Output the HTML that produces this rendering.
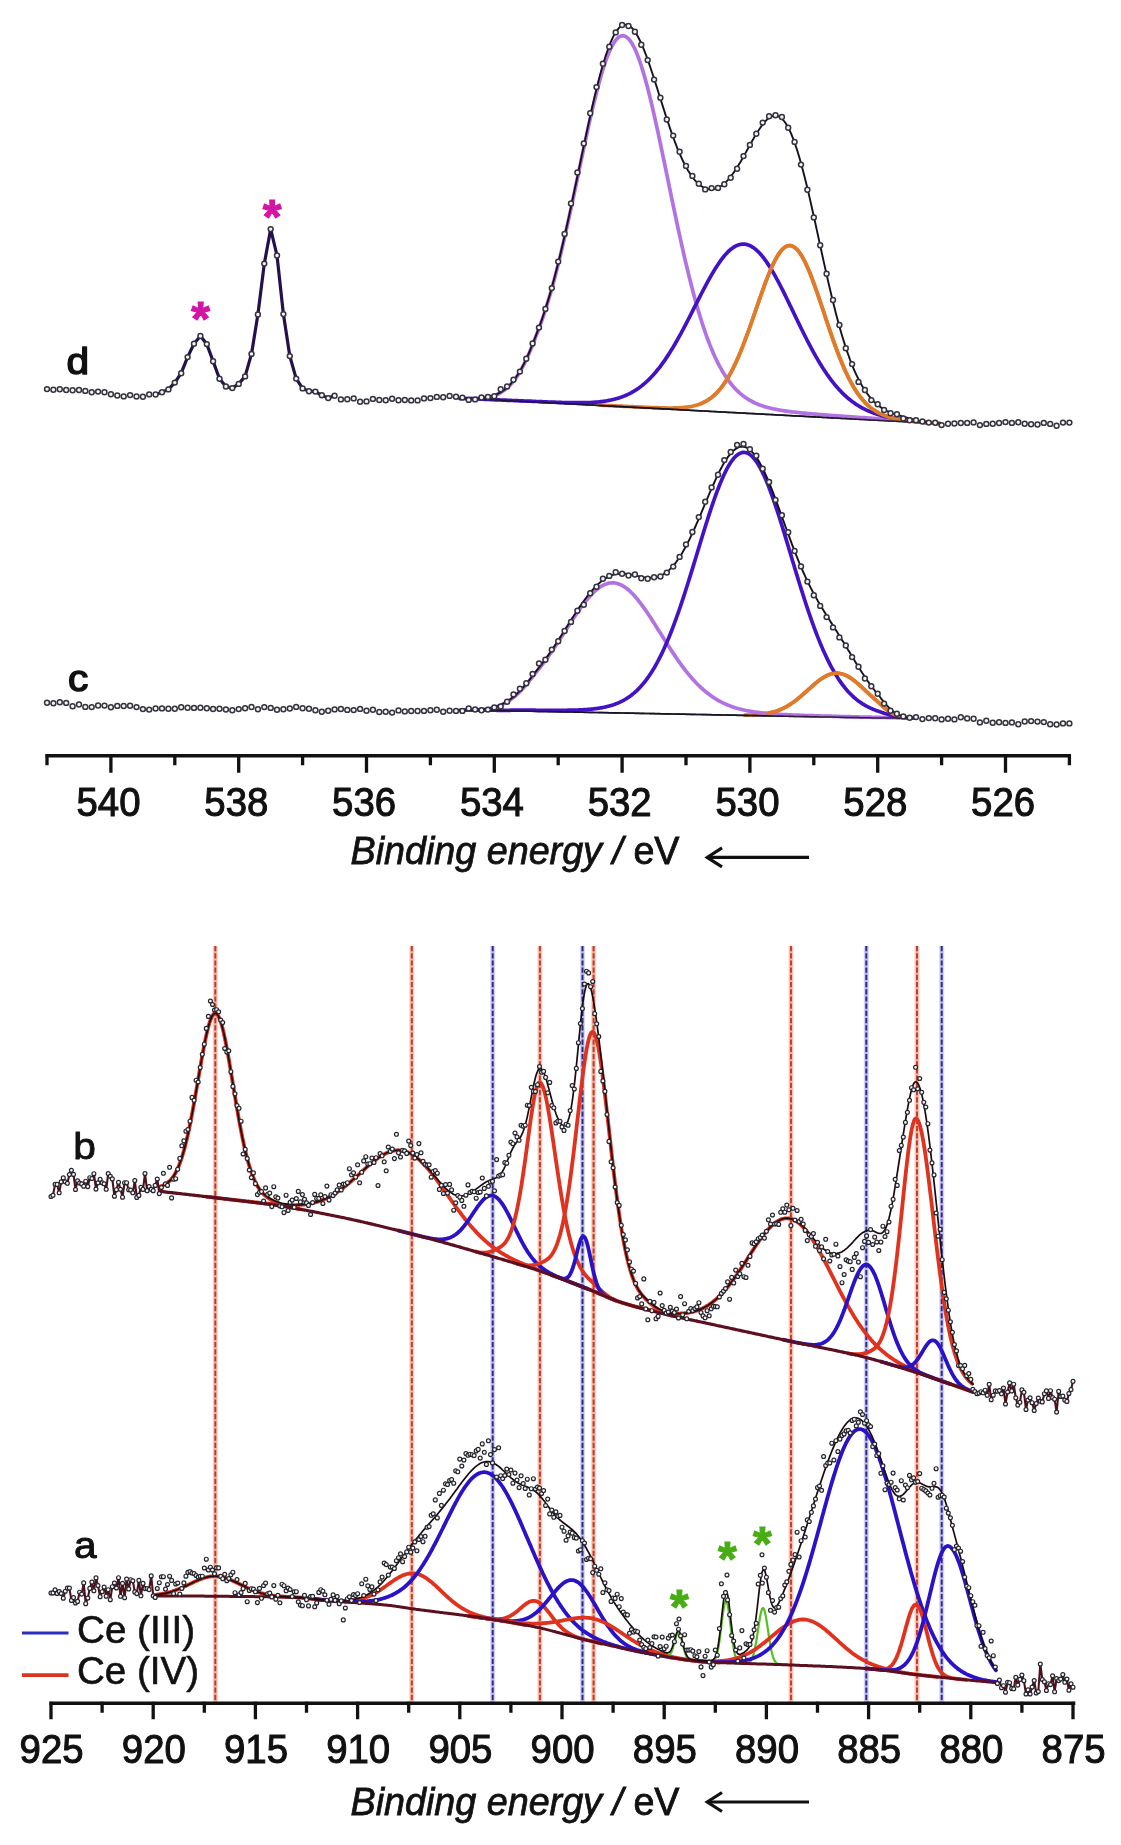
<!DOCTYPE html>
<html lang="en">
<head>
<meta charset="utf-8">
<title>XPS spectra: O 1s and Ce 3d</title>
<style>
html,body{margin:0;padding:0;background:#fff;}
body{width:1121px;height:1845px;overflow:hidden;font-family:"Liberation Sans",Arial,Helvetica,sans-serif;}
svg{display:block;filter:blur(0.7px);}
</style>
</head>
<body>
<svg width="1121" height="1845" viewBox="0 0 1121 1845">
<rect width="1121" height="1845" fill="#fff"/>
<path d="M155.6,394.5 L162.0,392.3 L168.4,389.4 L174.8,382.6 L181.2,373.2 L187.6,357.1 L194.0,343.7 L200.4,336.0 L206.8,344.1 L213.1,361.3 L219.5,378.8 L225.9,386.5 L232.3,388.1 L238.7,383.9 L245.1,376.4 L251.5,353.9 L257.9,314.5 L264.3,263.6 L270.7,229.1 L277.0,255.5 L283.4,314.1 L289.8,356.1 L296.2,378.6 L302.6,388.4 L309.0,391.2 L315.4,391.6 L321.8,395.3 L328.2,398.1 L334.6,395.7" fill="none" stroke="#24104f" stroke-width="3.2" stroke-linejoin="round" stroke-linecap="round" />
<path d="M600.0,405.1 L601.0,405.2 L602.0,405.2 L603.0,405.3 L604.0,405.3 L605.0,405.4 L606.0,405.4 L607.0,405.5 L608.0,405.5 L609.0,405.6 L610.0,405.6 L611.0,405.7 L612.0,405.7 L613.0,405.8 L614.0,405.8 L615.0,405.9 L616.0,405.9 L617.0,406.0 L618.0,406.0 L619.0,406.1 L620.0,406.1 L621.0,406.2 L622.0,406.2 L623.0,406.3 L624.0,406.3 L625.0,406.3 L626.0,406.4 L627.0,406.4 L628.0,406.5 L629.0,406.5 L630.0,406.6 L631.0,406.6 L632.0,406.7 L633.0,406.7 L634.0,406.8 L635.0,406.8 L636.0,406.9 L637.0,406.9 L638.0,407.0 L639.0,407.0 L640.0,407.0 L641.0,407.1 L642.0,407.1 L643.0,407.2 L644.0,407.2 L645.0,407.3 L646.0,407.3 L647.0,407.3 L648.0,407.4 L649.0,407.4 L650.0,407.5 L651.0,407.5 L652.0,407.5 L653.0,407.6 L654.0,407.6 L655.0,407.6 L656.0,407.7 L657.0,407.7 L658.0,407.7 L659.0,407.8 L660.0,407.8 L661.0,407.8 L662.0,407.9 L663.0,407.9 L664.0,407.9 L665.0,407.9 L666.0,407.9 L667.0,408.0 L668.0,408.0 L669.0,408.0 L670.0,408.0 L671.0,408.0 L672.0,408.0 L673.0,408.0 L674.0,407.9 L675.0,407.9 L676.0,407.9 L677.0,407.9 L678.0,407.8 L679.0,407.8 L680.0,407.7 L681.0,407.7 L682.0,407.6 L683.0,407.5 L684.0,407.4 L685.0,407.3 L686.0,407.2 L687.0,407.1 L688.0,407.0 L689.0,406.8 L690.0,406.7 L691.0,406.5 L692.0,406.3 L693.0,406.1 L694.0,405.8 L695.0,405.6 L696.0,405.3 L697.0,405.0 L698.0,404.7 L699.0,404.4 L700.0,404.0 L701.0,403.6 L702.0,403.2 L703.0,402.7 L704.0,402.3 L705.0,401.7 L706.0,401.2 L707.0,400.6 L708.0,400.0 L709.0,399.3 L710.0,398.6 L711.0,397.9 L712.0,397.1 L713.0,396.3 L714.0,395.4 L715.0,394.5 L716.0,393.5 L717.0,392.5 L718.0,391.4 L719.0,390.3 L720.0,389.1 L721.0,387.9 L722.0,386.6 L723.0,385.3 L724.0,383.8 L725.0,382.4 L726.0,380.9 L727.0,379.3 L728.0,377.6 L729.0,375.9 L730.0,374.1 L731.0,372.3 L732.0,370.4 L733.0,368.5 L734.0,366.4 L735.0,364.4 L736.0,362.2 L737.0,360.0 L738.0,357.8 L739.0,355.4 L740.0,353.1 L741.0,350.6 L742.0,348.1 L743.0,345.6 L744.0,343.0 L745.0,340.4 L746.0,337.7 L747.0,335.0 L748.0,332.3 L749.0,329.5 L750.0,326.7 L751.0,323.9 L752.0,321.0 L753.0,318.1 L754.0,315.2 L755.0,312.3 L756.0,309.4 L757.0,306.5 L758.0,303.6 L759.0,300.7 L760.0,297.8 L761.0,295.0 L762.0,292.2 L763.0,289.4 L764.0,286.6 L765.0,283.9 L766.0,281.2 L767.0,278.6 L768.0,276.1 L769.0,273.6 L770.0,271.2 L771.0,268.8 L772.0,266.6 L773.0,264.4 L774.0,262.4 L775.0,260.4 L776.0,258.5 L777.0,256.8 L778.0,255.1 L779.0,253.6 L780.0,252.2 L781.0,250.9 L782.0,249.8 L783.0,248.8 L784.0,247.9 L785.0,247.1 L786.0,246.5 L787.0,246.1 L788.0,245.8 L789.0,245.6 L790.0,245.6 L791.0,245.7 L792.0,246.0 L793.0,246.4 L794.0,247.0 L795.0,247.7 L796.0,248.5 L797.0,249.5 L798.0,250.6 L799.0,251.9 L800.0,253.3 L801.0,254.8 L802.0,256.4 L803.0,258.1 L804.0,260.0 L805.0,262.0 L806.0,264.1 L807.0,266.2 L808.0,268.5 L809.0,270.9 L810.0,273.3 L811.0,275.8 L812.0,278.4 L813.0,281.1 L814.0,283.8 L815.0,286.6 L816.0,289.4 L817.0,292.2 L818.0,295.1 L819.0,298.1 L820.0,301.0 L821.0,304.0 L822.0,307.0 L823.0,310.0 L824.0,313.0 L825.0,316.0 L826.0,319.1 L827.0,322.0 L828.0,325.0 L829.0,328.0 L830.0,330.9 L831.0,333.9 L832.0,336.7 L833.0,339.6 L834.0,342.4 L835.0,345.2 L836.0,347.9 L837.0,350.6 L838.0,353.2 L839.0,355.8 L840.0,358.4 L841.0,360.9 L842.0,363.3 L843.0,365.6 L844.0,367.9 L845.0,370.2 L846.0,372.4 L847.0,374.5 L848.0,376.6 L849.0,378.6 L850.0,380.5 L851.0,382.4 L852.0,384.2 L853.0,386.0 L854.0,387.7 L855.0,389.3 L856.0,390.9 L857.0,392.4 L858.0,393.8 L859.0,395.2 L860.0,396.6 L861.0,397.8 L862.0,399.1 L863.0,400.2 L864.0,401.4 L865.0,402.4 L866.0,403.5 L867.0,404.5 L868.0,405.4 L869.0,406.3 L870.0,407.1 L871.0,407.9 L872.0,408.7 L873.0,409.4 L874.0,410.1 L875.0,410.8 L876.0,411.4 L877.0,412.0 L878.0,412.5 L879.0,413.1 L880.0,413.6 L881.0,414.0 L882.0,414.5 L883.0,414.9 L884.0,415.3 L885.0,415.7 L886.0,416.0 L887.0,416.4 L888.0,416.7 L889.0,417.0 L890.0,417.3 L891.0,417.6 L892.0,417.8 L893.0,418.0 L894.0,418.3 L895.0,418.5 L896.0,418.7 L897.0,418.9 L898.0,419.1 L899.0,419.3 L900.0,419.4 L901.0,419.6 L902.0,419.7 L903.0,419.9 L904.0,420.1 L905.0,420.2 L906.0,420.4 L907.0,420.5 L908.0,420.6 L909.0,420.8 L910.0,420.9 L911.0,421.0 L912.0,421.2 L913.0,421.3 L914.0,421.4 L915.0,421.5 L916.0,421.6 L917.0,421.7 L918.0,421.9 L919.0,422.0 L920.0,422.1 L921.0,422.2 L922.0,422.2 L923.0,422.3 L924.0,422.4 L925.0,422.5 L926.0,422.6 L927.0,422.7 L928.0,422.8 L929.0,422.8 L930.0,422.9 L931.0,423.0 L932.0,423.1 L933.0,423.1 L934.0,423.2 L935.0,423.3 L936.0,423.3 L937.0,423.4 L938.0,423.5 L939.0,423.5 L940.0,423.6" fill="none" stroke="#e07b2a" stroke-width="3.7" stroke-linejoin="round" stroke-linecap="round" />
<path d="M460.0,398.6 L461.0,398.5 L462.0,398.5 L463.0,398.5 L464.0,398.5 L465.0,398.5 L466.0,398.5 L467.0,398.5 L468.0,398.5 L469.0,398.6 L470.0,398.6 L471.0,398.7 L472.0,398.7 L473.0,398.8 L474.0,398.8 L475.0,398.9 L476.0,398.9 L477.0,399.0 L478.0,399.0 L479.0,399.1 L480.0,399.1 L481.0,399.2 L482.0,399.2 L483.0,399.3 L484.0,399.3 L485.0,399.4 L486.0,399.5 L487.0,399.5 L488.0,399.6 L489.0,399.6 L490.0,399.7 L491.0,399.7 L492.0,399.8 L493.0,399.8 L494.0,399.9 L495.0,399.9 L496.0,400.0 L497.0,400.0 L498.0,400.1 L499.0,400.1 L500.0,400.2 L501.0,400.3 L502.0,400.3 L503.0,400.4 L504.0,400.4 L505.0,400.5 L506.0,400.5 L507.0,400.6 L508.0,400.6 L509.0,400.7 L510.0,400.7 L511.0,400.8 L512.0,400.8 L513.0,400.9 L514.0,400.9 L515.0,401.0 L516.0,401.0 L517.0,401.1 L518.0,401.2 L519.0,401.2 L520.0,401.3 L521.0,401.3 L522.0,401.4 L523.0,401.4 L524.0,401.5 L525.0,401.5 L526.0,401.6 L527.0,401.6 L528.0,401.7 L529.0,401.7 L530.0,401.8 L531.0,401.8 L532.0,401.9 L533.0,402.0 L534.0,402.0 L535.0,402.1 L536.0,402.1 L537.0,402.2 L538.0,402.2 L539.0,402.3 L540.0,402.3 L541.0,402.4 L542.0,402.4 L543.0,402.5 L544.0,402.5 L545.0,402.6 L546.0,402.6 L547.0,402.7 L548.0,402.7 L549.0,402.8 L550.0,402.9 L551.0,402.9 L552.0,403.0 L553.0,403.0 L554.0,403.1 L555.0,403.1 L556.0,403.2 L557.0,403.2 L558.0,403.3 L559.0,403.3 L560.0,403.4 L561.0,403.4 L562.0,403.5 L563.0,403.5 L564.0,403.6 L565.0,403.7 L566.0,403.7 L567.0,403.8 L568.0,403.8 L569.0,403.9 L570.0,403.9 L571.0,404.0 L572.0,404.0 L573.0,404.1 L574.0,404.1 L575.0,404.2 L576.0,404.2 L577.0,404.3 L578.0,404.3 L579.0,404.4 L580.0,404.4 L581.0,404.5 L582.0,404.6 L583.0,404.6 L584.0,404.7 L585.0,404.7 L586.0,404.8 L587.0,404.8 L588.0,404.9 L589.0,404.9 L590.0,405.0 L591.0,405.0 L592.0,405.1 L593.0,405.1 L594.0,405.2 L595.0,405.2 L596.0,405.3 L597.0,405.3 L598.0,405.4 L599.0,405.5 L600.0,405.5 L601.0,405.6 L602.0,405.6 L603.0,405.7 L604.0,405.7 L605.0,405.8 L606.0,405.8 L607.0,405.9 L608.0,405.9 L609.0,406.0 L610.0,406.0 L611.0,406.1 L612.0,406.1 L613.0,406.2 L614.0,406.3 L615.0,406.3 L616.0,406.4 L617.0,406.4 L618.0,406.5 L619.0,406.5 L620.0,406.6 L621.0,406.6 L622.0,406.7 L623.0,406.7 L624.0,406.8 L625.0,406.8 L626.0,406.9 L627.0,406.9 L628.0,407.0 L629.0,407.0 L630.0,407.1 L631.0,407.2 L632.0,407.2 L633.0,407.3 L634.0,407.3 L635.0,407.4 L636.0,407.4 L637.0,407.5 L638.0,407.5 L639.0,407.6 L640.0,407.6 L641.0,407.7 L642.0,407.7 L643.0,407.8 L644.0,407.8 L645.0,407.9 L646.0,408.0 L647.0,408.0 L648.0,408.1 L649.0,408.1 L650.0,408.2 L651.0,408.2 L652.0,408.3 L653.0,408.3 L654.0,408.4 L655.0,408.4 L656.0,408.5 L657.0,408.5 L658.0,408.6 L659.0,408.6 L660.0,408.7 L661.0,408.7 L662.0,408.8 L663.0,408.9 L664.0,408.9 L665.0,409.0 L666.0,409.0 L667.0,409.1 L668.0,409.1 L669.0,409.2 L670.0,409.2 L671.0,409.3 L672.0,409.3 L673.0,409.4 L674.0,409.4 L675.0,409.5 L676.0,409.5 L677.0,409.6 L678.0,409.7 L679.0,409.7 L680.0,409.8 L681.0,409.8 L682.0,409.9 L683.0,409.9 L684.0,410.0 L685.0,410.0 L686.0,410.1 L687.0,410.1 L688.0,410.2 L689.0,410.2 L690.0,410.3 L691.0,410.3 L692.0,410.4 L693.0,410.4 L694.0,410.5 L695.0,410.6 L696.0,410.6 L697.0,410.7 L698.0,410.7 L699.0,410.8 L700.0,410.8 L701.0,410.9 L702.0,410.9 L703.0,411.0 L704.0,411.0 L705.0,411.1 L706.0,411.1 L707.0,411.2 L708.0,411.2 L709.0,411.3 L710.0,411.4 L711.0,411.4 L712.0,411.5 L713.0,411.5 L714.0,411.6 L715.0,411.6 L716.0,411.7 L717.0,411.7 L718.0,411.8 L719.0,411.8 L720.0,411.9 L721.0,411.9 L722.0,412.0 L723.0,412.0 L724.0,412.1 L725.0,412.1 L726.0,412.2 L727.0,412.3 L728.0,412.3 L729.0,412.4 L730.0,412.4 L731.0,412.5 L732.0,412.5 L733.0,412.6 L734.0,412.6 L735.0,412.7 L736.0,412.7 L737.0,412.8 L738.0,412.8 L739.0,412.9 L740.0,412.9 L741.0,413.0 L742.0,413.0 L743.0,413.1 L744.0,413.2 L745.0,413.2 L746.0,413.3 L747.0,413.3 L748.0,413.4 L749.0,413.4 L750.0,413.5 L751.0,413.5 L752.0,413.6 L753.0,413.6 L754.0,413.7 L755.0,413.7 L756.0,413.8 L757.0,413.8 L758.0,413.9 L759.0,414.0 L760.0,414.0 L761.0,414.1 L762.0,414.1 L763.0,414.2 L764.0,414.2 L765.0,414.3 L766.0,414.3 L767.0,414.4 L768.0,414.4 L769.0,414.5 L770.0,414.5 L771.0,414.6 L772.0,414.6 L773.0,414.7 L774.0,414.7 L775.0,414.8 L776.0,414.9 L777.0,414.9 L778.0,415.0 L779.0,415.0 L780.0,415.1 L781.0,415.1 L782.0,415.2 L783.0,415.2 L784.0,415.3 L785.0,415.3 L786.0,415.4 L787.0,415.4 L788.0,415.5 L789.0,415.5 L790.0,415.6 L791.0,415.7 L792.0,415.7 L793.0,415.8 L794.0,415.8 L795.0,415.9 L796.0,415.9 L797.0,416.0 L798.0,416.0 L799.0,416.1 L800.0,416.1 L801.0,416.2 L802.0,416.2 L803.0,416.3 L804.0,416.3 L805.0,416.4 L806.0,416.4 L807.0,416.5 L808.0,416.6 L809.0,416.6 L810.0,416.7 L811.0,416.7 L812.0,416.8 L813.0,416.8 L814.0,416.9 L815.0,416.9 L816.0,417.0 L817.0,417.0 L818.0,417.1 L819.0,417.1 L820.0,417.2 L821.0,417.2 L822.0,417.3 L823.0,417.4 L824.0,417.4 L825.0,417.5 L826.0,417.5 L827.0,417.6 L828.0,417.6 L829.0,417.7 L830.0,417.7 L831.0,417.8 L832.0,417.8 L833.0,417.9 L834.0,417.9 L835.0,418.0 L836.0,418.0 L837.0,418.1 L838.0,418.1 L839.0,418.2 L840.0,418.3 L841.0,418.3 L842.0,418.4 L843.0,418.4 L844.0,418.5 L845.0,418.5 L846.0,418.6 L847.0,418.6 L848.0,418.7 L849.0,418.7 L850.0,418.8 L851.0,418.8 L852.0,418.9 L853.0,418.9 L854.0,419.0 L855.0,419.0 L856.0,419.1 L857.0,419.2 L858.0,419.2 L859.0,419.3 L860.0,419.3 L861.0,419.4 L862.0,419.4 L863.0,419.5 L864.0,419.5 L865.0,419.6 L866.0,419.6 L867.0,419.7 L868.0,419.7 L869.0,419.8 L870.0,419.8 L871.0,419.9 L872.0,420.0 L873.0,420.0 L874.0,420.1 L875.0,420.1 L876.0,420.2 L877.0,420.2 L878.0,420.3 L879.0,420.3 L880.0,420.4 L881.0,420.4 L882.0,420.5 L883.0,420.5 L884.0,420.6 L885.0,420.6 L886.0,420.7 L887.0,420.7 L888.0,420.8 L889.0,420.9 L890.0,420.9 L891.0,421.0 L892.0,421.0 L893.0,421.1 L894.0,421.1 L895.0,421.2 L896.0,421.2 L897.0,421.3 L898.0,421.3 L899.0,421.4 L900.0,421.4 L901.0,421.5 L902.0,421.5 L903.0,421.6 L904.0,421.7 L905.0,421.7 L906.0,421.8 L907.0,421.8 L908.0,421.9 L909.0,421.9 L910.0,422.0 L911.0,422.0 L912.0,422.1 L913.0,422.1 L914.0,422.2 L915.0,422.2 L916.0,422.3 L917.0,422.3 L918.0,422.4 L919.0,422.4 L920.0,422.5 L921.0,422.6 L922.0,422.6 L923.0,422.7 L924.0,422.7 L925.0,422.8 L926.0,422.8 L927.0,422.9 L928.0,422.9 L929.0,423.0 L930.0,423.0 L931.0,423.1 L932.0,423.1 L933.0,423.2 L934.0,423.2 L935.0,423.3 L936.0,423.4 L937.0,423.4 L938.0,423.5 L939.0,423.5 L940.0,423.6" fill="none" stroke="#1a1a1a" stroke-width="1.7" stroke-linejoin="round" stroke-linecap="round" />
<path d="M460.0,398.6 L461.0,398.5 L462.0,398.5 L463.0,398.5 L464.0,398.5 L465.0,398.5 L466.0,398.5 L467.0,398.5 L468.0,398.5 L469.0,398.5 L470.0,398.5 L471.0,398.5 L472.0,398.5 L473.0,398.5 L474.0,398.5 L475.0,398.5 L476.0,398.5 L477.0,398.4 L478.0,398.4 L479.0,398.3 L480.0,398.3 L481.0,398.2 L482.0,398.1 L483.0,398.0 L484.0,397.9 L485.0,397.7 L486.0,397.6 L487.0,397.4 L488.0,397.2 L489.0,397.0 L490.0,396.8 L491.0,396.5 L492.0,396.3 L493.0,396.0 L494.0,395.6 L495.0,395.3 L496.0,394.9 L497.0,394.4 L498.0,394.0 L499.0,393.5 L500.0,393.0 L501.0,392.4 L502.0,391.8 L503.0,391.1 L504.0,390.4 L505.0,389.7 L506.0,388.9 L507.0,388.1 L508.0,387.2 L509.0,386.2 L510.0,385.2 L511.0,384.1 L512.0,383.0 L513.0,381.8 L514.0,380.6 L515.0,379.3 L516.0,377.9 L517.0,376.4 L518.0,374.9 L519.0,373.3 L520.0,371.6 L521.0,369.9 L522.0,368.1 L523.0,366.2 L524.0,364.3 L525.0,362.3 L526.0,360.2 L527.0,358.1 L528.0,355.8 L529.0,353.6 L530.0,351.2 L531.0,348.8 L532.0,346.4 L533.0,343.9 L534.0,341.4 L535.0,338.8 L536.0,336.2 L537.0,333.6 L538.0,331.0 L539.0,328.3 L540.0,325.7 L541.0,322.9 L542.0,320.1 L543.0,317.2 L544.0,314.3 L545.0,311.2 L546.0,308.1 L547.0,304.9 L548.0,301.6 L549.0,298.3 L550.0,294.9 L551.0,291.4 L552.0,287.9 L553.0,284.2 L554.0,280.5 L555.0,276.8 L556.0,272.9 L557.0,269.0 L558.0,265.0 L559.0,261.0 L560.0,256.9 L561.0,252.8 L562.0,248.5 L563.0,244.3 L564.0,239.9 L565.0,235.6 L566.0,231.1 L567.0,226.7 L568.0,222.2 L569.0,217.6 L570.0,213.0 L571.0,208.4 L572.0,203.8 L573.0,199.1 L574.0,194.4 L575.0,189.7 L576.0,185.0 L577.0,180.2 L578.0,175.5 L579.0,170.7 L580.0,166.0 L581.0,161.2 L582.0,156.5 L583.0,151.8 L584.0,147.1 L585.0,142.5 L586.0,137.9 L587.0,133.3 L588.0,128.7 L589.0,124.2 L590.0,119.8 L591.0,115.4 L592.0,111.1 L593.0,106.8 L594.0,102.6 L595.0,98.5 L596.0,94.5 L597.0,90.6 L598.0,86.8 L599.0,83.0 L600.0,79.4 L601.0,75.9 L602.0,72.5 L603.0,69.2 L604.0,66.1 L605.0,63.1 L606.0,60.2 L607.0,57.5 L608.0,54.9 L609.0,52.4 L610.0,50.1 L611.0,48.0 L612.0,46.0 L613.0,44.2 L614.0,42.6 L615.0,41.1 L616.0,39.8 L617.0,38.7 L618.0,37.7 L619.0,37.0 L620.0,36.4 L621.0,36.0 L622.0,35.8 L623.0,35.7 L624.0,35.9 L625.0,36.2 L626.0,36.7 L627.0,37.4 L628.0,38.3 L629.0,39.3 L630.0,40.6 L631.0,42.0 L632.0,43.5 L633.0,45.3 L634.0,47.2 L635.0,49.3 L636.0,51.5 L637.0,53.9 L638.0,56.5 L639.0,59.2 L640.0,62.0 L641.0,65.0 L642.0,68.1 L643.0,71.4 L644.0,74.7 L645.0,78.2 L646.0,81.9 L647.0,85.6 L648.0,89.4 L649.0,93.4 L650.0,97.4 L651.0,101.5 L652.0,105.7 L653.0,110.0 L654.0,114.4 L655.0,118.8 L656.0,123.3 L657.0,127.8 L658.0,132.4 L659.0,137.1 L660.0,141.8 L661.0,146.5 L662.0,151.3 L663.0,156.1 L664.0,160.9 L665.0,165.7 L666.0,170.5 L667.0,175.4 L668.0,180.2 L669.0,185.1 L670.0,189.9 L671.0,194.8 L672.0,199.6 L673.0,204.4 L674.0,209.2 L675.0,213.9 L676.0,218.7 L677.0,223.4 L678.0,228.0 L679.0,232.6 L680.0,237.2 L681.0,241.7 L682.0,246.2 L683.0,250.6 L684.0,255.0 L685.0,259.3 L686.0,263.6 L687.0,267.8 L688.0,271.9 L689.0,276.0 L690.0,280.0 L691.0,284.0 L692.0,287.8 L693.0,291.7 L694.0,295.4 L695.0,299.1 L696.0,302.6 L697.0,306.2 L698.0,309.6 L699.0,313.0 L700.0,316.3 L701.0,319.5 L702.0,322.7 L703.0,325.7 L704.0,328.7 L705.0,331.6 L706.0,334.5 L707.0,337.3 L708.0,340.0 L709.0,342.6 L710.0,345.2 L711.0,347.6 L712.0,350.1 L713.0,352.4 L714.0,354.7 L715.0,356.9 L716.0,359.0 L717.0,361.1 L718.0,363.1 L719.0,365.0 L720.0,366.9 L721.0,368.7 L722.0,370.5 L723.0,372.2 L724.0,373.8 L725.0,375.4 L726.0,376.9 L727.0,378.4 L728.0,379.8 L729.0,381.2 L730.0,382.5 L731.0,383.8 L732.0,385.0 L733.0,386.2 L734.0,387.3 L735.0,388.4 L736.0,389.5 L737.0,390.5 L738.0,391.4 L739.0,392.4 L740.0,393.2 L741.0,394.1 L742.0,394.9 L743.0,395.7 L744.0,396.5 L745.0,397.2 L746.0,397.9 L747.0,398.5 L748.0,399.2 L749.0,399.8 L750.0,400.4 L751.0,400.9 L752.0,401.5 L753.0,402.0 L754.0,402.5 L755.0,403.0 L756.0,403.4 L757.0,403.8 L758.0,404.3 L759.0,404.7 L760.0,405.0 L761.0,405.4 L762.0,405.7 L763.0,406.1 L764.0,406.4 L765.0,406.7 L766.0,407.0 L767.0,407.3 L768.0,407.6 L769.0,407.8 L770.0,408.1 L771.0,408.3 L772.0,408.6 L773.0,408.8 L774.0,409.0 L775.0,409.2 L776.0,409.4 L777.0,409.6 L778.0,409.8 L779.0,410.0 L780.0,410.1 L781.0,410.3 L782.0,410.5 L783.0,410.6 L784.0,410.8 L785.0,410.9 L786.0,411.1 L787.0,411.2 L788.0,411.3 L789.0,411.5 L790.0,411.6 L791.0,411.7 L792.0,411.9 L793.0,412.0 L794.0,412.1 L795.0,412.2 L796.0,412.3 L797.0,412.4 L798.0,412.5 L799.0,412.6 L800.0,412.7 L801.0,412.9 L802.0,413.0 L803.0,413.1 L804.0,413.1 L805.0,413.2 L806.0,413.3 L807.0,413.4 L808.0,413.5 L809.0,413.6 L810.0,413.7 L811.0,413.8 L812.0,413.9 L813.0,414.0 L814.0,414.1 L815.0,414.1 L816.0,414.2 L817.0,414.3 L818.0,414.4 L819.0,414.5 L820.0,414.5 L821.0,414.6 L822.0,414.7 L823.0,414.8 L824.0,414.9 L825.0,414.9 L826.0,415.0 L827.0,415.1 L828.0,415.2 L829.0,415.3 L830.0,415.3 L831.0,415.4 L832.0,415.5 L833.0,415.6 L834.0,415.6 L835.0,415.7 L836.0,415.8 L837.0,415.9 L838.0,415.9 L839.0,416.0 L840.0,416.1 L841.0,416.1 L842.0,416.2 L843.0,416.3 L844.0,416.4 L845.0,416.4 L846.0,416.5 L847.0,416.6 L848.0,416.6 L849.0,416.7 L850.0,416.8 L851.0,416.9 L852.0,416.9 L853.0,417.0 L854.0,417.1 L855.0,417.1 L856.0,417.2 L857.0,417.3 L858.0,417.3 L859.0,417.4 L860.0,417.5 L861.0,417.5 L862.0,417.6 L863.0,417.7 L864.0,417.7 L865.0,417.8 L866.0,417.9 L867.0,417.9 L868.0,418.0 L869.0,418.1 L870.0,418.1 L871.0,418.2 L872.0,418.3 L873.0,418.3 L874.0,418.4 L875.0,418.5 L876.0,418.5 L877.0,418.6 L878.0,418.7 L879.0,418.7 L880.0,418.8 L881.0,418.9 L882.0,418.9 L883.0,419.0 L884.0,419.1 L885.0,419.1 L886.0,419.2 L887.0,419.3 L888.0,419.3 L889.0,419.4 L890.0,419.4 L891.0,419.5 L892.0,419.6 L893.0,419.6 L894.0,419.7 L895.0,419.8 L896.0,419.8 L897.0,419.9 L898.0,419.9 L899.0,420.0 L900.0,420.1 L901.0,420.1 L902.0,420.2 L903.0,420.3 L904.0,420.4 L905.0,420.4 L906.0,420.5 L907.0,420.6 L908.0,420.7 L909.0,420.8 L910.0,420.9 L911.0,421.0 L912.0,421.1 L913.0,421.2 L914.0,421.3 L915.0,421.4 L916.0,421.5 L917.0,421.6 L918.0,421.7 L919.0,421.8 L920.0,421.9 L921.0,422.0 L922.0,422.1 L923.0,422.2 L924.0,422.3 L925.0,422.4 L926.0,422.5 L927.0,422.6 L928.0,422.7 L929.0,422.8 L930.0,422.9 L931.0,422.9 L932.0,423.0 L933.0,423.1 L934.0,423.2 L935.0,423.3 L936.0,423.3 L937.0,423.4 L938.0,423.4 L939.0,423.5 L940.0,423.6" fill="none" stroke="#b272e2" stroke-width="3.7" stroke-linejoin="round" stroke-linecap="round" />
<path d="M460.0,398.6 L461.0,398.5 L462.0,398.5 L463.0,398.5 L464.0,398.5 L465.0,398.5 L466.0,398.5 L467.0,398.5 L468.0,398.5 L469.0,398.5 L470.0,398.6 L471.0,398.7 L472.0,398.7 L473.0,398.8 L474.0,398.8 L475.0,398.8 L476.0,398.9 L477.0,398.9 L478.0,399.0 L479.0,399.0 L480.0,399.1 L481.0,399.1 L482.0,399.2 L483.0,399.2 L484.0,399.3 L485.0,399.3 L486.0,399.4 L487.0,399.4 L488.0,399.5 L489.0,399.5 L490.0,399.5 L491.0,399.6 L492.0,399.6 L493.0,399.7 L494.0,399.7 L495.0,399.8 L496.0,399.8 L497.0,399.9 L498.0,399.9 L499.0,399.9 L500.0,400.0 L501.0,400.0 L502.0,400.1 L503.0,400.1 L504.0,400.1 L505.0,400.2 L506.0,400.2 L507.0,400.3 L508.0,400.3 L509.0,400.4 L510.0,400.4 L511.0,400.4 L512.0,400.5 L513.0,400.5 L514.0,400.6 L515.0,400.6 L516.0,400.6 L517.0,400.7 L518.0,400.7 L519.0,400.8 L520.0,400.8 L521.0,400.8 L522.0,400.9 L523.0,400.9 L524.0,401.0 L525.0,401.0 L526.0,401.0 L527.0,401.1 L528.0,401.1 L529.0,401.2 L530.0,401.2 L531.0,401.2 L532.0,401.3 L533.0,401.3 L534.0,401.4 L535.0,401.4 L536.0,401.5 L537.0,401.5 L538.0,401.5 L539.0,401.6 L540.0,401.6 L541.0,401.7 L542.0,401.7 L543.0,401.8 L544.0,401.8 L545.0,401.9 L546.0,401.9 L547.0,401.9 L548.0,402.0 L549.0,402.0 L550.0,402.1 L551.0,402.1 L552.0,402.1 L553.0,402.2 L554.0,402.2 L555.0,402.2 L556.0,402.3 L557.0,402.3 L558.0,402.4 L559.0,402.4 L560.0,402.4 L561.0,402.4 L562.0,402.5 L563.0,402.5 L564.0,402.5 L565.0,402.6 L566.0,402.6 L567.0,402.6 L568.0,402.6 L569.0,402.7 L570.0,402.7 L571.0,402.7 L572.0,402.7 L573.0,402.7 L574.0,402.7 L575.0,402.7 L576.0,402.7 L577.0,402.7 L578.0,402.7 L579.0,402.7 L580.0,402.7 L581.0,402.7 L582.0,402.7 L583.0,402.7 L584.0,402.7 L585.0,402.7 L586.0,402.6 L587.0,402.6 L588.0,402.6 L589.0,402.5 L590.0,402.5 L591.0,402.5 L592.0,402.4 L593.0,402.3 L594.0,402.3 L595.0,402.2 L596.0,402.1 L597.0,402.1 L598.0,402.0 L599.0,401.9 L600.0,401.8 L601.0,401.6 L602.0,401.5 L603.0,401.4 L604.0,401.3 L605.0,401.1 L606.0,401.0 L607.0,400.8 L608.0,400.6 L609.0,400.4 L610.0,400.2 L611.0,400.0 L612.0,399.8 L613.0,399.6 L614.0,399.3 L615.0,399.1 L616.0,398.8 L617.0,398.5 L618.0,398.2 L619.0,397.9 L620.0,397.6 L621.0,397.3 L622.0,396.9 L623.0,396.5 L624.0,396.1 L625.0,395.7 L626.0,395.3 L627.0,394.8 L628.0,394.4 L629.0,393.9 L630.0,393.4 L631.0,392.9 L632.0,392.3 L633.0,391.7 L634.0,391.2 L635.0,390.5 L636.0,389.9 L637.0,389.2 L638.0,388.6 L639.0,387.9 L640.0,387.1 L641.0,386.4 L642.0,385.6 L643.0,384.8 L644.0,383.9 L645.0,383.1 L646.0,382.2 L647.0,381.3 L648.0,380.3 L649.0,379.4 L650.0,378.4 L651.0,377.3 L652.0,376.3 L653.0,375.2 L654.0,374.1 L655.0,372.9 L656.0,371.8 L657.0,370.5 L658.0,369.3 L659.0,368.1 L660.0,366.8 L661.0,365.4 L662.0,364.1 L663.0,362.7 L664.0,361.3 L665.0,359.9 L666.0,358.4 L667.0,356.9 L668.0,355.4 L669.0,353.8 L670.0,352.3 L671.0,350.6 L672.0,349.0 L673.0,347.4 L674.0,345.7 L675.0,344.0 L676.0,342.2 L677.0,340.5 L678.0,338.7 L679.0,336.9 L680.0,335.1 L681.0,333.3 L682.0,331.4 L683.0,329.6 L684.0,327.7 L685.0,325.8 L686.0,323.9 L687.0,321.9 L688.0,320.0 L689.0,318.1 L690.0,316.1 L691.0,314.1 L692.0,312.2 L693.0,310.2 L694.0,308.2 L695.0,306.2 L696.0,304.3 L697.0,302.3 L698.0,300.3 L699.0,298.3 L700.0,296.4 L701.0,294.4 L702.0,292.5 L703.0,290.6 L704.0,288.7 L705.0,286.8 L706.0,284.9 L707.0,283.0 L708.0,281.2 L709.0,279.4 L710.0,277.6 L711.0,275.8 L712.0,274.1 L713.0,272.4 L714.0,270.8 L715.0,269.1 L716.0,267.5 L717.0,266.0 L718.0,264.5 L719.0,263.0 L720.0,261.6 L721.0,260.2 L722.0,258.8 L723.0,257.5 L724.0,256.3 L725.0,255.1 L726.0,254.0 L727.0,252.9 L728.0,251.9 L729.0,250.9 L730.0,250.0 L731.0,249.2 L732.0,248.4 L733.0,247.7 L734.0,247.0 L735.0,246.5 L736.0,245.9 L737.0,245.5 L738.0,245.1 L739.0,244.8 L740.0,244.5 L741.0,244.3 L742.0,244.2 L743.0,244.1 L744.0,244.2 L745.0,244.2 L746.0,244.4 L747.0,244.6 L748.0,244.9 L749.0,245.3 L750.0,245.7 L751.0,246.2 L752.0,246.8 L753.0,247.4 L754.0,248.1 L755.0,248.9 L756.0,249.7 L757.0,250.6 L758.0,251.5 L759.0,252.5 L760.0,253.6 L761.0,254.7 L762.0,255.9 L763.0,257.1 L764.0,258.4 L765.0,259.8 L766.0,261.2 L767.0,262.6 L768.0,264.1 L769.0,265.6 L770.0,267.2 L771.0,268.8 L772.0,270.5 L773.0,272.2 L774.0,273.9 L775.0,275.7 L776.0,277.5 L777.0,279.4 L778.0,281.2 L779.0,283.1 L780.0,285.0 L781.0,287.0 L782.0,288.9 L783.0,290.9 L784.0,292.9 L785.0,294.9 L786.0,297.0 L787.0,299.0 L788.0,301.1 L789.0,303.1 L790.0,305.2 L791.0,307.3 L792.0,309.4 L793.0,311.4 L794.0,313.5 L795.0,315.6 L796.0,317.7 L797.0,319.8 L798.0,321.8 L799.0,323.9 L800.0,325.9 L801.0,328.0 L802.0,330.0 L803.0,332.0 L804.0,334.0 L805.0,336.0 L806.0,338.0 L807.0,340.0 L808.0,341.9 L809.0,343.8 L810.0,345.7 L811.0,347.6 L812.0,349.5 L813.0,351.3 L814.0,353.1 L815.0,354.9 L816.0,356.7 L817.0,358.4 L818.0,360.1 L819.0,361.8 L820.0,363.5 L821.0,365.1 L822.0,366.7 L823.0,368.3 L824.0,369.8 L825.0,371.3 L826.0,372.8 L827.0,374.3 L828.0,375.7 L829.0,377.1 L830.0,378.4 L831.0,379.8 L832.0,381.1 L833.0,382.4 L834.0,383.6 L835.0,384.9 L836.0,386.0 L837.0,387.2 L838.0,388.3 L839.0,389.4 L840.0,390.5 L841.0,391.6 L842.0,392.6 L843.0,393.6 L844.0,394.6 L845.0,395.5 L846.0,396.4 L847.0,397.3 L848.0,398.2 L849.0,399.0 L850.0,399.8 L851.0,400.6 L852.0,401.4 L853.0,402.1 L854.0,402.8 L855.0,403.5 L856.0,404.2 L857.0,404.9 L858.0,405.5 L859.0,406.1 L860.0,406.7 L861.0,407.3 L862.0,407.8 L863.0,408.4 L864.0,408.9 L865.0,409.4 L866.0,409.9 L867.0,410.3 L868.0,410.8 L869.0,411.2 L870.0,411.6 L871.0,412.0 L872.0,412.4 L873.0,412.8 L874.0,413.2 L875.0,413.5 L876.0,413.8 L877.0,414.2 L878.0,414.5 L879.0,414.8 L880.0,415.1 L881.0,415.4 L882.0,415.6 L883.0,415.9 L884.0,416.1 L885.0,416.4 L886.0,416.6 L887.0,416.8 L888.0,417.1 L889.0,417.3 L890.0,417.5 L891.0,417.7 L892.0,417.9 L893.0,418.0 L894.0,418.2 L895.0,418.4 L896.0,418.5 L897.0,418.7 L898.0,418.9 L899.0,419.0 L900.0,419.2 L901.0,419.3 L902.0,419.4 L903.0,419.6 L904.0,419.7 L905.0,419.9 L906.0,420.0 L907.0,420.2 L908.0,420.3 L909.0,420.5 L910.0,420.6 L911.0,420.8 L912.0,420.9 L913.0,421.0 L914.0,421.2 L915.0,421.3 L916.0,421.4 L917.0,421.6 L918.0,421.7 L919.0,421.8 L920.0,421.9 L921.0,422.0 L922.0,422.1 L923.0,422.2 L924.0,422.3 L925.0,422.4 L926.0,422.5 L927.0,422.6 L928.0,422.7 L929.0,422.8 L930.0,422.9 L931.0,423.0 L932.0,423.0 L933.0,423.1 L934.0,423.2 L935.0,423.3 L936.0,423.3 L937.0,423.4 L938.0,423.5 L939.0,423.5 L940.0,423.6" fill="none" stroke="#4312c4" stroke-width="3.7" stroke-linejoin="round" stroke-linecap="round" />
<path d="M700.0,404.0 L701.0,403.6 L702.0,403.2 L703.0,402.7 L704.0,402.3 L705.0,401.7 L706.0,401.2 L707.0,400.6 L708.0,400.0 L709.0,399.3 L710.0,398.6 L711.0,397.9 L712.0,397.1 L713.0,396.3 L714.0,395.4 L715.0,394.5 L716.0,393.5 L717.0,392.5 L718.0,391.4 L719.0,390.3 L720.0,389.1 L721.0,387.9 L722.0,386.6 L723.0,385.3 L724.0,383.8 L725.0,382.4 L726.0,380.9 L727.0,379.3 L728.0,377.6 L729.0,375.9 L730.0,374.1 L731.0,372.3 L732.0,370.4 L733.0,368.5 L734.0,366.4 L735.0,364.4 L736.0,362.2 L737.0,360.0 L738.0,357.8 L739.0,355.4 L740.0,353.1 L741.0,350.6 L742.0,348.1 L743.0,345.6 L744.0,343.0 L745.0,340.4 L746.0,337.7 L747.0,335.0 L748.0,332.3 L749.0,329.5 L750.0,326.7 L751.0,323.9 L752.0,321.0 L753.0,318.1 L754.0,315.2 L755.0,312.3 L756.0,309.4 L757.0,306.5 L758.0,303.6 L759.0,300.7 L760.0,297.8 L761.0,295.0 L762.0,292.2 L763.0,289.4 L764.0,286.6 L765.0,283.9 L766.0,281.2 L767.0,278.6 L768.0,276.1 L769.0,273.6 L770.0,271.2 L771.0,268.8 L772.0,266.6 L773.0,264.4 L774.0,262.4 L775.0,260.4 L776.0,258.5 L777.0,256.8 L778.0,255.1 L779.0,253.6 L780.0,252.2 L781.0,250.9 L782.0,249.8 L783.0,248.8 L784.0,247.9 L785.0,247.1 L786.0,246.5 L787.0,246.1 L788.0,245.8 L789.0,245.6 L790.0,245.6 L791.0,245.7 L792.0,246.0 L793.0,246.4 L794.0,247.0 L795.0,247.7 L796.0,248.5 L797.0,249.5 L798.0,250.6 L799.0,251.9 L800.0,253.3 L801.0,254.8 L802.0,256.4 L803.0,258.1 L804.0,260.0 L805.0,262.0 L806.0,264.1 L807.0,266.2 L808.0,268.5 L809.0,270.9 L810.0,273.3 L811.0,275.8 L812.0,278.4 L813.0,281.1 L814.0,283.8 L815.0,286.6 L816.0,289.4 L817.0,292.2 L818.0,295.1 L819.0,298.1 L820.0,301.0 L821.0,304.0 L822.0,307.0 L823.0,310.0 L824.0,313.0 L825.0,316.0 L826.0,319.1 L827.0,322.0 L828.0,325.0 L829.0,328.0 L830.0,330.9 L831.0,333.9 L832.0,336.7 L833.0,339.6 L834.0,342.4 L835.0,345.2 L836.0,347.9 L837.0,350.6 L838.0,353.2 L839.0,355.8 L840.0,358.4 L841.0,360.9 L842.0,363.3 L843.0,365.6 L844.0,367.9 L845.0,370.2 L846.0,372.4 L847.0,374.5 L848.0,376.6 L849.0,378.6 L850.0,380.5 L851.0,382.4 L852.0,384.2 L853.0,386.0 L854.0,387.7 L855.0,389.3 L856.0,390.9 L857.0,392.4 L858.0,393.8 L859.0,395.2 L860.0,396.6 L861.0,397.8 L862.0,399.1 L863.0,400.2 L864.0,401.4 L865.0,402.4 L866.0,403.5 L867.0,404.5 L868.0,405.4 L869.0,406.3 L870.0,407.1 L871.0,407.9 L872.0,408.7 L873.0,409.4 L874.0,410.1 L875.0,410.8 L876.0,411.4 L877.0,412.0 L878.0,412.5 L879.0,413.1 L880.0,413.6 L881.0,414.0 L882.0,414.5 L883.0,414.9 L884.0,415.3 L885.0,415.7 L886.0,416.0 L887.0,416.4 L888.0,416.7 L889.0,417.0 L890.0,417.3 L891.0,417.6 L892.0,417.8 L893.0,418.0 L894.0,418.3 L895.0,418.5 L896.0,418.7 L897.0,418.9 L898.0,419.1 L899.0,419.3 L900.0,419.4 L901.0,419.6 L902.0,419.7 L903.0,419.9 L904.0,420.1 L905.0,420.2 L906.0,420.4 L907.0,420.5 L908.0,420.6 L909.0,420.8 L910.0,420.9 L911.0,421.0 L912.0,421.2 L913.0,421.3 L914.0,421.4 L915.0,421.5 L916.0,421.6 L917.0,421.7 L918.0,421.9 L919.0,422.0 L920.0,422.1 L921.0,422.2 L922.0,422.2 L923.0,422.3 L924.0,422.4 L925.0,422.5 L926.0,422.6 L927.0,422.7 L928.0,422.8 L929.0,422.8 L930.0,422.9 L931.0,423.0 L932.0,423.1 L933.0,423.1 L934.0,423.2 L935.0,423.3 L936.0,423.3 L937.0,423.4 L938.0,423.5 L939.0,423.5 L940.0,423.6" fill="none" stroke="#e07b2a" stroke-width="3.7" stroke-linejoin="round" stroke-linecap="round" />
<path d="M460.0,398.6 L461.0,398.5 L462.0,398.5 L463.0,398.5 L464.0,398.5 L465.0,398.5 L466.0,398.5 L467.0,398.5 L468.0,398.5 L469.0,398.6 L470.0,398.6 L471.0,398.7 L472.0,398.7 L473.0,398.8 L474.0,398.8 L475.0,398.9 L476.0,398.9 L477.0,399.0 L478.0,399.0 L479.0,399.1 L480.0,399.1 L481.0,399.2 L482.0,399.2 L483.0,399.3 L484.0,399.3 L485.0,399.4 L486.0,399.5 L487.0,399.5 L488.0,399.6 L489.0,399.6 L490.0,399.7 L491.0,399.7 L492.0,399.8 L493.0,399.8 L494.0,399.9 L495.0,399.9 L496.0,400.0 L497.0,400.0 L498.0,400.1 L499.0,400.1 L500.0,400.2 L501.0,400.3 L502.0,400.3 L503.0,400.4 L504.0,400.4 L505.0,400.5 L506.0,400.5 L507.0,400.6 L508.0,400.6 L509.0,400.7 L510.0,400.7 L511.0,400.8 L512.0,400.8 L513.0,400.9 L514.0,400.9 L515.0,401.0 L516.0,401.0 L517.0,401.1 L518.0,401.2 L519.0,401.2 L520.0,401.3 L521.0,401.3 L522.0,401.4 L523.0,401.4 L524.0,401.5 L525.0,401.5 L526.0,401.6 L527.0,401.6 L528.0,401.7 L529.0,401.7 L530.0,401.8 L531.0,401.8 L532.0,401.9 L533.0,402.0 L534.0,402.0 L535.0,402.1 L536.0,402.1 L537.0,402.2 L538.0,402.2 L539.0,402.3 L540.0,402.3 L541.0,402.4 L542.0,402.4 L543.0,402.5 L544.0,402.5 L545.0,402.6 L546.0,402.6 L547.0,402.7 L548.0,402.7 L549.0,402.8 L550.0,402.9 L551.0,402.9 L552.0,403.0 L553.0,403.0 L554.0,403.1 L555.0,403.1 L556.0,403.2 L557.0,403.2 L558.0,403.3 L559.0,403.3 L560.0,403.4 L561.0,403.4 L562.0,403.5 L563.0,403.5 L564.0,403.6 L565.0,403.7 L566.0,403.7 L567.0,403.8 L568.0,403.8 L569.0,403.9 L570.0,403.9 L571.0,404.0 L572.0,404.0 L573.0,404.1 L574.0,404.1 L575.0,404.2 L576.0,404.2 L577.0,404.3 L578.0,404.3 L579.0,404.4 L580.0,404.4 L581.0,404.5 L582.0,404.6 L583.0,404.6 L584.0,404.7 L585.0,404.7 L586.0,404.8 L587.0,404.8 L588.0,404.9 L589.0,404.9 L590.0,405.0 L591.0,405.0 L592.0,405.1 L593.0,405.1 L594.0,405.2 L595.0,405.2 L596.0,405.3 L597.0,405.3 L598.0,405.4 L599.0,405.5 L600.0,405.5 L601.0,405.6 L602.0,405.6 L603.0,405.7 L604.0,405.7 L605.0,405.8 L606.0,405.8 L607.0,405.9 L608.0,405.9 L609.0,406.0 L610.0,406.0 L611.0,406.1 L612.0,406.1 L613.0,406.2 L614.0,406.3 L615.0,406.3 L616.0,406.4 L617.0,406.4 L618.0,406.5 L619.0,406.5 L620.0,406.6 L621.0,406.6 L622.0,406.7 L623.0,406.7 L624.0,406.8 L625.0,406.8 L626.0,406.9 L627.0,406.9 L628.0,407.0 L629.0,407.0 L630.0,407.1 L631.0,407.2 L632.0,407.2 L633.0,407.3 L634.0,407.3 L635.0,407.4 L636.0,407.4 L637.0,407.5 L638.0,407.5 L639.0,407.6 L640.0,407.6 L641.0,407.7 L642.0,407.7 L643.0,407.8 L644.0,407.8 L645.0,407.9 L646.0,408.0 L647.0,408.0 L648.0,408.1 L649.0,408.1 L650.0,408.2 L651.0,408.2 L652.0,408.3 L653.0,408.3 L654.0,408.4 L655.0,408.4 L656.0,408.5 L657.0,408.5 L658.0,408.6 L659.0,408.6 L660.0,408.7 L661.0,408.7 L662.0,408.8 L663.0,408.9 L664.0,408.9 L665.0,409.0 L666.0,409.0 L667.0,409.1 L668.0,409.1 L669.0,409.2 L670.0,409.2 L671.0,409.3 L672.0,409.3 L673.0,409.4 L674.0,409.4 L675.0,409.5 L676.0,409.5 L677.0,409.6 L678.0,409.7 L679.0,409.7 L680.0,409.8 L681.0,409.8 L682.0,409.9 L683.0,409.9 L684.0,410.0 L685.0,410.0 L686.0,410.1 L687.0,410.1 L688.0,410.2 L689.0,410.2 L690.0,410.3 L691.0,410.3 L692.0,410.4 L693.0,410.4 L694.0,410.5 L695.0,410.6 L696.0,410.6 L697.0,410.7 L698.0,410.7 L699.0,410.8 L700.0,410.8 L701.0,410.9 L702.0,410.9 L703.0,411.0 L704.0,411.0 L705.0,411.1 L706.0,411.1 L707.0,411.2 L708.0,411.2 L709.0,411.3 L710.0,411.4 L711.0,411.4 L712.0,411.5 L713.0,411.5 L714.0,411.6 L715.0,411.6 L716.0,411.7 L717.0,411.7 L718.0,411.8 L719.0,411.8 L720.0,411.9 L721.0,411.9 L722.0,412.0 L723.0,412.0 L724.0,412.1 L725.0,412.1 L726.0,412.2 L727.0,412.3 L728.0,412.3 L729.0,412.4 L730.0,412.4 L731.0,412.5 L732.0,412.5 L733.0,412.6 L734.0,412.6 L735.0,412.7 L736.0,412.7 L737.0,412.8 L738.0,412.8 L739.0,412.9 L740.0,412.9 L741.0,413.0 L742.0,413.0 L743.0,413.1 L744.0,413.2 L745.0,413.2 L746.0,413.3 L747.0,413.3 L748.0,413.4 L749.0,413.4 L750.0,413.5 L751.0,413.5 L752.0,413.6 L753.0,413.6 L754.0,413.7 L755.0,413.7 L756.0,413.8 L757.0,413.8 L758.0,413.9 L759.0,414.0 L760.0,414.0 L761.0,414.1 L762.0,414.1 L763.0,414.2 L764.0,414.2 L765.0,414.3 L766.0,414.3 L767.0,414.4 L768.0,414.4 L769.0,414.5 L770.0,414.5 L771.0,414.6 L772.0,414.6 L773.0,414.7 L774.0,414.7 L775.0,414.8 L776.0,414.9 L777.0,414.9 L778.0,415.0 L779.0,415.0 L780.0,415.1 L781.0,415.1 L782.0,415.2 L783.0,415.2 L784.0,415.3 L785.0,415.3 L786.0,415.4 L787.0,415.4 L788.0,415.5 L789.0,415.5 L790.0,415.6 L791.0,415.7 L792.0,415.7 L793.0,415.8 L794.0,415.8 L795.0,415.9 L796.0,415.9 L797.0,416.0 L798.0,416.0 L799.0,416.1 L800.0,416.1 L801.0,416.2 L802.0,416.2 L803.0,416.3 L804.0,416.3 L805.0,416.4 L806.0,416.4 L807.0,416.5 L808.0,416.6 L809.0,416.6 L810.0,416.7 L811.0,416.7 L812.0,416.8 L813.0,416.8 L814.0,416.9 L815.0,416.9 L816.0,417.0 L817.0,417.0 L818.0,417.1 L819.0,417.1 L820.0,417.2 L821.0,417.2 L822.0,417.3 L823.0,417.4 L824.0,417.4 L825.0,417.5 L826.0,417.5 L827.0,417.6 L828.0,417.6 L829.0,417.7 L830.0,417.7 L831.0,417.8 L832.0,417.8 L833.0,417.9 L834.0,417.9 L835.0,418.0 L836.0,418.0 L837.0,418.1 L838.0,418.1 L839.0,418.2 L840.0,418.3 L841.0,418.3 L842.0,418.4 L843.0,418.4 L844.0,418.5 L845.0,418.5 L846.0,418.6 L847.0,418.6 L848.0,418.7 L849.0,418.7 L850.0,418.8 L851.0,418.8 L852.0,418.9 L853.0,418.9 L854.0,419.0 L855.0,419.0 L856.0,419.1 L857.0,419.2 L858.0,419.2 L859.0,419.3 L860.0,419.3 L861.0,419.4 L862.0,419.4 L863.0,419.5 L864.0,419.5 L865.0,419.6 L866.0,419.6 L867.0,419.7 L868.0,419.7 L869.0,419.8 L870.0,419.8 L871.0,419.9 L872.0,420.0 L873.0,420.0 L874.0,420.1 L875.0,420.1 L876.0,420.2 L877.0,420.2 L878.0,420.3 L879.0,420.3 L880.0,420.4 L881.0,420.4 L882.0,420.5 L883.0,420.5 L884.0,420.6 L885.0,420.6 L886.0,420.7 L887.0,420.7 L888.0,420.8 L889.0,420.9 L890.0,420.9 L891.0,421.0 L892.0,421.0 L893.0,421.1 L894.0,421.1 L895.0,421.2 L896.0,421.2 L897.0,421.3 L898.0,421.3 L899.0,421.4 L900.0,421.4 L901.0,421.5 L902.0,421.5 L903.0,421.6 L904.0,421.7 L905.0,421.7 L906.0,421.8 L907.0,421.8 L908.0,421.9 L909.0,421.9 L910.0,422.0 L911.0,422.0 L912.0,422.1 L913.0,422.1 L914.0,422.2 L915.0,422.2 L916.0,422.3 L917.0,422.3 L918.0,422.4 L919.0,422.4 L920.0,422.5 L921.0,422.6 L922.0,422.6 L923.0,422.7 L924.0,422.7 L925.0,422.8 L926.0,422.8 L927.0,422.9 L928.0,422.9 L929.0,423.0 L930.0,423.0 L931.0,423.1 L932.0,423.1 L933.0,423.2 L934.0,423.2 L935.0,423.3 L936.0,423.4 L937.0,423.4 L938.0,423.5 L939.0,423.5 L940.0,423.6" fill="none" stroke="#1a1228" stroke-width="1.5" stroke-linejoin="round" stroke-linecap="round" opacity="0.85"/>
<path d="M460.0,398.6 L461.0,398.5 L462.0,398.5 L463.0,398.5 L464.0,398.5 L465.0,398.5 L466.0,398.5 L467.0,398.5 L468.0,398.5 L469.0,398.5 L470.0,398.5 L471.0,398.5 L472.0,398.5 L473.0,398.5 L474.0,398.5 L475.0,398.5 L476.0,398.4 L477.0,398.4 L478.0,398.4 L479.0,398.3 L480.0,398.2 L481.0,398.1 L482.0,398.0 L483.0,397.9 L484.0,397.8 L485.0,397.6 L486.0,397.5 L487.0,397.3 L488.0,397.1 L489.0,396.9 L490.0,396.6 L491.0,396.4 L492.0,396.1 L493.0,395.8 L494.0,395.4 L495.0,395.0 L496.0,394.6 L497.0,394.2 L498.0,393.7 L499.0,393.2 L500.0,392.7 L501.0,392.1 L502.0,391.5 L503.0,390.8 L504.0,390.1 L505.0,389.3 L506.0,388.5 L507.0,387.7 L508.0,386.7 L509.0,385.8 L510.0,384.8 L511.0,383.7 L512.0,382.5 L513.0,381.3 L514.0,380.1 L515.0,378.7 L516.0,377.3 L517.0,375.8 L518.0,374.3 L519.0,372.7 L520.0,371.0 L521.0,369.3 L522.0,367.5 L523.0,365.6 L524.0,363.6 L525.0,361.6 L526.0,359.5 L527.0,357.3 L528.0,355.1 L529.0,352.8 L530.0,350.5 L531.0,348.0 L532.0,345.6 L533.0,343.1 L534.0,340.5 L535.0,338.0 L536.0,335.4 L537.0,332.7 L538.0,330.1 L539.0,327.5 L540.0,324.8 L541.0,322.0 L542.0,319.2 L543.0,316.3 L544.0,313.3 L545.0,310.3 L546.0,307.1 L547.0,303.9 L548.0,300.6 L549.0,297.3 L550.0,293.9 L551.0,290.4 L552.0,286.8 L553.0,283.1 L554.0,279.4 L555.0,275.6 L556.0,271.8 L557.0,267.8 L558.0,263.9 L559.0,259.8 L560.0,255.7 L561.0,251.5 L562.0,247.3 L563.0,243.0 L564.0,238.6 L565.0,234.2 L566.0,229.8 L567.0,225.3 L568.0,220.7 L569.0,216.1 L570.0,211.5 L571.0,206.9 L572.0,202.2 L573.0,197.4 L574.0,192.7 L575.0,187.9 L576.0,183.2 L577.0,178.4 L578.0,173.6 L579.0,168.8 L580.0,164.0 L581.0,159.2 L582.0,154.4 L583.0,149.6 L584.0,144.8 L585.0,140.1 L586.0,135.4 L587.0,130.7 L588.0,126.1 L589.0,121.5 L590.0,117.0 L591.0,112.5 L592.0,108.0 L593.0,103.7 L594.0,99.4 L595.0,95.1 L596.0,91.0 L597.0,86.9 L598.0,83.0 L599.0,79.1 L600.0,75.3 L601.0,71.6 L602.0,68.0 L603.0,64.6 L604.0,61.2 L605.0,58.0 L606.0,54.9 L607.0,52.0 L608.0,49.2 L609.0,46.5 L610.0,43.9 L611.0,41.5 L612.0,39.3 L613.0,37.2 L614.0,35.2 L615.0,33.5 L616.0,31.8 L617.0,30.4 L618.0,29.1 L619.0,27.9 L620.0,27.0 L621.0,26.1 L622.0,25.5 L623.0,25.0 L624.0,24.7 L625.0,24.6 L626.0,24.6 L627.0,24.8 L628.0,25.1 L629.0,25.6 L630.0,26.3 L631.0,27.1 L632.0,28.0 L633.0,29.2 L634.0,30.4 L635.0,31.8 L636.0,33.3 L637.0,35.0 L638.0,36.8 L639.0,38.7 L640.0,40.7 L641.0,42.9 L642.0,45.1 L643.0,47.4 L644.0,49.9 L645.0,52.4 L646.0,55.0 L647.0,57.7 L648.0,60.5 L649.0,63.4 L650.0,66.3 L651.0,69.2 L652.0,72.2 L653.0,75.3 L654.0,78.4 L655.0,81.5 L656.0,84.6 L657.0,87.8 L658.0,91.0 L659.0,94.2 L660.0,97.3 L661.0,100.5 L662.0,103.7 L663.0,106.9 L664.0,110.0 L665.0,113.1 L666.0,116.2 L667.0,119.3 L668.0,122.3 L669.0,125.3 L670.0,128.2 L671.0,131.1 L672.0,134.0 L673.0,136.8 L674.0,139.5 L675.0,142.1 L676.0,144.7 L677.0,147.3 L678.0,149.8 L679.0,152.1 L680.0,154.5 L681.0,156.7 L682.0,158.9 L683.0,161.0 L684.0,163.0 L685.0,165.0 L686.0,166.9 L687.0,168.7 L688.0,170.4 L689.0,172.0 L690.0,173.6 L691.0,175.1 L692.0,176.5 L693.0,177.8 L694.0,179.1 L695.0,180.3 L696.0,181.4 L697.0,182.4 L698.0,183.4 L699.0,184.3 L700.0,185.1 L701.0,185.8 L702.0,186.5 L703.0,187.1 L704.0,187.6 L705.0,188.1 L706.0,188.5 L707.0,188.8 L708.0,189.0 L709.0,189.2 L710.0,189.3 L711.0,189.4 L712.0,189.3 L713.0,189.3 L714.0,189.1 L715.0,188.9 L716.0,188.6 L717.0,188.2 L718.0,187.8 L719.0,187.2 L720.0,186.7 L721.0,186.0 L722.0,185.3 L723.0,184.6 L724.0,183.7 L725.0,182.8 L726.0,181.9 L727.0,180.9 L728.0,179.8 L729.0,178.6 L730.0,177.4 L731.0,176.2 L732.0,174.9 L733.0,173.5 L734.0,172.1 L735.0,170.6 L736.0,169.1 L737.0,167.6 L738.0,166.0 L739.0,164.3 L740.0,162.7 L741.0,161.0 L742.0,159.2 L743.0,157.5 L744.0,155.7 L745.0,153.9 L746.0,152.1 L747.0,150.3 L748.0,148.5 L749.0,146.7 L750.0,144.9 L751.0,143.1 L752.0,141.3 L753.0,139.6 L754.0,137.8 L755.0,136.1 L756.0,134.4 L757.0,132.8 L758.0,131.2 L759.0,129.7 L760.0,128.2 L761.0,126.7 L762.0,125.4 L763.0,124.1 L764.0,122.8 L765.0,121.7 L766.0,120.6 L767.0,119.6 L768.0,118.8 L769.0,118.0 L770.0,117.3 L771.0,116.7 L772.0,116.3 L773.0,116.0 L774.0,115.7 L775.0,115.7 L776.0,115.7 L777.0,115.9 L778.0,116.2 L779.0,116.6 L780.0,117.2 L781.0,117.9 L782.0,118.8 L783.0,119.8 L784.0,121.0 L785.0,122.3 L786.0,123.8 L787.0,125.4 L788.0,127.2 L789.0,129.1 L790.0,131.2 L791.0,133.4 L792.0,135.8 L793.0,138.3 L794.0,141.0 L795.0,143.8 L796.0,146.7 L797.0,149.8 L798.0,152.9 L799.0,156.3 L800.0,159.7 L801.0,163.2 L802.0,166.9 L803.0,170.7 L804.0,174.5 L805.0,178.5 L806.0,182.5 L807.0,186.6 L808.0,190.8 L809.0,195.1 L810.0,199.4 L811.0,203.8 L812.0,208.2 L813.0,212.7 L814.0,217.2 L815.0,221.7 L816.0,226.3 L817.0,230.9 L818.0,235.5 L819.0,240.1 L820.0,244.7 L821.0,249.2 L822.0,253.8 L823.0,258.4 L824.0,262.9 L825.0,267.4 L826.0,271.9 L827.0,276.3 L828.0,280.7 L829.0,285.0 L830.0,289.3 L831.0,293.5 L832.0,297.7 L833.0,301.8 L834.0,305.8 L835.0,309.8 L836.0,313.7 L837.0,317.5 L838.0,321.2 L839.0,324.9 L840.0,328.5 L841.0,332.0 L842.0,335.4 L843.0,338.7 L844.0,341.9 L845.0,345.1 L846.0,348.2 L847.0,351.1 L848.0,354.0 L849.0,356.8 L850.0,359.6 L851.0,362.2 L852.0,364.7 L853.0,367.2 L854.0,369.6 L855.0,371.9 L856.0,374.1 L857.0,376.2 L858.0,378.2 L859.0,380.2 L860.0,382.1 L861.0,383.9 L862.0,385.7 L863.0,387.3 L864.0,388.9 L865.0,390.5 L866.0,391.9 L867.0,393.3 L868.0,394.7 L869.0,396.0 L870.0,397.2 L871.0,398.4 L872.0,399.5 L873.0,400.5 L874.0,401.6 L875.0,402.5 L876.0,403.4 L877.0,404.3 L878.0,405.1 L879.0,405.9 L880.0,406.7 L881.0,407.4 L882.0,408.1 L883.0,408.7 L884.0,409.3 L885.0,409.9 L886.0,410.4 L887.0,411.0 L888.0,411.5 L889.0,411.9 L890.0,412.4 L891.0,412.8 L892.0,413.2 L893.0,413.6 L894.0,413.9 L895.0,414.3 L896.0,414.6 L897.0,414.9 L898.0,415.2 L899.0,415.5 L900.0,415.8 L901.0,416.0 L902.0,416.3 L903.0,416.6 L904.0,416.8 L905.0,417.1 L906.0,417.4 L907.0,417.7 L908.0,418.0 L909.0,418.2 L910.0,418.5 L911.0,418.8 L912.0,419.0 L913.0,419.3 L914.0,419.5 L915.0,419.8 L916.0,420.0 L917.0,420.2 L918.0,420.4 L919.0,420.7 L920.0,420.9 L921.0,421.1 L922.0,421.3 L923.0,421.5 L924.0,421.6 L925.0,421.8 L926.0,422.0 L927.0,422.2 L928.0,422.3 L929.0,422.5 L930.0,422.6 L931.0,422.7 L932.0,422.9 L933.0,423.0 L934.0,423.1 L935.0,423.2 L936.0,423.3 L937.0,423.4 L938.0,423.4 L939.0,423.5 L940.0,423.6" fill="none" stroke="#17101f" stroke-width="1.9" stroke-linejoin="round" stroke-linecap="round" />
<g fill="#f6f6f9" stroke="#34343f" stroke-width="1.5"><circle cx="47.0" cy="389.1" r="2.45"/><circle cx="53.4" cy="389.7" r="2.45"/><circle cx="59.8" cy="389.3" r="2.45"/><circle cx="66.2" cy="390.0" r="2.45"/><circle cx="72.6" cy="390.2" r="2.45"/><circle cx="79.0" cy="390.0" r="2.45"/><circle cx="85.3" cy="390.9" r="2.45"/><circle cx="91.7" cy="392.2" r="2.45"/><circle cx="98.1" cy="391.6" r="2.45"/><circle cx="104.5" cy="392.3" r="2.45"/><circle cx="110.9" cy="394.3" r="2.45"/><circle cx="117.3" cy="395.5" r="2.45"/><circle cx="123.7" cy="396.4" r="2.45"/><circle cx="130.1" cy="395.1" r="2.45"/><circle cx="136.5" cy="396.5" r="2.45"/><circle cx="142.9" cy="396.7" r="2.45"/><circle cx="149.2" cy="394.4" r="2.45"/><circle cx="155.6" cy="394.5" r="2.45"/><circle cx="162.0" cy="392.3" r="2.45"/><circle cx="168.4" cy="389.4" r="2.45"/><circle cx="174.8" cy="382.6" r="2.45"/><circle cx="181.2" cy="373.2" r="2.45"/><circle cx="187.6" cy="357.1" r="2.45"/><circle cx="194.0" cy="343.7" r="2.45"/><circle cx="200.4" cy="336.0" r="2.45"/><circle cx="206.8" cy="344.1" r="2.45"/><circle cx="213.1" cy="361.3" r="2.45"/><circle cx="219.5" cy="378.8" r="2.45"/><circle cx="225.9" cy="386.5" r="2.45"/><circle cx="232.3" cy="388.1" r="2.45"/><circle cx="238.7" cy="383.9" r="2.45"/><circle cx="245.1" cy="376.4" r="2.45"/><circle cx="251.5" cy="353.9" r="2.45"/><circle cx="257.9" cy="314.5" r="2.45"/><circle cx="264.3" cy="263.6" r="2.45"/><circle cx="270.7" cy="229.1" r="2.45"/><circle cx="277.0" cy="255.5" r="2.45"/><circle cx="283.4" cy="314.1" r="2.45"/><circle cx="289.8" cy="356.1" r="2.45"/><circle cx="296.2" cy="378.6" r="2.45"/><circle cx="302.6" cy="388.4" r="2.45"/><circle cx="309.0" cy="391.2" r="2.45"/><circle cx="315.4" cy="391.6" r="2.45"/><circle cx="321.8" cy="395.3" r="2.45"/><circle cx="328.2" cy="398.1" r="2.45"/><circle cx="334.6" cy="395.7" r="2.45"/><circle cx="340.9" cy="399.4" r="2.45"/><circle cx="347.3" cy="399.3" r="2.45"/><circle cx="353.7" cy="398.4" r="2.45"/><circle cx="360.1" cy="401.8" r="2.45"/><circle cx="366.5" cy="401.4" r="2.45"/><circle cx="372.9" cy="398.9" r="2.45"/><circle cx="379.3" cy="400.0" r="2.45"/><circle cx="385.7" cy="400.2" r="2.45"/><circle cx="392.1" cy="398.8" r="2.45"/><circle cx="398.5" cy="400.2" r="2.45"/><circle cx="404.8" cy="400.0" r="2.45"/><circle cx="411.2" cy="400.4" r="2.45"/><circle cx="417.6" cy="400.4" r="2.45"/><circle cx="424.0" cy="398.4" r="2.45"/><circle cx="430.4" cy="398.1" r="2.45"/><circle cx="436.8" cy="396.9" r="2.45"/><circle cx="443.2" cy="397.2" r="2.45"/><circle cx="449.6" cy="395.9" r="2.45"/><circle cx="456.0" cy="396.8" r="2.45"/><circle cx="462.4" cy="397.6" r="2.45"/><circle cx="468.7" cy="399.9" r="2.45"/><circle cx="475.1" cy="399.4" r="2.45"/><circle cx="481.5" cy="397.5" r="2.45"/><circle cx="487.9" cy="396.9" r="2.45"/><circle cx="494.3" cy="396.2" r="2.45"/><circle cx="500.7" cy="389.3" r="2.45"/><circle cx="507.1" cy="386.4" r="2.45"/><circle cx="513.5" cy="379.8" r="2.45"/><circle cx="519.9" cy="371.6" r="2.45"/><circle cx="526.3" cy="358.8" r="2.45"/><circle cx="532.6" cy="343.5" r="2.45"/><circle cx="539.0" cy="327.6" r="2.45"/><circle cx="545.4" cy="308.9" r="2.45"/><circle cx="551.8" cy="288.1" r="2.45"/><circle cx="558.2" cy="261.6" r="2.45"/><circle cx="564.6" cy="233.9" r="2.45"/><circle cx="571.0" cy="203.5" r="2.45"/><circle cx="577.4" cy="172.5" r="2.45"/><circle cx="583.8" cy="143.4" r="2.45"/><circle cx="590.2" cy="113.2" r="2.45"/><circle cx="596.5" cy="87.1" r="2.45"/><circle cx="602.9" cy="63.7" r="2.45"/><circle cx="609.3" cy="46.7" r="2.45"/><circle cx="615.7" cy="32.4" r="2.45"/><circle cx="622.1" cy="25.0" r="2.45"/><circle cx="628.5" cy="26.0" r="2.45"/><circle cx="634.9" cy="31.8" r="2.45"/><circle cx="641.3" cy="44.7" r="2.45"/><circle cx="647.7" cy="60.1" r="2.45"/><circle cx="654.1" cy="79.6" r="2.45"/><circle cx="660.4" cy="97.7" r="2.45"/><circle cx="666.8" cy="119.5" r="2.45"/><circle cx="673.2" cy="135.6" r="2.45"/><circle cx="679.6" cy="151.7" r="2.45"/><circle cx="686.0" cy="165.9" r="2.45"/><circle cx="692.4" cy="175.9" r="2.45"/><circle cx="698.8" cy="183.7" r="2.45"/><circle cx="705.2" cy="189.4" r="2.45"/><circle cx="711.6" cy="188.1" r="2.45"/><circle cx="718.0" cy="187.9" r="2.45"/><circle cx="724.3" cy="184.2" r="2.45"/><circle cx="730.7" cy="177.8" r="2.45"/><circle cx="737.1" cy="168.8" r="2.45"/><circle cx="743.5" cy="156.1" r="2.45"/><circle cx="749.9" cy="144.9" r="2.45"/><circle cx="756.3" cy="133.8" r="2.45"/><circle cx="762.7" cy="122.6" r="2.45"/><circle cx="769.1" cy="116.3" r="2.45"/><circle cx="775.5" cy="115.2" r="2.45"/><circle cx="781.9" cy="117.0" r="2.45"/><circle cx="788.2" cy="127.7" r="2.45"/><circle cx="794.6" cy="141.9" r="2.45"/><circle cx="801.0" cy="164.6" r="2.45"/><circle cx="807.4" cy="189.7" r="2.45"/><circle cx="813.8" cy="217.4" r="2.45"/><circle cx="820.2" cy="245.3" r="2.45"/><circle cx="826.6" cy="273.7" r="2.45"/><circle cx="833.0" cy="300.0" r="2.45"/><circle cx="839.4" cy="325.0" r="2.45"/><circle cx="845.8" cy="348.2" r="2.45"/><circle cx="852.1" cy="364.1" r="2.45"/><circle cx="858.5" cy="381.9" r="2.45"/><circle cx="864.9" cy="390.0" r="2.45"/><circle cx="871.3" cy="400.1" r="2.45"/><circle cx="877.7" cy="404.3" r="2.45"/><circle cx="884.1" cy="410.0" r="2.45"/><circle cx="890.5" cy="413.2" r="2.45"/><circle cx="896.9" cy="414.2" r="2.45"/><circle cx="903.3" cy="418.5" r="2.45"/><circle cx="909.7" cy="420.3" r="2.45"/><circle cx="916.0" cy="420.3" r="2.45"/><circle cx="922.4" cy="421.5" r="2.45"/><circle cx="928.8" cy="422.6" r="2.45"/><circle cx="935.2" cy="422.7" r="2.45"/><circle cx="941.6" cy="425.1" r="2.45"/><circle cx="948.0" cy="423.8" r="2.45"/><circle cx="954.4" cy="423.5" r="2.45"/><circle cx="960.8" cy="423.0" r="2.45"/><circle cx="967.2" cy="422.9" r="2.45"/><circle cx="973.6" cy="422.4" r="2.45"/><circle cx="979.9" cy="425.1" r="2.45"/><circle cx="986.3" cy="423.9" r="2.45"/><circle cx="992.7" cy="423.8" r="2.45"/><circle cx="999.1" cy="423.0" r="2.45"/><circle cx="1005.5" cy="422.1" r="2.45"/><circle cx="1011.9" cy="422.9" r="2.45"/><circle cx="1018.3" cy="422.3" r="2.45"/><circle cx="1024.7" cy="423.8" r="2.45"/><circle cx="1031.1" cy="424.2" r="2.45"/><circle cx="1037.5" cy="424.5" r="2.45"/><circle cx="1043.8" cy="422.9" r="2.45"/><circle cx="1050.2" cy="423.9" r="2.45"/><circle cx="1056.6" cy="425.8" r="2.45"/><circle cx="1063.0" cy="422.6" r="2.45"/><circle cx="1069.4" cy="422.6" r="2.45"/></g>
<path d="M745.0,715.1 L746.0,715.1 L747.0,715.1 L748.0,715.1 L749.0,715.0 L750.0,715.0 L751.0,715.0 L752.0,714.9 L753.0,714.9 L754.0,714.9 L755.0,714.8 L756.0,714.7 L757.0,714.7 L758.0,714.6 L759.0,714.5 L760.0,714.4 L761.0,714.3 L762.0,714.2 L763.0,714.1 L764.0,713.9 L765.0,713.8 L766.0,713.6 L767.0,713.4 L768.0,713.3 L769.0,713.1 L770.0,712.8 L771.0,712.6 L772.0,712.4 L773.0,712.1 L774.0,711.8 L775.0,711.5 L776.0,711.2 L777.0,710.9 L778.0,710.5 L779.0,710.1 L780.0,709.7 L781.0,709.3 L782.0,708.8 L783.0,708.4 L784.0,707.9 L785.0,707.4 L786.0,706.8 L787.0,706.3 L788.0,705.7 L789.0,705.1 L790.0,704.5 L791.0,703.8 L792.0,703.1 L793.0,702.4 L794.0,701.7 L795.0,701.0 L796.0,700.2 L797.0,699.4 L798.0,698.6 L799.0,697.8 L800.0,697.0 L801.0,696.1 L802.0,695.3 L803.0,694.4 L804.0,693.5 L805.0,692.6 L806.0,691.7 L807.0,690.9 L808.0,689.9 L809.0,689.0 L810.0,688.2 L811.0,687.3 L812.0,686.4 L813.0,685.5 L814.0,684.6 L815.0,683.8 L816.0,682.9 L817.0,682.1 L818.0,681.3 L819.0,680.6 L820.0,679.8 L821.0,679.1 L822.0,678.4 L823.0,677.8 L824.0,677.2 L825.0,676.6 L826.0,676.0 L827.0,675.5 L828.0,675.1 L829.0,674.7 L830.0,674.3 L831.0,674.0 L832.0,673.8 L833.0,673.5 L834.0,673.4 L835.0,673.3 L836.0,673.2 L837.0,673.2 L838.0,673.2 L839.0,673.3 L840.0,673.5 L841.0,673.7 L842.0,673.9 L843.0,674.3 L844.0,674.6 L845.0,675.0 L846.0,675.4 L847.0,675.9 L848.0,676.5 L849.0,677.0 L850.0,677.7 L851.0,678.3 L852.0,679.0 L853.0,679.7 L854.0,680.5 L855.0,681.3 L856.0,682.1 L857.0,682.9 L858.0,683.8 L859.0,684.6 L860.0,685.5 L861.0,686.4 L862.0,687.3 L863.0,688.3 L864.0,689.2 L865.0,690.1 L866.0,691.1 L867.0,692.0 L868.0,693.0 L869.0,693.9 L870.0,694.8 L871.0,695.7 L872.0,696.6 L873.0,697.5 L874.0,698.4 L875.0,699.3 L876.0,700.2 L877.0,701.0 L878.0,701.9 L879.0,702.8 L880.0,703.8 L881.0,704.7 L882.0,705.6 L883.0,706.5 L884.0,707.4 L885.0,708.3 L886.0,709.1 L887.0,709.9 L888.0,710.7 L889.0,711.4 L890.0,712.1 L891.0,712.7 L892.0,713.3 L893.0,713.8 L894.0,714.3 L895.0,714.8 L896.0,715.2 L897.0,715.6 L898.0,716.0 L899.0,716.3 L900.0,716.5 L901.0,716.8 L902.0,717.0 L903.0,717.2 L904.0,717.3 L905.0,717.5 L906.0,717.6 L907.0,717.7 L908.0,717.8 L909.0,717.8 L910.0,717.9 L911.0,717.9 L912.0,718.0 L913.0,718.0 L914.0,718.0" fill="none" stroke="#e07b2a" stroke-width="3.7" stroke-linejoin="round" stroke-linecap="round" />
<path d="M460.0,710.4 L461.0,710.3 L462.0,710.3 L463.0,710.2 L464.0,710.2 L465.0,710.1 L466.0,710.1 L467.0,710.0 L468.0,710.0 L469.0,710.0 L470.0,710.0 L471.0,710.1 L472.0,710.1 L473.0,710.1 L474.0,710.1 L475.0,710.1 L476.0,710.2 L477.0,710.2 L478.0,710.2 L479.0,710.2 L480.0,710.2 L481.0,710.3 L482.0,710.3 L483.0,710.3 L484.0,710.3 L485.0,710.3 L486.0,710.4 L487.0,710.4 L488.0,710.4 L489.0,710.4 L490.0,710.4 L491.0,710.4 L492.0,710.5 L493.0,710.5 L494.0,710.5 L495.0,710.5 L496.0,710.5 L497.0,710.6 L498.0,710.6 L499.0,710.6 L500.0,710.6 L501.0,710.6 L502.0,710.7 L503.0,710.7 L504.0,710.7 L505.0,710.7 L506.0,710.7 L507.0,710.8 L508.0,710.8 L509.0,710.8 L510.0,710.8 L511.0,710.8 L512.0,710.9 L513.0,710.9 L514.0,710.9 L515.0,710.9 L516.0,710.9 L517.0,711.0 L518.0,711.0 L519.0,711.0 L520.0,711.0 L521.0,711.0 L522.0,711.1 L523.0,711.1 L524.0,711.1 L525.0,711.1 L526.0,711.1 L527.0,711.2 L528.0,711.2 L529.0,711.2 L530.0,711.2 L531.0,711.2 L532.0,711.2 L533.0,711.3 L534.0,711.3 L535.0,711.3 L536.0,711.3 L537.0,711.3 L538.0,711.4 L539.0,711.4 L540.0,711.4 L541.0,711.4 L542.0,711.4 L543.0,711.5 L544.0,711.5 L545.0,711.5 L546.0,711.5 L547.0,711.5 L548.0,711.6 L549.0,711.6 L550.0,711.6 L551.0,711.6 L552.0,711.6 L553.0,711.7 L554.0,711.7 L555.0,711.7 L556.0,711.7 L557.0,711.7 L558.0,711.8 L559.0,711.8 L560.0,711.8 L561.0,711.8 L562.0,711.8 L563.0,711.9 L564.0,711.9 L565.0,711.9 L566.0,711.9 L567.0,711.9 L568.0,712.0 L569.0,712.0 L570.0,712.0 L571.0,712.0 L572.0,712.0 L573.0,712.0 L574.0,712.1 L575.0,712.1 L576.0,712.1 L577.0,712.1 L578.0,712.1 L579.0,712.2 L580.0,712.2 L581.0,712.2 L582.0,712.2 L583.0,712.2 L584.0,712.3 L585.0,712.3 L586.0,712.3 L587.0,712.3 L588.0,712.3 L589.0,712.4 L590.0,712.4 L591.0,712.4 L592.0,712.4 L593.0,712.4 L594.0,712.5 L595.0,712.5 L596.0,712.5 L597.0,712.5 L598.0,712.5 L599.0,712.6 L600.0,712.6 L601.0,712.6 L602.0,712.6 L603.0,712.6 L604.0,712.7 L605.0,712.7 L606.0,712.7 L607.0,712.7 L608.0,712.7 L609.0,712.8 L610.0,712.8 L611.0,712.8 L612.0,712.8 L613.0,712.8 L614.0,712.9 L615.0,712.9 L616.0,712.9 L617.0,712.9 L618.0,712.9 L619.0,712.9 L620.0,713.0 L621.0,713.0 L622.0,713.0 L623.0,713.0 L624.0,713.0 L625.0,713.1 L626.0,713.1 L627.0,713.1 L628.0,713.1 L629.0,713.1 L630.0,713.2 L631.0,713.2 L632.0,713.2 L633.0,713.2 L634.0,713.2 L635.0,713.3 L636.0,713.3 L637.0,713.3 L638.0,713.3 L639.0,713.3 L640.0,713.4 L641.0,713.4 L642.0,713.4 L643.0,713.4 L644.0,713.4 L645.0,713.5 L646.0,713.5 L647.0,713.5 L648.0,713.5 L649.0,713.5 L650.0,713.6 L651.0,713.6 L652.0,713.6 L653.0,713.6 L654.0,713.6 L655.0,713.7 L656.0,713.7 L657.0,713.7 L658.0,713.7 L659.0,713.7 L660.0,713.7 L661.0,713.8 L662.0,713.8 L663.0,713.8 L664.0,713.8 L665.0,713.8 L666.0,713.9 L667.0,713.9 L668.0,713.9 L669.0,713.9 L670.0,713.9 L671.0,714.0 L672.0,714.0 L673.0,714.0 L674.0,714.0 L675.0,714.0 L676.0,714.1 L677.0,714.1 L678.0,714.1 L679.0,714.1 L680.0,714.1 L681.0,714.2 L682.0,714.2 L683.0,714.2 L684.0,714.2 L685.0,714.2 L686.0,714.3 L687.0,714.3 L688.0,714.3 L689.0,714.3 L690.0,714.3 L691.0,714.4 L692.0,714.4 L693.0,714.4 L694.0,714.4 L695.0,714.4 L696.0,714.5 L697.0,714.5 L698.0,714.5 L699.0,714.5 L700.0,714.5 L701.0,714.5 L702.0,714.6 L703.0,714.6 L704.0,714.6 L705.0,714.6 L706.0,714.6 L707.0,714.7 L708.0,714.7 L709.0,714.7 L710.0,714.7 L711.0,714.7 L712.0,714.8 L713.0,714.8 L714.0,714.8 L715.0,714.8 L716.0,714.8 L717.0,714.9 L718.0,714.9 L719.0,714.9 L720.0,714.9 L721.0,714.9 L722.0,715.0 L723.0,715.0 L724.0,715.0 L725.0,715.0 L726.0,715.0 L727.0,715.1 L728.0,715.1 L729.0,715.1 L730.0,715.1 L731.0,715.1 L732.0,715.2 L733.0,715.2 L734.0,715.2 L735.0,715.2 L736.0,715.2 L737.0,715.3 L738.0,715.3 L739.0,715.3 L740.0,715.3 L741.0,715.3 L742.0,715.3 L743.0,715.4 L744.0,715.4 L745.0,715.4 L746.0,715.4 L747.0,715.4 L748.0,715.5 L749.0,715.5 L750.0,715.5 L751.0,715.5 L752.0,715.5 L753.0,715.6 L754.0,715.6 L755.0,715.6 L756.0,715.6 L757.0,715.6 L758.0,715.7 L759.0,715.7 L760.0,715.7 L761.0,715.7 L762.0,715.7 L763.0,715.8 L764.0,715.8 L765.0,715.8 L766.0,715.8 L767.0,715.8 L768.0,715.9 L769.0,715.9 L770.0,715.9 L771.0,715.9 L772.0,715.9 L773.0,716.0 L774.0,716.0 L775.0,716.0 L776.0,716.0 L777.0,716.0 L778.0,716.1 L779.0,716.1 L780.0,716.1 L781.0,716.1 L782.0,716.1 L783.0,716.1 L784.0,716.2 L785.0,716.2 L786.0,716.2 L787.0,716.2 L788.0,716.2 L789.0,716.3 L790.0,716.3 L791.0,716.3 L792.0,716.3 L793.0,716.3 L794.0,716.4 L795.0,716.4 L796.0,716.4 L797.0,716.4 L798.0,716.4 L799.0,716.5 L800.0,716.5 L801.0,716.5 L802.0,716.5 L803.0,716.5 L804.0,716.6 L805.0,716.6 L806.0,716.6 L807.0,716.6 L808.0,716.6 L809.0,716.7 L810.0,716.7 L811.0,716.7 L812.0,716.7 L813.0,716.7 L814.0,716.8 L815.0,716.8 L816.0,716.8 L817.0,716.8 L818.0,716.8 L819.0,716.9 L820.0,716.9 L821.0,716.9 L822.0,716.9 L823.0,716.9 L824.0,716.9 L825.0,717.0 L826.0,717.0 L827.0,717.0 L828.0,717.0 L829.0,717.0 L830.0,717.1 L831.0,717.1 L832.0,717.1 L833.0,717.1 L834.0,717.1 L835.0,717.2 L836.0,717.2 L837.0,717.2 L838.0,717.2 L839.0,717.2 L840.0,717.3 L841.0,717.3 L842.0,717.3 L843.0,717.3 L844.0,717.3 L845.0,717.4 L846.0,717.4 L847.0,717.4 L848.0,717.4 L849.0,717.4 L850.0,717.5 L851.0,717.5 L852.0,717.5 L853.0,717.5 L854.0,717.5 L855.0,717.6 L856.0,717.6 L857.0,717.6 L858.0,717.6 L859.0,717.6 L860.0,717.7 L861.0,717.7 L862.0,717.7 L863.0,717.7 L864.0,717.7 L865.0,717.7 L866.0,717.8 L867.0,717.8 L868.0,717.8 L869.0,717.8 L870.0,717.8 L871.0,717.9 L872.0,717.9 L873.0,717.9 L874.0,717.9 L875.0,717.9 L876.0,718.0 L877.0,718.0 L878.0,718.0 L879.0,718.0 L880.0,718.0 L881.0,718.0 L882.0,718.0 L883.0,718.0 L884.0,718.0 L885.0,718.0 L886.0,718.0 L887.0,718.0 L888.0,718.0 L889.0,718.0 L890.0,718.0 L891.0,718.0 L892.0,718.0 L893.0,718.0 L894.0,718.0 L895.0,718.0 L896.0,718.0 L897.0,718.0 L898.0,718.0 L899.0,718.0 L900.0,718.0 L901.0,718.0 L902.0,718.0 L903.0,718.0 L904.0,718.0 L905.0,718.0 L906.0,718.0 L907.0,718.0 L908.0,718.0 L909.0,718.0 L910.0,718.0 L911.0,718.0 L912.0,718.0 L913.0,718.0 L914.0,718.0" fill="none" stroke="#1a1a1a" stroke-width="1.7" stroke-linejoin="round" stroke-linecap="round" />
<path d="M460.0,710.4 L461.0,710.3 L462.0,710.3 L463.0,710.2 L464.0,710.2 L465.0,710.1 L466.0,710.1 L467.0,710.0 L468.0,710.0 L469.0,710.0 L470.0,710.0 L471.0,710.0 L472.0,710.0 L473.0,709.9 L474.0,709.9 L475.0,709.9 L476.0,709.9 L477.0,709.8 L478.0,709.8 L479.0,709.7 L480.0,709.6 L481.0,709.6 L482.0,709.5 L483.0,709.4 L484.0,709.3 L485.0,709.2 L486.0,709.0 L487.0,708.9 L488.0,708.7 L489.0,708.6 L490.0,708.4 L491.0,708.2 L492.0,707.9 L493.0,707.7 L494.0,707.4 L495.0,707.2 L496.0,706.9 L497.0,706.5 L498.0,706.2 L499.0,705.8 L500.0,705.5 L501.0,705.0 L502.0,704.6 L503.0,704.1 L504.0,703.6 L505.0,703.1 L506.0,702.6 L507.0,702.0 L508.0,701.4 L509.0,700.7 L510.0,700.1 L511.0,699.4 L512.0,698.6 L513.0,697.9 L514.0,697.0 L515.0,696.2 L516.0,695.3 L517.0,694.4 L518.0,693.5 L519.0,692.5 L520.0,691.6 L521.0,690.5 L522.0,689.5 L523.0,688.4 L524.0,687.3 L525.0,686.1 L526.0,685.0 L527.0,683.8 L528.0,682.6 L529.0,681.3 L530.0,680.1 L531.0,678.8 L532.0,677.6 L533.0,676.3 L534.0,675.0 L535.0,673.7 L536.0,672.4 L537.0,671.2 L538.0,669.9 L539.0,668.7 L540.0,667.5 L541.0,666.2 L542.0,664.9 L543.0,663.6 L544.0,662.3 L545.0,661.0 L546.0,659.6 L547.0,658.3 L548.0,656.9 L549.0,655.5 L550.0,654.0 L551.0,652.6 L552.0,651.1 L553.0,649.7 L554.0,648.2 L555.0,646.7 L556.0,645.2 L557.0,643.7 L558.0,642.2 L559.0,640.6 L560.0,639.1 L561.0,637.5 L562.0,636.0 L563.0,634.4 L564.0,632.9 L565.0,631.3 L566.0,629.8 L567.0,628.2 L568.0,626.7 L569.0,625.1 L570.0,623.6 L571.0,622.0 L572.0,620.5 L573.0,619.0 L574.0,617.5 L575.0,616.0 L576.0,614.5 L577.0,613.0 L578.0,611.5 L579.0,610.1 L580.0,608.7 L581.0,607.3 L582.0,605.9 L583.0,604.6 L584.0,603.3 L585.0,602.0 L586.0,600.7 L587.0,599.5 L588.0,598.3 L589.0,597.2 L590.0,596.0 L591.0,594.9 L592.0,593.9 L593.0,592.9 L594.0,591.9 L595.0,591.0 L596.0,590.1 L597.0,589.3 L598.0,588.5 L599.0,587.7 L600.0,587.0 L601.0,586.4 L602.0,585.8 L603.0,585.3 L604.0,584.8 L605.0,584.3 L606.0,584.0 L607.0,583.6 L608.0,583.4 L609.0,583.1 L610.0,583.0 L611.0,582.9 L612.0,582.8 L613.0,582.8 L614.0,582.9 L615.0,583.0 L616.0,583.2 L617.0,583.4 L618.0,583.7 L619.0,584.1 L620.0,584.5 L621.0,584.9 L622.0,585.4 L623.0,586.0 L624.0,586.6 L625.0,587.3 L626.0,588.0 L627.0,588.7 L628.0,589.5 L629.0,590.4 L630.0,591.3 L631.0,592.3 L632.0,593.2 L633.0,594.3 L634.0,595.3 L635.0,596.5 L636.0,597.6 L637.0,598.8 L638.0,600.0 L639.0,601.3 L640.0,602.6 L641.0,603.9 L642.0,605.2 L643.0,606.6 L644.0,608.0 L645.0,609.4 L646.0,610.8 L647.0,612.3 L648.0,613.8 L649.0,615.3 L650.0,616.8 L651.0,618.3 L652.0,619.9 L653.0,621.4 L654.0,623.0 L655.0,624.6 L656.0,626.2 L657.0,627.8 L658.0,629.4 L659.0,631.0 L660.0,632.5 L661.0,634.1 L662.0,635.7 L663.0,637.3 L664.0,638.9 L665.0,640.5 L666.0,642.1 L667.0,643.7 L668.0,645.2 L669.0,646.8 L670.0,648.3 L671.0,649.9 L672.0,651.4 L673.0,652.9 L674.0,654.4 L675.0,655.9 L676.0,657.4 L677.0,658.8 L678.0,660.3 L679.0,661.7 L680.0,663.1 L681.0,664.5 L682.0,665.8 L683.0,667.2 L684.0,668.5 L685.0,669.8 L686.0,671.1 L687.0,672.3 L688.0,673.6 L689.0,674.8 L690.0,676.0 L691.0,677.1 L692.0,678.3 L693.0,679.4 L694.0,680.5 L695.0,681.6 L696.0,682.7 L697.0,683.7 L698.0,684.7 L699.0,685.7 L700.0,686.6 L701.0,687.6 L702.0,688.5 L703.0,689.4 L704.0,690.3 L705.0,691.1 L706.0,692.0 L707.0,692.8 L708.0,693.5 L709.0,694.3 L710.0,695.1 L711.0,695.8 L712.0,696.5 L713.0,697.2 L714.0,697.8 L715.0,698.5 L716.0,699.1 L717.0,699.7 L718.0,700.3 L719.0,700.8 L720.0,701.4 L721.0,701.9 L722.0,702.4 L723.0,702.9 L724.0,703.4 L725.0,703.8 L726.0,704.3 L727.0,704.7 L728.0,705.1 L729.0,705.5 L730.0,705.9 L731.0,706.3 L732.0,706.7 L733.0,707.0 L734.0,707.3 L735.0,707.7 L736.0,708.0 L737.0,708.3 L738.0,708.5 L739.0,708.8 L740.0,709.1 L741.0,709.3 L742.0,709.6 L743.0,709.8 L744.0,710.1 L745.0,710.3 L746.0,710.5 L747.0,710.7 L748.0,710.9 L749.0,711.1 L750.0,711.2 L751.0,711.4 L752.0,711.6 L753.0,711.7 L754.0,711.9 L755.0,712.0 L756.0,712.2 L757.0,712.3 L758.0,712.4 L759.0,712.6 L760.0,712.7 L761.0,712.8 L762.0,712.9 L763.0,713.0 L764.0,713.1 L765.0,713.2 L766.0,713.3 L767.0,713.4 L768.0,713.5 L769.0,713.6 L770.0,713.7 L771.0,713.8 L772.0,713.8 L773.0,713.9 L774.0,714.0 L775.0,714.0 L776.0,714.1 L777.0,714.2 L778.0,714.2 L779.0,714.3 L780.0,714.4 L781.0,714.4 L782.0,714.5 L783.0,714.5 L784.0,714.6 L785.0,714.6 L786.0,714.7 L787.0,714.7 L788.0,714.8 L789.0,714.8 L790.0,714.9 L791.0,714.9 L792.0,715.0 L793.0,715.0 L794.0,715.0 L795.0,715.1 L796.0,715.1 L797.0,715.2 L798.0,715.2 L799.0,715.2 L800.0,715.3 L801.0,715.3 L802.0,715.3 L803.0,715.4 L804.0,715.4 L805.0,715.5 L806.0,715.5 L807.0,715.5 L808.0,715.6 L809.0,715.6 L810.0,715.6 L811.0,715.6 L812.0,715.7 L813.0,715.7 L814.0,715.7 L815.0,715.8 L816.0,715.8 L817.0,715.8 L818.0,715.9 L819.0,715.9 L820.0,715.9 L821.0,716.0 L822.0,716.0 L823.0,716.0 L824.0,716.0 L825.0,716.1 L826.0,716.1 L827.0,716.1 L828.0,716.1 L829.0,716.2 L830.0,716.2 L831.0,716.2 L832.0,716.3 L833.0,716.3 L834.0,716.3 L835.0,716.3 L836.0,716.4 L837.0,716.4 L838.0,716.4 L839.0,716.4 L840.0,716.5 L841.0,716.5 L842.0,716.5 L843.0,716.6 L844.0,716.6 L845.0,716.6 L846.0,716.6 L847.0,716.7 L848.0,716.7 L849.0,716.7 L850.0,716.7 L851.0,716.8 L852.0,716.8 L853.0,716.8 L854.0,716.8 L855.0,716.9 L856.0,716.9 L857.0,716.9 L858.0,716.9 L859.0,717.0 L860.0,717.0 L861.0,717.0 L862.0,717.0 L863.0,717.1 L864.0,717.1 L865.0,717.1 L866.0,717.1 L867.0,717.2 L868.0,717.2 L869.0,717.2 L870.0,717.2 L871.0,717.2 L872.0,717.3 L873.0,717.3 L874.0,717.3 L875.0,717.3 L876.0,717.4 L877.0,717.4 L878.0,717.4 L879.0,717.4 L880.0,717.4 L881.0,717.5 L882.0,717.5 L883.0,717.5 L884.0,717.5 L885.0,717.5 L886.0,717.5 L887.0,717.6 L888.0,717.6 L889.0,717.6 L890.0,717.6 L891.0,717.6 L892.0,717.7 L893.0,717.7 L894.0,717.7 L895.0,717.7 L896.0,717.7 L897.0,717.8 L898.0,717.8 L899.0,717.8 L900.0,717.8 L901.0,717.8 L902.0,717.9 L903.0,717.9 L904.0,717.9 L905.0,717.9 L906.0,717.9 L907.0,717.9 L908.0,718.0 L909.0,718.0 L910.0,718.0 L911.0,718.0 L912.0,718.0 L913.0,718.0 L914.0,718.0" fill="none" stroke="#b272e2" stroke-width="3.7" stroke-linejoin="round" stroke-linecap="round" />
<path d="M460.0,710.4 L461.0,710.3 L462.0,710.3 L463.0,710.2 L464.0,710.2 L465.0,710.1 L466.0,710.1 L467.0,710.0 L468.0,710.0 L469.0,710.0 L470.0,710.0 L471.0,710.0 L472.0,710.1 L473.0,710.1 L474.0,710.1 L475.0,710.1 L476.0,710.1 L477.0,710.1 L478.0,710.1 L479.0,710.1 L480.0,710.2 L481.0,710.2 L482.0,710.2 L483.0,710.2 L484.0,710.2 L485.0,710.2 L486.0,710.2 L487.0,710.2 L488.0,710.2 L489.0,710.2 L490.0,710.2 L491.0,710.2 L492.0,710.2 L493.0,710.2 L494.0,710.2 L495.0,710.2 L496.0,710.2 L497.0,710.3 L498.0,710.3 L499.0,710.3 L500.0,710.3 L501.0,710.3 L502.0,710.3 L503.0,710.3 L504.0,710.3 L505.0,710.3 L506.0,710.3 L507.0,710.3 L508.0,710.3 L509.0,710.3 L510.0,710.3 L511.0,710.2 L512.0,710.2 L513.0,710.2 L514.0,710.2 L515.0,710.2 L516.0,710.2 L517.0,710.2 L518.0,710.2 L519.0,710.2 L520.0,710.2 L521.0,710.2 L522.0,710.2 L523.0,710.2 L524.0,710.2 L525.0,710.2 L526.0,710.2 L527.0,710.2 L528.0,710.2 L529.0,710.2 L530.0,710.2 L531.0,710.2 L532.0,710.2 L533.0,710.2 L534.0,710.2 L535.0,710.2 L536.0,710.3 L537.0,710.3 L538.0,710.3 L539.0,710.3 L540.0,710.3 L541.0,710.3 L542.0,710.3 L543.0,710.3 L544.0,710.3 L545.0,710.3 L546.0,710.3 L547.0,710.3 L548.0,710.3 L549.0,710.3 L550.0,710.3 L551.0,710.3 L552.0,710.3 L553.0,710.3 L554.0,710.3 L555.0,710.3 L556.0,710.3 L557.0,710.3 L558.0,710.3 L559.0,710.3 L560.0,710.3 L561.0,710.3 L562.0,710.3 L563.0,710.3 L564.0,710.3 L565.0,710.3 L566.0,710.3 L567.0,710.3 L568.0,710.2 L569.0,710.2 L570.0,710.2 L571.0,710.2 L572.0,710.2 L573.0,710.1 L574.0,710.1 L575.0,710.1 L576.0,710.1 L577.0,710.0 L578.0,710.0 L579.0,709.9 L580.0,709.9 L581.0,709.9 L582.0,709.8 L583.0,709.8 L584.0,709.7 L585.0,709.6 L586.0,709.6 L587.0,709.5 L588.0,709.4 L589.0,709.3 L590.0,709.3 L591.0,709.2 L592.0,709.1 L593.0,709.0 L594.0,708.8 L595.0,708.7 L596.0,708.6 L597.0,708.5 L598.0,708.3 L599.0,708.2 L600.0,708.0 L601.0,707.8 L602.0,707.7 L603.0,707.5 L604.0,707.3 L605.0,707.1 L606.0,706.8 L607.0,706.6 L608.0,706.3 L609.0,706.1 L610.0,705.8 L611.0,705.5 L612.0,705.2 L613.0,704.9 L614.0,704.5 L615.0,704.2 L616.0,703.8 L617.0,703.4 L618.0,703.0 L619.0,702.6 L620.0,702.1 L621.0,701.6 L622.0,701.1 L623.0,700.6 L624.0,700.1 L625.0,699.5 L626.0,698.9 L627.0,698.3 L628.0,697.6 L629.0,696.9 L630.0,696.2 L631.0,695.5 L632.0,694.7 L633.0,693.9 L634.0,693.1 L635.0,692.2 L636.0,691.3 L637.0,690.4 L638.0,689.4 L639.0,688.4 L640.0,687.3 L641.0,686.2 L642.0,685.1 L643.0,683.9 L644.0,682.7 L645.0,681.5 L646.0,680.2 L647.0,678.8 L648.0,677.4 L649.0,676.0 L650.0,674.5 L651.0,673.0 L652.0,671.4 L653.0,669.8 L654.0,668.2 L655.0,666.5 L656.0,664.7 L657.0,662.9 L658.0,661.0 L659.0,659.1 L660.0,657.1 L661.0,655.1 L662.0,653.1 L663.0,651.0 L664.0,648.8 L665.0,646.6 L666.0,644.3 L667.0,642.0 L668.0,639.6 L669.0,637.2 L670.0,634.7 L671.0,632.2 L672.0,629.7 L673.0,627.1 L674.0,624.4 L675.0,621.7 L676.0,619.0 L677.0,616.2 L678.0,613.3 L679.0,610.5 L680.0,607.6 L681.0,604.6 L682.0,601.6 L683.0,598.6 L684.0,595.6 L685.0,592.5 L686.0,589.3 L687.0,586.2 L688.0,583.0 L689.0,579.8 L690.0,576.6 L691.0,573.4 L692.0,570.1 L693.0,566.9 L694.0,563.6 L695.0,560.3 L696.0,557.0 L697.0,553.7 L698.0,550.4 L699.0,547.1 L700.0,543.8 L701.0,540.5 L702.0,537.2 L703.0,534.0 L704.0,530.7 L705.0,527.5 L706.0,524.3 L707.0,521.2 L708.0,518.0 L709.0,514.9 L710.0,511.9 L711.0,508.8 L712.0,505.8 L713.0,502.9 L714.0,500.0 L715.0,497.2 L716.0,494.4 L717.0,491.7 L718.0,489.1 L719.0,486.5 L720.0,484.0 L721.0,481.6 L722.0,479.2 L723.0,476.9 L724.0,474.8 L725.0,472.7 L726.0,470.6 L727.0,468.7 L728.0,466.9 L729.0,465.2 L730.0,463.6 L731.0,462.0 L732.0,460.6 L733.0,459.3 L734.0,458.1 L735.0,457.0 L736.0,456.0 L737.0,455.2 L738.0,454.4 L739.0,453.8 L740.0,453.3 L741.0,452.9 L742.0,452.6 L743.0,452.4 L744.0,452.4 L745.0,452.5 L746.0,452.7 L747.0,453.0 L748.0,453.4 L749.0,454.0 L750.0,454.6 L751.0,455.4 L752.0,456.3 L753.0,457.4 L754.0,458.5 L755.0,459.7 L756.0,461.1 L757.0,462.5 L758.0,464.1 L759.0,465.8 L760.0,467.5 L761.0,469.4 L762.0,471.3 L763.0,473.4 L764.0,475.5 L765.0,477.8 L766.0,480.1 L767.0,482.5 L768.0,484.9 L769.0,487.5 L770.0,490.1 L771.0,492.8 L772.0,495.5 L773.0,498.3 L774.0,501.2 L775.0,504.1 L776.0,507.1 L777.0,510.1 L778.0,513.2 L779.0,516.3 L780.0,519.4 L781.0,522.6 L782.0,525.8 L783.0,529.1 L784.0,532.3 L785.0,535.6 L786.0,538.9 L787.0,542.2 L788.0,545.5 L789.0,548.9 L790.0,552.2 L791.0,555.5 L792.0,558.9 L793.0,562.2 L794.0,565.5 L795.0,568.9 L796.0,572.2 L797.0,575.4 L798.0,578.7 L799.0,582.0 L800.0,585.2 L801.0,588.4 L802.0,591.6 L803.0,594.8 L804.0,597.9 L805.0,601.0 L806.0,604.0 L807.0,607.1 L808.0,610.1 L809.0,613.0 L810.0,615.9 L811.0,618.8 L812.0,621.6 L813.0,624.4 L814.0,627.1 L815.0,629.8 L816.0,632.5 L817.0,635.1 L818.0,637.6 L819.0,640.1 L820.0,642.6 L821.0,645.0 L822.0,647.4 L823.0,649.7 L824.0,651.9 L825.0,654.1 L826.0,656.3 L827.0,658.4 L828.0,660.4 L829.0,662.4 L830.0,664.4 L831.0,666.3 L832.0,668.1 L833.0,669.9 L834.0,671.7 L835.0,673.4 L836.0,675.0 L837.0,676.6 L838.0,678.2 L839.0,679.7 L840.0,681.2 L841.0,682.6 L842.0,684.0 L843.0,685.3 L844.0,686.6 L845.0,687.9 L846.0,689.1 L847.0,690.3 L848.0,691.4 L849.0,692.5 L850.0,693.5 L851.0,694.5 L852.0,695.5 L853.0,696.5 L854.0,697.4 L855.0,698.2 L856.0,699.1 L857.0,699.9 L858.0,700.7 L859.0,701.4 L860.0,702.1 L861.0,702.8 L862.0,703.5 L863.0,704.1 L864.0,704.7 L865.0,705.3 L866.0,705.9 L867.0,706.4 L868.0,707.0 L869.0,707.4 L870.0,707.9 L871.0,708.4 L872.0,708.8 L873.0,709.2 L874.0,709.6 L875.0,710.0 L876.0,710.4 L877.0,710.7 L878.0,711.1 L879.0,711.4 L880.0,711.8 L881.0,712.1 L882.0,712.5 L883.0,712.8 L884.0,713.2 L885.0,713.5 L886.0,713.8 L887.0,714.1 L888.0,714.4 L889.0,714.7 L890.0,715.0 L891.0,715.2 L892.0,715.5 L893.0,715.7 L894.0,715.9 L895.0,716.1 L896.0,716.3 L897.0,716.5 L898.0,716.7 L899.0,716.8 L900.0,717.0 L901.0,717.1 L902.0,717.2 L903.0,717.3 L904.0,717.4 L905.0,717.5 L906.0,717.6 L907.0,717.7 L908.0,717.8 L909.0,717.8 L910.0,717.9 L911.0,717.9 L912.0,717.9 L913.0,718.0 L914.0,718.0" fill="none" stroke="#4312c4" stroke-width="3.7" stroke-linejoin="round" stroke-linecap="round" />
<path d="M768.0,713.3 L769.0,713.1 L770.0,712.8 L771.0,712.6 L772.0,712.4 L773.0,712.1 L774.0,711.8 L775.0,711.5 L776.0,711.2 L777.0,710.9 L778.0,710.5 L779.0,710.1 L780.0,709.7 L781.0,709.3 L782.0,708.8 L783.0,708.4 L784.0,707.9 L785.0,707.4 L786.0,706.8 L787.0,706.3 L788.0,705.7 L789.0,705.1 L790.0,704.5 L791.0,703.8 L792.0,703.1 L793.0,702.4 L794.0,701.7 L795.0,701.0 L796.0,700.2 L797.0,699.4 L798.0,698.6 L799.0,697.8 L800.0,697.0 L801.0,696.1 L802.0,695.3 L803.0,694.4 L804.0,693.5 L805.0,692.6 L806.0,691.7 L807.0,690.9 L808.0,689.9 L809.0,689.0 L810.0,688.2 L811.0,687.3 L812.0,686.4 L813.0,685.5 L814.0,684.6 L815.0,683.8 L816.0,682.9 L817.0,682.1 L818.0,681.3 L819.0,680.6 L820.0,679.8 L821.0,679.1 L822.0,678.4 L823.0,677.8 L824.0,677.2 L825.0,676.6 L826.0,676.0 L827.0,675.5 L828.0,675.1 L829.0,674.7 L830.0,674.3 L831.0,674.0 L832.0,673.8 L833.0,673.5 L834.0,673.4 L835.0,673.3 L836.0,673.2 L837.0,673.2 L838.0,673.2 L839.0,673.3 L840.0,673.5 L841.0,673.7 L842.0,673.9 L843.0,674.3 L844.0,674.6 L845.0,675.0 L846.0,675.4 L847.0,675.9 L848.0,676.5 L849.0,677.0 L850.0,677.7 L851.0,678.3 L852.0,679.0 L853.0,679.7 L854.0,680.5 L855.0,681.3 L856.0,682.1 L857.0,682.9 L858.0,683.8 L859.0,684.6 L860.0,685.5 L861.0,686.4 L862.0,687.3 L863.0,688.3 L864.0,689.2 L865.0,690.1 L866.0,691.1 L867.0,692.0 L868.0,693.0 L869.0,693.9 L870.0,694.8 L871.0,695.7 L872.0,696.6 L873.0,697.5 L874.0,698.4 L875.0,699.3 L876.0,700.2 L877.0,701.0 L878.0,701.9 L879.0,702.8 L880.0,703.8 L881.0,704.7 L882.0,705.6 L883.0,706.5 L884.0,707.4 L885.0,708.3 L886.0,709.1 L887.0,709.9 L888.0,710.7 L889.0,711.4 L890.0,712.1 L891.0,712.7 L892.0,713.3 L893.0,713.8 L894.0,714.3 L895.0,714.8 L896.0,715.2 L897.0,715.6 L898.0,716.0 L899.0,716.3 L900.0,716.5 L901.0,716.8 L902.0,717.0 L903.0,717.2 L904.0,717.3" fill="none" stroke="#e07b2a" stroke-width="3.7" stroke-linejoin="round" stroke-linecap="round" />
<path d="M460.0,710.4 L461.0,710.3 L462.0,710.3 L463.0,710.2 L464.0,710.2 L465.0,710.1 L466.0,710.1 L467.0,710.0 L468.0,710.0 L469.0,710.0 L470.0,710.0 L471.0,710.1 L472.0,710.1 L473.0,710.1 L474.0,710.1 L475.0,710.1 L476.0,710.2 L477.0,710.2 L478.0,710.2 L479.0,710.2 L480.0,710.2 L481.0,710.3 L482.0,710.3 L483.0,710.3 L484.0,710.3 L485.0,710.3 L486.0,710.4 L487.0,710.4 L488.0,710.4 L489.0,710.4 L490.0,710.4 L491.0,710.4 L492.0,710.5 L493.0,710.5 L494.0,710.5 L495.0,710.5 L496.0,710.5 L497.0,710.6 L498.0,710.6 L499.0,710.6 L500.0,710.6 L501.0,710.6 L502.0,710.7 L503.0,710.7 L504.0,710.7 L505.0,710.7 L506.0,710.7 L507.0,710.8 L508.0,710.8 L509.0,710.8 L510.0,710.8 L511.0,710.8 L512.0,710.9 L513.0,710.9 L514.0,710.9 L515.0,710.9 L516.0,710.9 L517.0,711.0 L518.0,711.0 L519.0,711.0 L520.0,711.0 L521.0,711.0 L522.0,711.1 L523.0,711.1 L524.0,711.1 L525.0,711.1 L526.0,711.1 L527.0,711.2 L528.0,711.2 L529.0,711.2 L530.0,711.2 L531.0,711.2 L532.0,711.2 L533.0,711.3 L534.0,711.3 L535.0,711.3 L536.0,711.3 L537.0,711.3 L538.0,711.4 L539.0,711.4 L540.0,711.4 L541.0,711.4 L542.0,711.4 L543.0,711.5 L544.0,711.5 L545.0,711.5 L546.0,711.5 L547.0,711.5 L548.0,711.6 L549.0,711.6 L550.0,711.6 L551.0,711.6 L552.0,711.6 L553.0,711.7 L554.0,711.7 L555.0,711.7 L556.0,711.7 L557.0,711.7 L558.0,711.8 L559.0,711.8 L560.0,711.8 L561.0,711.8 L562.0,711.8 L563.0,711.9 L564.0,711.9 L565.0,711.9 L566.0,711.9 L567.0,711.9 L568.0,712.0 L569.0,712.0 L570.0,712.0 L571.0,712.0 L572.0,712.0 L573.0,712.0 L574.0,712.1 L575.0,712.1 L576.0,712.1 L577.0,712.1 L578.0,712.1 L579.0,712.2 L580.0,712.2 L581.0,712.2 L582.0,712.2 L583.0,712.2 L584.0,712.3 L585.0,712.3 L586.0,712.3 L587.0,712.3 L588.0,712.3 L589.0,712.4 L590.0,712.4 L591.0,712.4 L592.0,712.4 L593.0,712.4 L594.0,712.5 L595.0,712.5 L596.0,712.5 L597.0,712.5 L598.0,712.5 L599.0,712.6 L600.0,712.6 L601.0,712.6 L602.0,712.6 L603.0,712.6 L604.0,712.7 L605.0,712.7 L606.0,712.7 L607.0,712.7 L608.0,712.7 L609.0,712.8 L610.0,712.8 L611.0,712.8 L612.0,712.8 L613.0,712.8 L614.0,712.9 L615.0,712.9 L616.0,712.9 L617.0,712.9 L618.0,712.9 L619.0,712.9 L620.0,713.0 L621.0,713.0 L622.0,713.0 L623.0,713.0 L624.0,713.0 L625.0,713.1 L626.0,713.1 L627.0,713.1 L628.0,713.1 L629.0,713.1 L630.0,713.2 L631.0,713.2 L632.0,713.2 L633.0,713.2 L634.0,713.2 L635.0,713.3 L636.0,713.3 L637.0,713.3 L638.0,713.3 L639.0,713.3 L640.0,713.4 L641.0,713.4 L642.0,713.4 L643.0,713.4 L644.0,713.4 L645.0,713.5 L646.0,713.5 L647.0,713.5 L648.0,713.5 L649.0,713.5 L650.0,713.6 L651.0,713.6 L652.0,713.6 L653.0,713.6 L654.0,713.6 L655.0,713.7 L656.0,713.7 L657.0,713.7 L658.0,713.7 L659.0,713.7 L660.0,713.7 L661.0,713.8 L662.0,713.8 L663.0,713.8 L664.0,713.8 L665.0,713.8 L666.0,713.9 L667.0,713.9 L668.0,713.9 L669.0,713.9 L670.0,713.9 L671.0,714.0 L672.0,714.0 L673.0,714.0 L674.0,714.0 L675.0,714.0 L676.0,714.1 L677.0,714.1 L678.0,714.1 L679.0,714.1 L680.0,714.1 L681.0,714.2 L682.0,714.2 L683.0,714.2 L684.0,714.2 L685.0,714.2 L686.0,714.3 L687.0,714.3 L688.0,714.3 L689.0,714.3 L690.0,714.3 L691.0,714.4 L692.0,714.4 L693.0,714.4 L694.0,714.4 L695.0,714.4 L696.0,714.5 L697.0,714.5 L698.0,714.5 L699.0,714.5 L700.0,714.5 L701.0,714.5 L702.0,714.6 L703.0,714.6 L704.0,714.6 L705.0,714.6 L706.0,714.6 L707.0,714.7 L708.0,714.7 L709.0,714.7 L710.0,714.7 L711.0,714.7 L712.0,714.8 L713.0,714.8 L714.0,714.8 L715.0,714.8 L716.0,714.8 L717.0,714.9 L718.0,714.9 L719.0,714.9 L720.0,714.9 L721.0,714.9 L722.0,715.0 L723.0,715.0 L724.0,715.0 L725.0,715.0 L726.0,715.0 L727.0,715.1 L728.0,715.1 L729.0,715.1 L730.0,715.1 L731.0,715.1 L732.0,715.2 L733.0,715.2 L734.0,715.2 L735.0,715.2 L736.0,715.2 L737.0,715.3 L738.0,715.3 L739.0,715.3 L740.0,715.3 L741.0,715.3 L742.0,715.3 L743.0,715.4 L744.0,715.4 L745.0,715.4 L746.0,715.4 L747.0,715.4 L748.0,715.5 L749.0,715.5 L750.0,715.5 L751.0,715.5 L752.0,715.5 L753.0,715.6 L754.0,715.6 L755.0,715.6 L756.0,715.6 L757.0,715.6 L758.0,715.7 L759.0,715.7 L760.0,715.7 L761.0,715.7 L762.0,715.7 L763.0,715.8 L764.0,715.8 L765.0,715.8 L766.0,715.8 L767.0,715.8 L768.0,715.9 L769.0,715.9 L770.0,715.9 L771.0,715.9 L772.0,715.9 L773.0,716.0 L774.0,716.0 L775.0,716.0 L776.0,716.0 L777.0,716.0 L778.0,716.1 L779.0,716.1 L780.0,716.1 L781.0,716.1 L782.0,716.1 L783.0,716.1 L784.0,716.2 L785.0,716.2 L786.0,716.2 L787.0,716.2 L788.0,716.2 L789.0,716.3 L790.0,716.3 L791.0,716.3 L792.0,716.3 L793.0,716.3 L794.0,716.4 L795.0,716.4 L796.0,716.4 L797.0,716.4 L798.0,716.4 L799.0,716.5 L800.0,716.5 L801.0,716.5 L802.0,716.5 L803.0,716.5 L804.0,716.6 L805.0,716.6 L806.0,716.6 L807.0,716.6 L808.0,716.6 L809.0,716.7 L810.0,716.7 L811.0,716.7 L812.0,716.7 L813.0,716.7 L814.0,716.8 L815.0,716.8 L816.0,716.8 L817.0,716.8 L818.0,716.8 L819.0,716.9 L820.0,716.9 L821.0,716.9 L822.0,716.9 L823.0,716.9 L824.0,716.9 L825.0,717.0 L826.0,717.0 L827.0,717.0 L828.0,717.0 L829.0,717.0 L830.0,717.1 L831.0,717.1 L832.0,717.1 L833.0,717.1 L834.0,717.1 L835.0,717.2 L836.0,717.2 L837.0,717.2 L838.0,717.2 L839.0,717.2 L840.0,717.3 L841.0,717.3 L842.0,717.3 L843.0,717.3 L844.0,717.3 L845.0,717.4 L846.0,717.4 L847.0,717.4 L848.0,717.4 L849.0,717.4 L850.0,717.5 L851.0,717.5 L852.0,717.5 L853.0,717.5 L854.0,717.5 L855.0,717.6 L856.0,717.6 L857.0,717.6 L858.0,717.6 L859.0,717.6 L860.0,717.7 L861.0,717.7 L862.0,717.7 L863.0,717.7 L864.0,717.7 L865.0,717.7 L866.0,717.8 L867.0,717.8 L868.0,717.8 L869.0,717.8 L870.0,717.8 L871.0,717.9 L872.0,717.9 L873.0,717.9 L874.0,717.9 L875.0,717.9 L876.0,718.0 L877.0,718.0 L878.0,718.0 L879.0,718.0 L880.0,718.0 L881.0,718.0 L882.0,718.0 L883.0,718.0 L884.0,718.0 L885.0,718.0 L886.0,718.0 L887.0,718.0 L888.0,718.0 L889.0,718.0 L890.0,718.0 L891.0,718.0 L892.0,718.0 L893.0,718.0 L894.0,718.0 L895.0,718.0 L896.0,718.0 L897.0,718.0 L898.0,718.0 L899.0,718.0 L900.0,718.0 L901.0,718.0 L902.0,718.0 L903.0,718.0 L904.0,718.0 L905.0,718.0 L906.0,718.0 L907.0,718.0 L908.0,718.0 L909.0,718.0 L910.0,718.0 L911.0,718.0 L912.0,718.0 L913.0,718.0 L914.0,718.0" fill="none" stroke="#1a1228" stroke-width="1.5" stroke-linejoin="round" stroke-linecap="round" opacity="0.85"/>
<path d="M460.0,710.4 L461.0,710.3 L462.0,710.3 L463.0,710.2 L464.0,710.2 L465.0,710.1 L466.0,710.1 L467.0,710.0 L468.0,710.0 L469.0,710.0 L470.0,710.0 L471.0,710.0 L472.0,709.9 L473.0,709.9 L474.0,709.9 L475.0,709.9 L476.0,709.8 L477.0,709.8 L478.0,709.7 L479.0,709.6 L480.0,709.6 L481.0,709.5 L482.0,709.4 L483.0,709.3 L484.0,709.2 L485.0,709.0 L486.0,708.9 L487.0,708.7 L488.0,708.6 L489.0,708.4 L490.0,708.2 L491.0,707.9 L492.0,707.7 L493.0,707.5 L494.0,707.2 L495.0,706.9 L496.0,706.6 L497.0,706.2 L498.0,705.9 L499.0,705.5 L500.0,705.1 L501.0,704.6 L502.0,704.2 L503.0,703.7 L504.0,703.2 L505.0,702.6 L506.0,702.1 L507.0,701.5 L508.0,700.8 L509.0,700.2 L510.0,699.5 L511.0,698.8 L512.0,698.0 L513.0,697.2 L514.0,696.4 L515.0,695.5 L516.0,694.6 L517.0,693.7 L518.0,692.8 L519.0,691.8 L520.0,690.8 L521.0,689.7 L522.0,688.6 L523.0,687.5 L524.0,686.4 L525.0,685.2 L526.0,684.1 L527.0,682.8 L528.0,681.6 L529.0,680.4 L530.0,679.1 L531.0,677.8 L532.0,676.5 L533.0,675.2 L534.0,674.0 L535.0,672.7 L536.0,671.4 L537.0,670.1 L538.0,668.8 L539.0,667.6 L540.0,666.3 L541.0,665.1 L542.0,663.8 L543.0,662.5 L544.0,661.1 L545.0,659.8 L546.0,658.4 L547.0,657.0 L548.0,655.6 L549.0,654.2 L550.0,652.8 L551.0,651.3 L552.0,649.8 L553.0,648.4 L554.0,646.9 L555.0,645.3 L556.0,643.8 L557.0,642.3 L558.0,640.7 L559.0,639.2 L560.0,637.6 L561.0,636.1 L562.0,634.5 L563.0,632.9 L564.0,631.3 L565.0,629.7 L566.0,628.1 L567.0,626.5 L568.0,624.9 L569.0,623.4 L570.0,621.8 L571.0,620.2 L572.0,618.6 L573.0,617.1 L574.0,615.5 L575.0,614.0 L576.0,612.4 L577.0,610.9 L578.0,609.4 L579.0,607.9 L580.0,606.4 L581.0,605.0 L582.0,603.5 L583.0,602.1 L584.0,600.7 L585.0,599.3 L586.0,598.0 L587.0,596.7 L588.0,595.4 L589.0,594.1 L590.0,592.9 L591.0,591.7 L592.0,590.5 L593.0,589.4 L594.0,588.3 L595.0,587.2 L596.0,586.2 L597.0,585.2 L598.0,584.3 L599.0,583.4 L600.0,582.5 L601.0,581.6 L602.0,580.9 L603.0,580.1 L604.0,579.4 L605.0,578.7 L606.0,578.1 L607.0,577.5 L608.0,577.0 L609.0,576.5 L610.0,576.0 L611.0,575.6 L612.0,575.2 L613.0,574.9 L614.0,574.6 L615.0,574.3 L616.0,574.1 L617.0,573.9 L618.0,573.8 L619.0,573.7 L620.0,573.6 L621.0,573.6 L622.0,573.6 L623.0,573.6 L624.0,573.6 L625.0,573.7 L626.0,573.8 L627.0,573.9 L628.0,574.0 L629.0,574.2 L630.0,574.4 L631.0,574.6 L632.0,574.8 L633.0,575.0 L634.0,575.2 L635.0,575.4 L636.0,575.6 L637.0,575.9 L638.0,576.1 L639.0,576.3 L640.0,576.5 L641.0,576.7 L642.0,576.9 L643.0,577.1 L644.0,577.3 L645.0,577.4 L646.0,577.5 L647.0,577.6 L648.0,577.7 L649.0,577.8 L650.0,577.8 L651.0,577.8 L652.0,577.7 L653.0,577.7 L654.0,577.5 L655.0,577.4 L656.0,577.2 L657.0,576.9 L658.0,576.7 L659.0,576.3 L660.0,575.9 L661.0,575.5 L662.0,575.0 L663.0,574.5 L664.0,573.9 L665.0,573.2 L666.0,572.5 L667.0,571.8 L668.0,571.0 L669.0,570.1 L670.0,569.1 L671.0,568.2 L672.0,567.1 L673.0,566.0 L674.0,564.8 L675.0,563.6 L676.0,562.3 L677.0,560.9 L678.0,559.5 L679.0,558.0 L680.0,556.5 L681.0,554.9 L682.0,553.3 L683.0,551.6 L684.0,549.8 L685.0,548.0 L686.0,546.2 L687.0,544.2 L688.0,542.3 L689.0,540.3 L690.0,538.3 L691.0,536.2 L692.0,534.0 L693.0,531.9 L694.0,529.7 L695.0,527.5 L696.0,525.2 L697.0,522.9 L698.0,520.6 L699.0,518.3 L700.0,515.9 L701.0,513.6 L702.0,511.2 L703.0,508.8 L704.0,506.4 L705.0,504.0 L706.0,501.6 L707.0,499.3 L708.0,496.9 L709.0,494.5 L710.0,492.2 L711.0,489.9 L712.0,487.6 L713.0,485.3 L714.0,483.0 L715.0,480.8 L716.0,478.7 L717.0,476.5 L718.0,474.4 L719.0,472.4 L720.0,470.4 L721.0,468.5 L722.0,466.6 L723.0,464.8 L724.0,463.1 L725.0,461.5 L726.0,459.9 L727.0,458.4 L728.0,456.9 L729.0,455.6 L730.0,454.3 L731.0,453.1 L732.0,452.0 L733.0,451.1 L734.0,450.2 L735.0,449.4 L736.0,448.7 L737.0,448.1 L738.0,447.6 L739.0,447.2 L740.0,446.9 L741.0,446.7 L742.0,446.6 L743.0,446.7 L744.0,446.8 L745.0,447.0 L746.0,447.4 L747.0,447.9 L748.0,448.4 L749.0,449.1 L750.0,449.9 L751.0,450.8 L752.0,451.8 L753.0,452.9 L754.0,454.1 L755.0,455.4 L756.0,456.8 L757.0,458.2 L758.0,459.8 L759.0,461.5 L760.0,463.2 L761.0,465.1 L762.0,467.0 L763.0,469.0 L764.0,471.0 L765.0,473.2 L766.0,475.4 L767.0,477.7 L768.0,480.0 L769.0,482.4 L770.0,484.8 L771.0,487.3 L772.0,489.9 L773.0,492.4 L774.0,495.1 L775.0,497.7 L776.0,500.4 L777.0,503.1 L778.0,505.8 L779.0,508.6 L780.0,511.3 L781.0,514.1 L782.0,516.9 L783.0,519.7 L784.0,522.4 L785.0,525.2 L786.0,528.0 L787.0,530.8 L788.0,533.5 L789.0,536.2 L790.0,538.9 L791.0,541.6 L792.0,544.3 L793.0,546.9 L794.0,549.6 L795.0,552.1 L796.0,554.7 L797.0,557.2 L798.0,559.7 L799.0,562.1 L800.0,564.5 L801.0,566.9 L802.0,569.2 L803.0,571.5 L804.0,573.7 L805.0,575.9 L806.0,578.1 L807.0,580.2 L808.0,582.3 L809.0,584.3 L810.0,586.3 L811.0,588.3 L812.0,590.2 L813.0,592.1 L814.0,594.0 L815.0,595.8 L816.0,597.6 L817.0,599.4 L818.0,601.2 L819.0,602.9 L820.0,604.6 L821.0,606.3 L822.0,607.9 L823.0,609.6 L824.0,611.2 L825.0,612.8 L826.0,614.4 L827.0,616.0 L828.0,617.6 L829.0,619.2 L830.0,620.8 L831.0,622.4 L832.0,623.9 L833.0,625.5 L834.0,627.1 L835.0,628.7 L836.0,630.2 L837.0,631.8 L838.0,633.4 L839.0,635.0 L840.0,636.6 L841.0,638.2 L842.0,639.9 L843.0,641.5 L844.0,643.1 L845.0,644.8 L846.0,646.4 L847.0,648.0 L848.0,649.7 L849.0,651.3 L850.0,653.0 L851.0,654.7 L852.0,656.3 L853.0,658.0 L854.0,659.6 L855.0,661.3 L856.0,662.9 L857.0,664.5 L858.0,666.1 L859.0,667.7 L860.0,669.3 L861.0,670.9 L862.0,672.5 L863.0,674.0 L864.0,675.6 L865.0,677.1 L866.0,678.6 L867.0,680.0 L868.0,681.5 L869.0,682.9 L870.0,684.3 L871.0,685.6 L872.0,687.0 L873.0,688.3 L874.0,689.5 L875.0,690.8 L876.0,692.0 L877.0,693.2 L878.0,694.4 L879.0,695.7 L880.0,697.0 L881.0,698.3 L882.0,699.6 L883.0,700.8 L884.0,702.1 L885.0,703.3 L886.0,704.4 L887.0,705.6 L888.0,706.6 L889.0,707.7 L890.0,708.6 L891.0,709.6 L892.0,710.4 L893.0,711.2 L894.0,712.0 L895.0,712.6 L896.0,713.3 L897.0,713.9 L898.0,714.4 L899.0,714.9 L900.0,715.3 L901.0,715.7 L902.0,716.1 L903.0,716.4 L904.0,716.7 L905.0,716.9 L906.0,717.1 L907.0,717.3 L908.0,717.5 L909.0,717.6 L910.0,717.7 L911.0,717.8 L912.0,717.9 L913.0,717.9 L914.0,718.0" fill="none" stroke="#17101f" stroke-width="1.9" stroke-linejoin="round" stroke-linecap="round" />
<g fill="#f6f6f9" stroke="#34343f" stroke-width="1.5"><circle cx="47.0" cy="702.7" r="2.45"/><circle cx="53.4" cy="703.3" r="2.45"/><circle cx="59.8" cy="702.3" r="2.45"/><circle cx="66.2" cy="702.9" r="2.45"/><circle cx="72.6" cy="706.2" r="2.45"/><circle cx="79.0" cy="704.5" r="2.45"/><circle cx="85.3" cy="706.9" r="2.45"/><circle cx="91.7" cy="707.1" r="2.45"/><circle cx="98.1" cy="705.5" r="2.45"/><circle cx="104.5" cy="705.6" r="2.45"/><circle cx="110.9" cy="707.2" r="2.45"/><circle cx="117.3" cy="705.9" r="2.45"/><circle cx="123.7" cy="706.0" r="2.45"/><circle cx="130.1" cy="705.7" r="2.45"/><circle cx="136.5" cy="707.1" r="2.45"/><circle cx="142.9" cy="709.1" r="2.45"/><circle cx="149.2" cy="709.6" r="2.45"/><circle cx="155.6" cy="708.5" r="2.45"/><circle cx="162.0" cy="708.4" r="2.45"/><circle cx="168.4" cy="708.8" r="2.45"/><circle cx="174.8" cy="708.8" r="2.45"/><circle cx="181.2" cy="707.3" r="2.45"/><circle cx="187.6" cy="707.8" r="2.45"/><circle cx="194.0" cy="707.9" r="2.45"/><circle cx="200.4" cy="707.7" r="2.45"/><circle cx="206.8" cy="708.3" r="2.45"/><circle cx="213.1" cy="709.0" r="2.45"/><circle cx="219.5" cy="708.8" r="2.45"/><circle cx="225.9" cy="709.5" r="2.45"/><circle cx="232.3" cy="710.2" r="2.45"/><circle cx="238.7" cy="709.1" r="2.45"/><circle cx="245.1" cy="708.3" r="2.45"/><circle cx="251.5" cy="707.0" r="2.45"/><circle cx="257.9" cy="709.3" r="2.45"/><circle cx="264.3" cy="707.1" r="2.45"/><circle cx="270.7" cy="707.9" r="2.45"/><circle cx="277.0" cy="709.7" r="2.45"/><circle cx="283.4" cy="709.3" r="2.45"/><circle cx="289.8" cy="708.5" r="2.45"/><circle cx="296.2" cy="706.9" r="2.45"/><circle cx="302.6" cy="708.2" r="2.45"/><circle cx="309.0" cy="708.7" r="2.45"/><circle cx="315.4" cy="710.2" r="2.45"/><circle cx="321.8" cy="711.7" r="2.45"/><circle cx="328.2" cy="710.7" r="2.45"/><circle cx="334.6" cy="709.4" r="2.45"/><circle cx="340.9" cy="709.0" r="2.45"/><circle cx="347.3" cy="709.9" r="2.45"/><circle cx="353.7" cy="710.1" r="2.45"/><circle cx="360.1" cy="708.9" r="2.45"/><circle cx="366.5" cy="710.7" r="2.45"/><circle cx="372.9" cy="709.8" r="2.45"/><circle cx="379.3" cy="712.0" r="2.45"/><circle cx="385.7" cy="711.8" r="2.45"/><circle cx="392.1" cy="712.6" r="2.45"/><circle cx="398.5" cy="710.4" r="2.45"/><circle cx="404.8" cy="711.4" r="2.45"/><circle cx="411.2" cy="711.0" r="2.45"/><circle cx="417.6" cy="711.0" r="2.45"/><circle cx="424.0" cy="710.9" r="2.45"/><circle cx="430.4" cy="710.3" r="2.45"/><circle cx="436.8" cy="709.8" r="2.45"/><circle cx="443.2" cy="711.8" r="2.45"/><circle cx="449.6" cy="710.8" r="2.45"/><circle cx="456.0" cy="710.9" r="2.45"/><circle cx="462.4" cy="710.9" r="2.45"/><circle cx="468.7" cy="708.5" r="2.45"/><circle cx="475.1" cy="709.5" r="2.45"/><circle cx="481.5" cy="710.2" r="2.45"/><circle cx="487.9" cy="709.6" r="2.45"/><circle cx="494.3" cy="707.4" r="2.45"/><circle cx="500.7" cy="706.5" r="2.45"/><circle cx="507.1" cy="701.8" r="2.45"/><circle cx="513.5" cy="694.4" r="2.45"/><circle cx="519.9" cy="688.8" r="2.45"/><circle cx="526.3" cy="683.2" r="2.45"/><circle cx="532.6" cy="673.9" r="2.45"/><circle cx="539.0" cy="663.4" r="2.45"/><circle cx="545.4" cy="659.7" r="2.45"/><circle cx="551.8" cy="649.6" r="2.45"/><circle cx="558.2" cy="641.3" r="2.45"/><circle cx="564.6" cy="631.0" r="2.45"/><circle cx="571.0" cy="621.9" r="2.45"/><circle cx="577.4" cy="610.7" r="2.45"/><circle cx="583.8" cy="604.8" r="2.45"/><circle cx="590.2" cy="593.3" r="2.45"/><circle cx="596.5" cy="586.8" r="2.45"/><circle cx="602.9" cy="578.7" r="2.45"/><circle cx="609.3" cy="575.9" r="2.45"/><circle cx="615.7" cy="572.2" r="2.45"/><circle cx="622.1" cy="573.7" r="2.45"/><circle cx="628.5" cy="575.5" r="2.45"/><circle cx="634.9" cy="574.5" r="2.45"/><circle cx="641.3" cy="578.2" r="2.45"/><circle cx="647.7" cy="578.7" r="2.45"/><circle cx="654.1" cy="577.3" r="2.45"/><circle cx="660.4" cy="576.5" r="2.45"/><circle cx="666.8" cy="572.6" r="2.45"/><circle cx="673.2" cy="566.6" r="2.45"/><circle cx="679.6" cy="556.9" r="2.45"/><circle cx="686.0" cy="544.4" r="2.45"/><circle cx="692.4" cy="532.0" r="2.45"/><circle cx="698.8" cy="517.1" r="2.45"/><circle cx="705.2" cy="501.7" r="2.45"/><circle cx="711.6" cy="487.4" r="2.45"/><circle cx="718.0" cy="474.8" r="2.45"/><circle cx="724.3" cy="460.1" r="2.45"/><circle cx="730.7" cy="452.0" r="2.45"/><circle cx="737.1" cy="444.9" r="2.45"/><circle cx="743.5" cy="443.9" r="2.45"/><circle cx="749.9" cy="449.2" r="2.45"/><circle cx="756.3" cy="455.7" r="2.45"/><circle cx="762.7" cy="468.8" r="2.45"/><circle cx="769.1" cy="482.0" r="2.45"/><circle cx="775.5" cy="499.9" r="2.45"/><circle cx="781.9" cy="515.3" r="2.45"/><circle cx="788.2" cy="532.3" r="2.45"/><circle cx="794.6" cy="551.0" r="2.45"/><circle cx="801.0" cy="566.4" r="2.45"/><circle cx="807.4" cy="581.6" r="2.45"/><circle cx="813.8" cy="595.3" r="2.45"/><circle cx="820.2" cy="605.9" r="2.45"/><circle cx="826.6" cy="617.1" r="2.45"/><circle cx="833.0" cy="627.4" r="2.45"/><circle cx="839.4" cy="637.4" r="2.45"/><circle cx="845.8" cy="645.5" r="2.45"/><circle cx="852.1" cy="657.1" r="2.45"/><circle cx="858.5" cy="666.8" r="2.45"/><circle cx="864.9" cy="678.5" r="2.45"/><circle cx="871.3" cy="686.2" r="2.45"/><circle cx="877.7" cy="693.7" r="2.45"/><circle cx="884.1" cy="703.6" r="2.45"/><circle cx="890.5" cy="710.7" r="2.45"/><circle cx="896.9" cy="713.7" r="2.45"/><circle cx="903.3" cy="716.4" r="2.45"/><circle cx="909.7" cy="717.7" r="2.45"/><circle cx="916.0" cy="717.1" r="2.45"/><circle cx="922.4" cy="719.1" r="2.45"/><circle cx="928.8" cy="718.1" r="2.45"/><circle cx="935.2" cy="718.2" r="2.45"/><circle cx="941.6" cy="719.4" r="2.45"/><circle cx="948.0" cy="718.7" r="2.45"/><circle cx="954.4" cy="719.4" r="2.45"/><circle cx="960.8" cy="717.2" r="2.45"/><circle cx="967.2" cy="718.4" r="2.45"/><circle cx="973.6" cy="718.7" r="2.45"/><circle cx="979.9" cy="722.4" r="2.45"/><circle cx="986.3" cy="720.8" r="2.45"/><circle cx="992.7" cy="722.7" r="2.45"/><circle cx="999.1" cy="722.2" r="2.45"/><circle cx="1005.5" cy="722.9" r="2.45"/><circle cx="1011.9" cy="722.4" r="2.45"/><circle cx="1018.3" cy="724.2" r="2.45"/><circle cx="1024.7" cy="721.5" r="2.45"/><circle cx="1031.1" cy="721.1" r="2.45"/><circle cx="1037.5" cy="721.6" r="2.45"/><circle cx="1043.8" cy="722.1" r="2.45"/><circle cx="1050.2" cy="724.3" r="2.45"/><circle cx="1056.6" cy="724.5" r="2.45"/><circle cx="1063.0" cy="723.4" r="2.45"/><circle cx="1069.4" cy="723.4" r="2.45"/></g>
<path d="M45.6,755.7 H1070.9" stroke="#111" stroke-width="3.4" fill="none"/>
<path d="M47.0,754.2 v11.0 M110.9,754.2 v18.5 M174.8,754.2 v11.0 M238.7,754.2 v18.5 M302.6,754.2 v11.0 M366.5,754.2 v18.5 M430.4,754.2 v11.0 M494.3,754.2 v18.5 M558.2,754.2 v11.0 M622.1,754.2 v18.5 M686.0,754.2 v11.0 M749.9,754.2 v18.5 M813.8,754.2 v11.0 M877.7,754.2 v18.5 M941.6,754.2 v11.0 M1005.5,754.2 v18.5 M1069.4,754.2 v11.0" stroke="#111" stroke-width="3.3" fill="none"/>
<g font-family="'Liberation Sans', Arial, Helvetica, sans-serif" font-size="41" fill="#111" stroke="#111" stroke-width="1.1" text-anchor="middle">
<text x="108.5" y="816" textLength="64" lengthAdjust="spacingAndGlyphs">540</text>
<text x="236.3" y="816" textLength="64" lengthAdjust="spacingAndGlyphs">538</text>
<text x="364.1" y="816" textLength="64" lengthAdjust="spacingAndGlyphs">536</text>
<text x="491.9" y="816" textLength="64" lengthAdjust="spacingAndGlyphs">534</text>
<text x="619.7" y="816" textLength="64" lengthAdjust="spacingAndGlyphs">532</text>
<text x="747.5" y="816" textLength="64" lengthAdjust="spacingAndGlyphs">530</text>
<text x="875.3" y="816" textLength="64" lengthAdjust="spacingAndGlyphs">528</text>
<text x="1003.1" y="816" textLength="64" lengthAdjust="spacingAndGlyphs">526</text>
</g>
<path d="M215.3,946 V1703 M411.8,946 V1703 M539.9,946 V1703 M593.6,946 V1703 M791.0,946 V1703 M917.0,946 V1703" stroke="#f5a58f" stroke-width="5" fill="none" opacity="0.5"/><path d="M215.3,946 V1703 M411.8,946 V1703 M539.9,946 V1703 M593.6,946 V1703 M791.0,946 V1703 M917.0,946 V1703" stroke="#f5a58f" stroke-width="3" fill="none" opacity="0.75"/><path d="M215.3,946 V1703 M411.8,946 V1703 M539.9,946 V1703 M593.6,946 V1703 M791.0,946 V1703 M917.0,946 V1703" stroke="#c03a2b" stroke-width="1.9" fill="none" stroke-dasharray="5.2 2"/>
<path d="M492.7,946 V1703 M582.5,946 V1703 M866.3,946 V1703 M941.7,946 V1703" stroke="#b6aeee" stroke-width="5" fill="none" opacity="0.5"/><path d="M492.7,946 V1703 M582.5,946 V1703 M866.3,946 V1703 M941.7,946 V1703" stroke="#b6aeee" stroke-width="3" fill="none" opacity="0.75"/><path d="M492.7,946 V1703 M582.5,946 V1703 M866.3,946 V1703 M941.7,946 V1703" stroke="#2b2b80" stroke-width="1.9" fill="none" stroke-dasharray="5.2 2"/>
<path d="M160.0,1186.6 L161.0,1186.2 L162.0,1185.8 L163.0,1185.4 L164.0,1184.9 L165.0,1184.4 L166.0,1183.8 L167.0,1183.1 L168.0,1182.4 L169.0,1181.5 L170.0,1180.6 L171.0,1179.5 L172.0,1178.3 L173.0,1177.0 L174.0,1175.5 L175.0,1173.8 L176.0,1172.0 L177.0,1170.0 L178.0,1167.8 L179.0,1165.4 L180.0,1162.8 L181.0,1160.0 L182.0,1157.0 L183.0,1153.7 L184.0,1150.3 L185.0,1146.5 L186.0,1142.6 L187.0,1138.4 L188.0,1134.0 L189.0,1129.4 L190.0,1124.5 L191.0,1119.5 L192.0,1114.3 L193.0,1108.9 L194.0,1103.4 L195.0,1097.7 L196.0,1092.0 L197.0,1086.2 L198.0,1080.3 L199.0,1074.5 L200.0,1068.6 L201.0,1062.9 L202.0,1057.2 L203.0,1051.8 L204.0,1046.5 L205.0,1041.4 L206.0,1036.6 L207.0,1032.2 L208.0,1028.2 L209.0,1024.5 L210.0,1021.3 L211.0,1018.6 L212.0,1016.4 L213.0,1014.8 L214.0,1013.7 L215.0,1013.3 L216.0,1013.4 L217.0,1014.1 L218.0,1015.4 L219.0,1017.3 L220.0,1019.7 L221.0,1022.6 L222.0,1026.1 L223.0,1029.9 L224.0,1034.2 L225.0,1038.9 L226.0,1043.9 L227.0,1049.2 L228.0,1054.7 L229.0,1060.4 L230.0,1066.3 L231.0,1072.3 L232.0,1078.4 L233.0,1084.4 L234.0,1090.5 L235.0,1096.6 L236.0,1102.6 L237.0,1108.4 L238.0,1114.2 L239.0,1119.8 L240.0,1125.3 L241.0,1130.5 L242.0,1135.6 L243.0,1140.5 L244.0,1145.1 L245.0,1149.5 L246.0,1153.7 L247.0,1157.7 L248.0,1161.4 L249.0,1164.9 L250.0,1168.1 L251.0,1171.2 L252.0,1174.0 L253.0,1176.6 L254.0,1179.1 L255.0,1181.3 L256.0,1183.4 L257.0,1185.3 L258.0,1187.0 L259.0,1188.6 L260.0,1190.0 L261.0,1191.3 L262.0,1192.5 L263.0,1193.6 L264.0,1194.6 L265.0,1195.5 L266.0,1196.3 L267.0,1197.1 L268.0,1197.8 L269.0,1198.5 L270.0,1199.2 L271.0,1199.8 L272.0,1200.4 L273.0,1200.9 L274.0,1201.4 L275.0,1201.9 L276.0,1202.4 L277.0,1202.8 L278.0,1203.2 L279.0,1203.6 L280.0,1204.0 L281.0,1204.4 L282.0,1204.7 L283.0,1205.0 L284.0,1205.4 L285.0,1205.7 L286.0,1206.0 L287.0,1206.3 L288.0,1206.6 L289.0,1206.8 L290.0,1207.1 L291.0,1207.3 L292.0,1207.6 L293.0,1207.8 L294.0,1208.0 L295.0,1208.3 L296.0,1208.5 L297.0,1208.7 L298.0,1208.9 L299.0,1209.0" fill="none" stroke="#e0331f" stroke-width="3.8" stroke-linejoin="round" stroke-linecap="round" />
<path d="M206.2,1196.7 L207.2,1196.8 L208.2,1196.9 L209.2,1197.0 L210.2,1197.1 L211.2,1197.2 L212.2,1197.4 L213.2,1197.5 L214.2,1197.6 L215.2,1197.7 L216.2,1197.8 L217.2,1198.0 L218.2,1198.1 L219.2,1198.2 L220.2,1198.3 L221.2,1198.4 L222.2,1198.5 L223.2,1198.7 L224.2,1198.8 L225.2,1198.9 L226.2,1199.0 L227.2,1199.1 L228.2,1199.2 L229.2,1199.4 L230.2,1199.5 L231.2,1199.6 L232.2,1199.7 L233.2,1199.8 L234.2,1199.9 L235.2,1200.0 L236.2,1200.2 L237.2,1200.3 L238.2,1200.4 L239.2,1200.5 L240.2,1200.6 L241.2,1200.7 L242.2,1200.8 L243.2,1201.0 L244.2,1201.1 L245.2,1201.2 L246.2,1201.3 L247.2,1201.4 L248.2,1201.5 L249.2,1201.6 L250.2,1201.7 L251.2,1201.9 L252.2,1202.0 L253.2,1202.1 L254.2,1202.2 L255.2,1202.3 L256.2,1202.4 L257.2,1202.5 L258.2,1202.6 L259.2,1202.7 L260.2,1202.8 L261.2,1202.9 L262.2,1203.1 L263.2,1203.2 L264.2,1203.3 L265.2,1203.4 L266.2,1203.5 L267.2,1203.6 L268.2,1203.7 L269.2,1203.8 L270.2,1203.8 L271.2,1203.9 L272.2,1204.0 L273.2,1204.1 L274.2,1204.2 L275.2,1204.3 L276.2,1204.4 L277.2,1204.4 L278.2,1204.5 L279.2,1204.6 L280.2,1204.7 L281.2,1204.7 L282.2,1204.8 L283.2,1204.8 L284.2,1204.9 L285.2,1204.9 L286.2,1205.0 L287.2,1205.0 L288.2,1205.0 L289.2,1205.1 L290.2,1205.1 L291.2,1205.1 L292.2,1205.1 L293.2,1205.1 L294.2,1205.1 L295.2,1205.1 L296.2,1205.1 L297.2,1205.0 L298.2,1205.0 L299.2,1204.9 L300.2,1204.9 L301.2,1204.8 L302.2,1204.7 L303.2,1204.6 L304.2,1204.5 L305.2,1204.4 L306.2,1204.2 L307.2,1204.1 L308.2,1203.9 L309.2,1203.8 L310.2,1203.6 L311.2,1203.4 L312.2,1203.2 L313.2,1202.9 L314.2,1202.7 L315.2,1202.4 L316.2,1202.2 L317.2,1201.9 L318.2,1201.6 L319.2,1201.2 L320.2,1200.9 L321.2,1200.5 L322.2,1200.1 L323.2,1199.7 L324.2,1199.3 L325.2,1198.9 L326.2,1198.4 L327.2,1198.0 L328.2,1197.5 L329.2,1197.0 L330.2,1196.4 L331.2,1195.9 L332.2,1195.3 L333.2,1194.7 L334.2,1194.1 L335.2,1193.5 L336.2,1192.9 L337.2,1192.2 L338.2,1191.5 L339.2,1190.8 L340.2,1190.1 L341.2,1189.4 L342.2,1188.6 L343.2,1187.9 L344.2,1187.1 L345.2,1186.3 L346.2,1185.5 L347.2,1184.7 L348.2,1183.8 L349.2,1183.0 L350.2,1182.1 L351.2,1181.3 L352.2,1180.4 L353.2,1179.5 L354.2,1178.6 L355.2,1177.7 L356.2,1176.8 L357.2,1175.9 L358.2,1175.0 L359.2,1174.1 L360.2,1173.2 L361.2,1172.2 L362.2,1171.3 L363.2,1170.4 L364.2,1169.5 L365.2,1168.6 L366.2,1167.7 L367.2,1166.8 L368.2,1165.9 L369.2,1165.1 L370.2,1164.2 L371.2,1163.4 L372.2,1162.5 L373.2,1161.7 L374.2,1160.9 L375.2,1160.1 L376.2,1159.4 L377.2,1158.6 L378.2,1157.9 L379.2,1157.2 L380.2,1156.6 L381.2,1155.9 L382.2,1155.3 L383.2,1154.7 L384.2,1154.2 L385.2,1153.7 L386.2,1153.2 L387.2,1152.7 L388.2,1152.3 L389.2,1151.9 L390.2,1151.6 L391.2,1151.3 L392.2,1151.0 L393.2,1150.8 L394.2,1150.6 L395.2,1150.4 L396.2,1150.3 L397.2,1150.3 L398.2,1150.2 L399.2,1150.3 L400.2,1150.3 L401.2,1150.4 L402.2,1150.6 L403.2,1150.8 L404.2,1151.0 L405.2,1151.3 L406.2,1151.6 L407.2,1152.0 L408.2,1152.4 L409.2,1152.9 L410.2,1153.4 L411.2,1153.9 L412.2,1154.5 L413.2,1155.1 L414.2,1155.8 L415.2,1156.5 L416.2,1157.3 L417.2,1158.1 L418.2,1158.9 L419.2,1159.8 L420.2,1160.7 L421.2,1161.6 L422.2,1162.6 L423.2,1163.6 L424.2,1164.6 L425.2,1165.7 L426.2,1166.8 L427.2,1168.0 L428.2,1169.1 L429.2,1170.3 L430.2,1171.5 L431.2,1172.8 L432.2,1174.0 L433.2,1175.3 L434.2,1176.6 L435.2,1177.9 L436.2,1179.2 L437.2,1180.6 L438.2,1181.9 L439.2,1183.3 L440.2,1184.7 L441.2,1186.1 L442.2,1187.5 L443.2,1188.9 L444.2,1190.3 L445.2,1191.7 L446.2,1193.2 L447.2,1194.6 L448.2,1196.0 L449.2,1197.4 L450.2,1198.8 L451.2,1200.3 L452.2,1201.7 L453.2,1203.1 L454.2,1204.5 L455.2,1205.9 L456.2,1207.3 L457.2,1208.6 L458.2,1210.0 L459.2,1211.4 L460.2,1212.7 L461.2,1214.0 L462.2,1215.3 L463.2,1216.6 L464.2,1217.9 L465.2,1219.2 L466.2,1220.4 L467.2,1221.7 L468.2,1222.9 L469.2,1224.1 L470.2,1225.3 L471.2,1226.5 L472.2,1227.6 L473.2,1228.7 L474.2,1229.8 L475.2,1230.9 L476.2,1232.0 L477.2,1233.1 L478.2,1234.1 L479.2,1235.1 L480.2,1236.1 L481.2,1237.1 L482.2,1238.0 L483.2,1239.0 L484.2,1239.9 L485.2,1240.8 L486.2,1241.7 L487.2,1242.5 L488.2,1243.4 L489.2,1244.2 L490.2,1245.0 L491.2,1245.8 L492.2,1246.6 L493.2,1247.3 L494.2,1248.1 L495.2,1248.8 L496.2,1249.5 L497.2,1250.2 L498.2,1250.9 L499.2,1251.5 L500.2,1252.2 L501.2,1252.8 L502.2,1253.4 L503.2,1254.0 L504.2,1254.6 L505.2,1255.2 L506.2,1255.8 L507.2,1256.3 L508.2,1256.8 L509.2,1257.4 L510.2,1257.9 L511.2,1258.4 L512.2,1258.9 L513.2,1259.4 L514.2,1259.9 L515.2,1260.4 L516.2,1260.8 L517.2,1261.3 L518.2,1261.7 L519.2,1262.2 L520.2,1262.6 L521.2,1263.0 L522.2,1263.5 L523.2,1263.9 L524.2,1264.3 L525.2,1264.7 L526.2,1265.1 L527.2,1265.5 L528.2,1265.9 L529.2,1266.3 L530.2,1266.7 L531.2,1267.1 L532.2,1267.5 L533.2,1267.9 L534.2,1268.3 L535.2,1268.6 L536.2,1269.0 L537.2,1269.4 L538.2,1269.8 L539.2,1270.2 L540.2,1270.5 L541.2,1270.9 L542.2,1271.3 L543.2,1271.7 L544.2,1272.0 L545.2,1272.4 L546.2,1272.8 L547.2,1273.2 L548.2,1273.5 L549.2,1273.9 L550.2,1274.3 L551.2,1274.7 L552.2,1275.1 L553.2,1275.4 L554.2,1275.8 L555.2,1276.2 L556.2,1276.6 L557.2,1277.0 L558.2,1277.3 L559.2,1277.7 L560.2,1278.1 L561.2,1278.5 L562.2,1278.9 L563.2,1279.3 L564.2,1279.7 L565.2,1280.1 L566.2,1280.4 L567.2,1280.8 L568.2,1281.2 L569.2,1281.6 L570.2,1282.0 L571.2,1282.4 L572.2,1282.8 L573.2,1283.2 L574.2,1283.6 L575.2,1284.0 L576.2,1284.4 L577.2,1284.8 L578.2,1285.1 L579.2,1285.5 L580.2,1285.9 L581.2,1286.3 L582.2,1286.7 L583.2,1287.1 L584.2,1287.5 L585.2,1287.9 L586.2,1288.3 L587.2,1288.7 L588.2,1289.1 L589.2,1289.5 L590.2,1289.9 L591.2,1290.3 L592.2,1290.7 L593.2,1291.1 L594.2,1291.5 L595.2,1291.9 L596.2,1292.3 L597.2,1292.7 L598.2,1293.1 L599.2,1293.6 L600.2,1294.0 L601.2,1294.4" fill="none" stroke="#e0331f" stroke-width="3.8" stroke-linejoin="round" stroke-linecap="round" />
<path d="M398.6,1230.6 L399.6,1230.9 L400.6,1231.1 L401.6,1231.4 L402.6,1231.6 L403.6,1231.9 L404.6,1232.1 L405.6,1232.4 L406.6,1232.6 L407.6,1232.9 L408.6,1233.1 L409.6,1233.4 L410.6,1233.6 L411.6,1233.9 L412.6,1234.1 L413.6,1234.4 L414.6,1234.6 L415.6,1234.9 L416.6,1235.1 L417.6,1235.4 L418.6,1235.6 L419.6,1235.9 L420.6,1236.1 L421.6,1236.4 L422.6,1236.6 L423.6,1236.8 L424.6,1237.1 L425.6,1237.3 L426.6,1237.5 L427.6,1237.7 L428.6,1237.9 L429.6,1238.1 L430.6,1238.3 L431.6,1238.5 L432.6,1238.7 L433.6,1238.8 L434.6,1239.0 L435.6,1239.1 L436.6,1239.2 L437.6,1239.3 L438.6,1239.3 L439.6,1239.4 L440.6,1239.4 L441.6,1239.3 L442.6,1239.3 L443.6,1239.2 L444.6,1239.1 L445.6,1238.9 L446.6,1238.7 L447.6,1238.4 L448.6,1238.1 L449.6,1237.8 L450.6,1237.4 L451.6,1236.9 L452.6,1236.4 L453.6,1235.8 L454.6,1235.2 L455.6,1234.5 L456.6,1233.7 L457.6,1232.9 L458.6,1232.0 L459.6,1231.1 L460.6,1230.1 L461.6,1229.0 L462.6,1227.9 L463.6,1226.7 L464.6,1225.4 L465.6,1224.1 L466.6,1222.8 L467.6,1221.4 L468.6,1220.0 L469.6,1218.5 L470.6,1217.0 L471.6,1215.6 L472.6,1214.0 L473.6,1212.5 L474.6,1211.0 L475.6,1209.6 L476.6,1208.1 L477.6,1206.7 L478.6,1205.3 L479.6,1204.0 L480.6,1202.7 L481.6,1201.6 L482.6,1200.5 L483.6,1199.4 L484.6,1198.5 L485.6,1197.7 L486.6,1197.0 L487.6,1196.5 L488.6,1196.0 L489.6,1195.7 L490.6,1195.6 L491.6,1195.5 L492.6,1195.6 L493.6,1195.9 L494.6,1196.3 L495.6,1196.8 L496.6,1197.5 L497.6,1198.3 L498.6,1199.3 L499.6,1200.4 L500.6,1201.6 L501.6,1202.9 L502.6,1204.4 L503.6,1205.9 L504.6,1207.5 L505.6,1209.3 L506.6,1211.1 L507.6,1212.9 L508.6,1214.9 L509.6,1216.9 L510.6,1218.9 L511.6,1220.9 L512.6,1223.0 L513.6,1225.1 L514.6,1227.2 L515.6,1229.3 L516.6,1231.4 L517.6,1233.4 L518.6,1235.4 L519.6,1237.4 L520.6,1239.4 L521.6,1241.3 L522.6,1243.2 L523.6,1245.0 L524.6,1246.8 L525.6,1248.5 L526.6,1250.1 L527.6,1251.7 L528.6,1253.2 L529.6,1254.6 L530.6,1256.0 L531.6,1257.4 L532.6,1258.6 L533.6,1259.9 L534.6,1261.0 L535.6,1262.1 L536.6,1263.1 L537.6,1264.1 L538.6,1265.1 L539.6,1266.0 L540.6,1266.8 L541.6,1267.6 L542.6,1268.4 L543.6,1269.1 L544.6,1269.8 L545.6,1270.5 L546.6,1271.1 L547.6,1271.7 L548.6,1272.3 L549.6,1272.9 L550.6,1273.4 L551.6,1273.9 L552.6,1274.5 L553.6,1274.9 L554.6,1275.4 L555.6,1275.9 L556.6,1276.4 L557.6,1276.8 L558.6,1277.2 L559.6,1277.7 L560.6,1278.1 L561.6,1278.5 L562.6,1278.9 L563.6,1279.3 L564.6,1279.8 L565.6,1280.2 L566.6,1280.6 L567.6,1281.0 L568.6,1281.4 L569.6,1281.8 L570.6,1282.2 L571.6,1282.6 L572.6,1283.0 L573.6,1283.4 L574.6,1283.7 L575.6,1284.1 L576.6,1284.5 L577.6,1284.9 L578.6,1285.3 L579.6,1285.7 L580.6,1286.1 L581.6,1286.5 L582.6,1286.9 L583.6,1287.3 L584.6,1287.7 L585.6,1288.1 L586.6,1288.5 L587.6,1288.9" fill="none" stroke="#2a12c8" stroke-width="3.8" stroke-linejoin="round" stroke-linecap="round" />
<path d="M475.6,1251.6 L476.6,1251.9 L477.6,1252.1 L478.6,1252.3 L479.6,1252.5 L480.6,1252.6 L481.6,1252.7 L482.6,1252.7 L483.6,1252.7 L484.6,1252.7 L485.6,1252.6 L486.6,1252.5 L487.6,1252.3 L488.6,1252.1 L489.6,1251.9 L490.6,1251.6 L491.6,1251.3 L492.6,1250.9 L493.6,1250.5 L494.6,1250.1 L495.6,1249.6 L496.6,1249.1 L497.6,1248.6 L498.6,1248.0 L499.6,1247.4 L500.6,1246.8 L501.6,1246.1 L502.6,1245.3 L503.6,1244.4 L504.6,1243.3 L505.6,1242.1 L506.6,1240.6 L507.6,1239.0 L508.6,1237.1 L509.6,1235.0 L510.6,1232.6 L511.6,1229.9 L512.6,1226.8 L513.6,1223.5 L514.6,1219.8 L515.6,1215.8 L516.6,1211.4 L517.6,1206.7 L518.6,1201.5 L519.6,1196.1 L520.6,1190.2 L521.6,1184.1 L522.6,1177.6 L523.6,1170.9 L524.6,1163.9 L525.6,1156.7 L526.6,1149.4 L527.6,1142.0 L528.6,1134.7 L529.6,1127.4 L530.6,1120.3 L531.6,1113.5 L532.6,1107.0 L533.6,1101.1 L534.6,1095.8 L535.6,1091.2 L536.6,1087.5 L537.6,1084.8 L538.6,1083.0 L539.6,1082.4 L540.6,1082.7 L541.6,1084.0 L542.6,1086.0 L543.6,1088.7 L544.6,1092.1 L545.6,1096.2 L546.6,1100.9 L547.6,1106.1 L548.6,1111.8 L549.6,1117.8 L550.6,1124.1 L551.6,1130.6 L552.6,1137.4 L553.6,1144.2 L554.6,1151.1 L555.6,1158.0 L556.6,1164.8 L557.6,1171.6 L558.6,1178.2 L559.6,1184.7 L560.6,1191.1 L561.6,1197.2 L562.6,1203.1 L563.6,1208.8 L564.6,1214.2 L565.6,1219.4 L566.6,1224.3 L567.6,1228.9 L568.6,1233.3 L569.6,1237.4 L570.6,1241.3 L571.6,1244.9 L572.6,1248.3 L573.6,1251.4 L574.6,1254.3 L575.6,1257.0 L576.6,1259.6 L577.6,1261.9 L578.6,1264.0 L579.6,1266.0 L580.6,1267.9 L581.6,1269.6 L582.6,1271.2 L583.6,1272.6 L584.6,1274.0 L585.6,1275.3 L586.6,1276.4 L587.6,1277.5 L588.6,1278.6 L589.6,1279.5 L590.6,1280.5 L591.6,1281.4 L592.6,1282.3 L593.6,1283.3 L594.6,1284.2 L595.6,1285.2 L596.6,1286.2 L597.6,1287.2 L598.6,1288.1 L599.6,1289.1 L600.6,1290.0 L601.6,1290.9 L602.6,1291.8 L603.6,1292.7 L604.6,1293.5 L605.6,1294.4 L606.6,1295.1 L607.6,1295.9 L608.6,1296.6 L609.6,1297.3 L610.6,1297.9 L611.6,1298.5 L612.6,1299.0 L613.6,1299.6 L614.6,1300.0 L615.6,1300.4" fill="none" stroke="#e0331f" stroke-width="3.8" stroke-linejoin="round" stroke-linecap="round" />
<path d="M551.5,1275.0 L552.5,1275.4 L553.5,1275.7 L554.5,1276.1 L555.5,1276.5 L556.5,1276.8 L557.5,1277.2 L558.5,1277.5 L559.5,1277.8 L560.5,1278.1 L561.5,1278.4 L562.5,1278.6 L563.5,1278.7 L564.5,1278.7 L565.5,1278.5 L566.5,1278.1 L567.5,1277.5 L568.5,1276.6 L569.5,1275.3 L570.5,1273.5 L571.5,1271.4 L572.5,1268.8 L573.5,1265.7 L574.5,1262.2 L575.5,1258.4 L576.5,1254.5 L577.5,1250.4 L578.5,1246.6 L579.5,1243.1 L580.5,1240.1 L581.5,1237.9 L582.5,1236.6 L583.5,1236.3 L584.5,1237.0 L585.5,1238.7 L586.5,1241.4 L587.5,1244.8 L588.5,1248.9 L589.5,1253.4 L590.5,1258.2 L591.5,1263.0 L592.5,1267.7 L593.5,1272.1 L594.5,1276.1 L595.5,1279.7 L596.5,1282.8 L597.5,1285.5 L598.5,1287.8 L599.5,1289.7 L600.5,1291.3 L601.5,1292.5 L602.5,1293.6 L603.5,1294.5 L604.5,1295.2 L605.5,1295.9 L606.5,1296.5 L607.5,1297.0 L608.5,1297.5 L609.5,1297.9 L610.5,1298.4 L611.5,1298.8 L612.5,1299.2 L613.5,1299.6 L614.5,1300.0 L615.5,1300.4" fill="none" stroke="#2a12c8" stroke-width="3.8" stroke-linejoin="round" stroke-linecap="round" />
<path d="M517.0,1263.8 L518.0,1264.0 L519.0,1264.3 L520.0,1264.5 L521.0,1264.7 L522.0,1264.9 L523.0,1265.1 L524.0,1265.2 L525.0,1265.3 L526.0,1265.4 L527.0,1265.4 L528.0,1265.4 L529.0,1265.4 L530.0,1265.4 L531.0,1265.3 L532.0,1265.2 L533.0,1265.1 L534.0,1265.0 L535.0,1264.8 L536.0,1264.6 L537.0,1264.3 L538.0,1264.0 L539.0,1263.7 L540.0,1263.3 L541.0,1262.9 L542.0,1262.4 L543.0,1261.9 L544.0,1261.4 L545.0,1260.8 L546.0,1260.2 L547.0,1259.5 L548.0,1258.8 L549.0,1257.9 L550.0,1256.8 L551.0,1255.7 L552.0,1254.3 L553.0,1252.7 L554.0,1250.9 L555.0,1248.9 L556.0,1246.7 L557.0,1244.2 L558.0,1241.3 L559.0,1238.2 L560.0,1234.8 L561.0,1231.0 L562.0,1226.9 L563.0,1222.5 L564.0,1217.6 L565.0,1212.4 L566.0,1206.8 L567.0,1200.8 L568.0,1194.5 L569.0,1187.8 L570.0,1180.7 L571.0,1173.3 L572.0,1165.6 L573.0,1157.7 L574.0,1149.5 L575.0,1141.0 L576.0,1132.5 L577.0,1123.8 L578.0,1115.1 L579.0,1106.4 L580.0,1097.8 L581.0,1089.4 L582.0,1081.2 L583.0,1073.4 L584.0,1066.0 L585.0,1059.1 L586.0,1052.8 L587.0,1047.1 L588.0,1042.3 L589.0,1038.3 L590.0,1035.2 L591.0,1033.1 L592.0,1032.0 L593.0,1032.0 L594.0,1033.0 L595.0,1034.9 L596.0,1037.7 L597.0,1041.4 L598.0,1045.9 L599.0,1051.1 L600.0,1057.1 L601.0,1063.7 L602.0,1070.9 L603.0,1078.5 L604.0,1086.6 L605.0,1095.0 L606.0,1103.6 L607.0,1112.4 L608.0,1121.3 L609.0,1130.3 L610.0,1139.3 L611.0,1148.3 L612.0,1157.1 L613.0,1165.8 L614.0,1174.3 L615.0,1182.6 L616.0,1190.6 L617.0,1198.4 L618.0,1205.8 L619.0,1212.9 L620.0,1219.7 L621.0,1226.2 L622.0,1232.3 L623.0,1238.1 L624.0,1243.5 L625.0,1248.6 L626.0,1253.4 L627.0,1257.8 L628.0,1261.9 L629.0,1265.8 L630.0,1269.3 L631.0,1272.6 L632.0,1275.6 L633.0,1278.4 L634.0,1281.0 L635.0,1283.3 L636.0,1285.4 L637.0,1287.4 L638.0,1289.2 L639.0,1290.8 L640.0,1292.3 L641.0,1293.7 L642.0,1295.0 L643.0,1296.1 L644.0,1297.2 L645.0,1298.3 L646.0,1299.3 L647.0,1300.3 L648.0,1301.2 L649.0,1302.2 L650.0,1303.1 L651.0,1304.0 L652.0,1304.8 L653.0,1305.6 L654.0,1306.4 L655.0,1307.2 L656.0,1307.9 L657.0,1308.6 L658.0,1309.3 L659.0,1309.9 L660.0,1310.6 L661.0,1311.2 L662.0,1311.7 L663.0,1312.3 L664.0,1312.8 L665.0,1313.2 L666.0,1313.7 L667.0,1314.1 L668.0,1314.5 L669.0,1314.9 L670.0,1315.2 L671.0,1315.5 L672.0,1315.8 L673.0,1316.0" fill="none" stroke="#e0331f" stroke-width="3.8" stroke-linejoin="round" stroke-linecap="round" />
<path d="M596.8,1292.5 L597.8,1293.0 L598.8,1293.4 L599.8,1293.8 L600.8,1294.2 L601.8,1294.7 L602.8,1295.1 L603.8,1295.5 L604.8,1296.0 L605.8,1296.4 L606.8,1296.8 L607.8,1297.3 L608.8,1297.7 L609.8,1298.1 L610.8,1298.5 L611.8,1298.9 L612.8,1299.3 L613.8,1299.7 L614.8,1300.1 L615.8,1300.5 L616.8,1300.9 L617.8,1301.2 L618.8,1301.6 L619.8,1301.9 L620.8,1302.2 L621.8,1302.6 L622.8,1302.9 L623.8,1303.2 L624.8,1303.5 L625.8,1303.8 L626.8,1304.1 L627.8,1304.4 L628.8,1304.7 L629.8,1305.0 L630.8,1305.3 L631.8,1305.6 L632.8,1305.8 L633.8,1306.1 L634.8,1306.4 L635.8,1306.6 L636.8,1306.9 L637.8,1307.2 L638.8,1307.4 L639.8,1307.7 L640.8,1307.9 L641.8,1308.2 L642.8,1308.4 L643.8,1308.7 L644.8,1308.9 L645.8,1309.1 L646.8,1309.4 L647.8,1309.6 L648.8,1309.8 L649.8,1310.0 L650.8,1310.2 L651.8,1310.4 L652.8,1310.6 L653.8,1310.8 L654.8,1311.0 L655.8,1311.2 L656.8,1311.4 L657.8,1311.6 L658.8,1311.8 L659.8,1311.9 L660.8,1312.1 L661.8,1312.3 L662.8,1312.4 L663.8,1312.6 L664.8,1312.7 L665.8,1312.8 L666.8,1313.0 L667.8,1313.1 L668.8,1313.2 L669.8,1313.3 L670.8,1313.3 L671.8,1313.4 L672.8,1313.5 L673.8,1313.5 L674.8,1313.6 L675.8,1313.6 L676.8,1313.6 L677.8,1313.6 L678.8,1313.6 L679.8,1313.6 L680.8,1313.5 L681.8,1313.5 L682.8,1313.4 L683.8,1313.3 L684.8,1313.2 L685.8,1313.1 L686.8,1313.0 L687.8,1312.9 L688.8,1312.7 L689.8,1312.5 L690.8,1312.3 L691.8,1312.1 L692.8,1311.8 L693.8,1311.6 L694.8,1311.3 L695.8,1311.0 L696.8,1310.6 L697.8,1310.3 L698.8,1309.9 L699.8,1309.5 L700.8,1309.1 L701.8,1308.6 L702.8,1308.2 L703.8,1307.7 L704.8,1307.1 L705.8,1306.6 L706.8,1306.0 L707.8,1305.4 L708.8,1304.8 L709.8,1304.1 L710.8,1303.4 L711.8,1302.7 L712.8,1301.9 L713.8,1301.1 L714.8,1300.3 L715.8,1299.4 L716.8,1298.6 L717.8,1297.6 L718.8,1296.7 L719.8,1295.7 L720.8,1294.7 L721.8,1293.7 L722.8,1292.6 L723.8,1291.5 L724.8,1290.4 L725.8,1289.2 L726.8,1288.1 L727.8,1286.8 L728.8,1285.6 L729.8,1284.3 L730.8,1283.0 L731.8,1281.7 L732.8,1280.4 L733.8,1279.0 L734.8,1277.6 L735.8,1276.2 L736.8,1274.8 L737.8,1273.3 L738.8,1271.8 L739.8,1270.4 L740.8,1268.9 L741.8,1267.4 L742.8,1265.8 L743.8,1264.3 L744.8,1262.8 L745.8,1261.2 L746.8,1259.7 L747.8,1258.1 L748.8,1256.5 L749.8,1255.0 L750.8,1253.4 L751.8,1251.9 L752.8,1250.4 L753.8,1248.8 L754.8,1247.3 L755.8,1245.8 L756.8,1244.3 L757.8,1242.9 L758.8,1241.4 L759.8,1240.0 L760.8,1238.6 L761.8,1237.3 L762.8,1235.9 L763.8,1234.6 L764.8,1233.4 L765.8,1232.1 L766.8,1230.9 L767.8,1229.8 L768.8,1228.7 L769.8,1227.6 L770.8,1226.6 L771.8,1225.7 L772.8,1224.7 L773.8,1223.9 L774.8,1223.1 L775.8,1222.3 L776.8,1221.7 L777.8,1221.0 L778.8,1220.5 L779.8,1220.0 L780.8,1219.5 L781.8,1219.1 L782.8,1218.8 L783.8,1218.6 L784.8,1218.4 L785.8,1218.3 L786.8,1218.3 L787.8,1218.3 L788.8,1218.4 L789.8,1218.5 L790.8,1218.8 L791.8,1219.1 L792.8,1219.5 L793.8,1219.9 L794.8,1220.4 L795.8,1221.0 L796.8,1221.6 L797.8,1222.3 L798.8,1223.1 L799.8,1223.9 L800.8,1224.9 L801.8,1225.8 L802.8,1226.8 L803.8,1227.9 L804.8,1229.1 L805.8,1230.3 L806.8,1231.5 L807.8,1232.8 L808.8,1234.2 L809.8,1235.6 L810.8,1237.1 L811.8,1238.6 L812.8,1240.1 L813.8,1241.7 L814.8,1243.3 L815.8,1245.0 L816.8,1246.7 L817.8,1248.4 L818.8,1250.2 L819.8,1252.0 L820.8,1253.8 L821.8,1255.7 L822.8,1257.6 L823.8,1259.5 L824.8,1261.4 L825.8,1263.3 L826.8,1265.2 L827.8,1267.2 L828.8,1269.1 L829.8,1271.1 L830.8,1273.1 L831.8,1275.1 L832.8,1277.0 L833.8,1279.0 L834.8,1281.0 L835.8,1283.0 L836.8,1284.9 L837.8,1286.9 L838.8,1288.8 L839.8,1290.8 L840.8,1292.7 L841.8,1294.6 L842.8,1296.5 L843.8,1298.3 L844.8,1300.2 L845.8,1302.0 L846.8,1303.8 L847.8,1305.6 L848.8,1307.4 L849.8,1309.1 L850.8,1310.9 L851.8,1312.6 L852.8,1314.2 L853.8,1315.9 L854.8,1317.5 L855.8,1319.1 L856.8,1320.6 L857.8,1322.2 L858.8,1323.7 L859.8,1325.2 L860.8,1326.6 L861.8,1328.0 L862.8,1329.4 L863.8,1330.8 L864.8,1332.1 L865.8,1333.4 L866.8,1334.7 L867.8,1335.9 L868.8,1337.1 L869.8,1338.3 L870.8,1339.5 L871.8,1340.6 L872.8,1341.7 L873.8,1342.8 L874.8,1343.9 L875.8,1344.9 L876.8,1345.9 L877.8,1346.9 L878.8,1347.8 L879.8,1348.8 L880.8,1349.7 L881.8,1350.6 L882.8,1351.5 L883.8,1352.3 L884.8,1353.1 L885.8,1353.9 L886.8,1354.7 L887.8,1355.5 L888.8,1356.2 L889.8,1356.9 L890.8,1357.7 L891.8,1358.3 L892.8,1359.0 L893.8,1359.7 L894.8,1360.3 L895.8,1360.9 L896.8,1361.6 L897.8,1362.2 L898.8,1362.7 L899.8,1363.3 L900.8,1363.9 L901.8,1364.4 L902.8,1365.0 L903.8,1365.5 L904.8,1366.0 L905.8,1366.5 L906.8,1367.0 L907.8,1367.5 L908.8,1368.0 L909.8,1368.4 L910.8,1368.9 L911.8,1369.3 L912.8,1369.8 L913.8,1370.2 L914.8,1370.6 L915.8,1371.1 L916.8,1371.5 L917.8,1371.9 L918.8,1372.3 L919.8,1372.7 L920.8,1373.1 L921.8,1373.5 L922.8,1373.9 L923.8,1374.3 L924.8,1374.7 L925.8,1375.0 L926.8,1375.4 L927.8,1375.8 L928.8,1376.2 L929.8,1376.6 L930.8,1376.9 L931.8,1377.3 L932.8,1377.7 L933.8,1378.0 L934.8,1378.4 L935.8,1378.8 L936.8,1379.1 L937.8,1379.5 L938.8,1379.9 L939.8,1380.2 L940.8,1380.6 L941.8,1380.9 L942.8,1381.3 L943.8,1381.6 L944.8,1382.0 L945.8,1382.4 L946.8,1382.7 L947.8,1383.1 L948.8,1383.4 L949.8,1383.8 L950.8,1384.1 L951.8,1384.5 L952.8,1384.8 L953.8,1385.2 L954.8,1385.5 L955.8,1385.9 L956.8,1386.2 L957.8,1386.6 L958.8,1386.9 L959.8,1387.3 L960.8,1387.7 L961.8,1388.0 L962.8,1388.4 L963.8,1388.7 L964.8,1389.1 L965.8,1389.4 L966.8,1389.8 L967.8,1390.1 L968.8,1390.5 L969.8,1390.8 L970.8,1391.2 L971.8,1391.6 L972.8,1391.9" fill="none" stroke="#e0331f" stroke-width="3.8" stroke-linejoin="round" stroke-linecap="round" />
<path d="M783.3,1339.7 L784.3,1340.0 L785.3,1340.2 L786.3,1340.4 L787.3,1340.6 L788.3,1340.8 L789.3,1341.0 L790.3,1341.2 L791.3,1341.4 L792.3,1341.7 L793.3,1341.9 L794.3,1342.1 L795.3,1342.3 L796.3,1342.5 L797.3,1342.7 L798.3,1342.9 L799.3,1343.1 L800.3,1343.2 L801.3,1343.4 L802.3,1343.6 L803.3,1343.8 L804.3,1343.9 L805.3,1344.1 L806.3,1344.2 L807.3,1344.4 L808.3,1344.5 L809.3,1344.6 L810.3,1344.7 L811.3,1344.7 L812.3,1344.8 L813.3,1344.8 L814.3,1344.8 L815.3,1344.8 L816.3,1344.7 L817.3,1344.6 L818.3,1344.4 L819.3,1344.2 L820.3,1344.0 L821.3,1343.7 L822.3,1343.3 L823.3,1342.8 L824.3,1342.3 L825.3,1341.7 L826.3,1341.0 L827.3,1340.3 L828.3,1339.4 L829.3,1338.4 L830.3,1337.3 L831.3,1336.1 L832.3,1334.8 L833.3,1333.4 L834.3,1331.8 L835.3,1330.1 L836.3,1328.3 L837.3,1326.4 L838.3,1324.4 L839.3,1322.2 L840.3,1319.9 L841.3,1317.5 L842.3,1315.0 L843.3,1312.4 L844.3,1309.8 L845.3,1307.0 L846.3,1304.2 L847.3,1301.4 L848.3,1298.5 L849.3,1295.6 L850.3,1292.8 L851.3,1289.9 L852.3,1287.1 L853.3,1284.4 L854.3,1281.8 L855.3,1279.3 L856.3,1276.9 L857.3,1274.7 L858.3,1272.7 L859.3,1270.8 L860.3,1269.2 L861.3,1267.8 L862.3,1266.6 L863.3,1265.7 L864.3,1265.1 L865.3,1264.7 L866.3,1264.6 L867.3,1264.8 L868.3,1265.3 L869.3,1266.1 L870.3,1267.1 L871.3,1268.4 L872.3,1270.0 L873.3,1271.8 L874.3,1273.8 L875.3,1276.1 L876.3,1278.6 L877.3,1281.2 L878.3,1284.1 L879.3,1287.0 L880.3,1290.1 L881.3,1293.3 L882.3,1296.6 L883.3,1299.9 L884.3,1303.3 L885.3,1306.7 L886.3,1310.1 L887.3,1313.5 L888.3,1316.8 L889.3,1320.1 L890.3,1323.3 L891.3,1326.5 L892.3,1329.5 L893.3,1332.5 L894.3,1335.4 L895.3,1338.1 L896.3,1340.7 L897.3,1343.2 L898.3,1345.6 L899.3,1347.9 L900.3,1350.0 L901.3,1352.0 L902.3,1353.9 L903.3,1355.7 L904.3,1357.4 L905.3,1358.9 L906.3,1360.3 L907.3,1361.7 L908.3,1362.9 L909.3,1364.1 L910.3,1365.2 L911.3,1366.2 L912.3,1367.1 L913.3,1368.0 L914.3,1368.8 L915.3,1369.5 L916.3,1370.2 L917.3,1370.9 L918.3,1371.5 L919.3,1372.1 L920.3,1372.6 L921.3,1373.1 L922.3,1373.6 L923.3,1374.1 L924.3,1374.5 L925.3,1375.0 L926.3,1375.4 L927.3,1375.8 L928.3,1376.2 L929.3,1376.6 L930.3,1377.0 L931.3,1377.4 L932.3,1377.7 L933.3,1378.1 L934.3,1378.5 L935.3,1378.8 L936.3,1379.2 L937.3,1379.5 L938.3,1379.9 L939.3,1380.2 L940.3,1380.6 L941.3,1380.9 L942.3,1381.3 L943.3,1381.6 L944.3,1381.9 L945.3,1382.3 L946.3,1382.6 L947.3,1383.0 L948.3,1383.3 L949.3,1383.7 L950.3,1384.0" fill="none" stroke="#2a12c8" stroke-width="3.8" stroke-linejoin="round" stroke-linecap="round" />
<path d="M848.1,1353.3 L849.1,1353.5 L850.1,1353.7 L851.1,1353.8 L852.1,1354.0 L853.1,1354.1 L854.1,1354.1 L855.1,1354.2 L856.1,1354.2 L857.1,1354.2 L858.1,1354.2 L859.1,1354.2 L860.1,1354.1 L861.1,1354.0 L862.1,1353.8 L863.1,1353.6 L864.1,1353.4 L865.1,1353.2 L866.1,1352.9 L867.1,1352.6 L868.1,1352.2 L869.1,1351.7 L870.1,1351.3 L871.1,1350.7 L872.1,1350.1 L873.1,1349.4 L874.1,1348.7 L875.1,1347.9 L876.1,1346.9 L877.1,1345.8 L878.1,1344.6 L879.1,1343.1 L880.1,1341.3 L881.1,1339.3 L882.1,1337.1 L883.1,1334.5 L884.1,1331.5 L885.1,1328.3 L886.1,1324.6 L887.1,1320.5 L888.1,1316.0 L889.1,1311.0 L890.1,1305.6 L891.1,1299.7 L892.1,1293.4 L893.1,1286.6 L894.1,1279.3 L895.1,1271.6 L896.1,1263.4 L897.1,1254.9 L898.1,1246.0 L899.1,1236.8 L900.1,1227.4 L901.1,1217.8 L902.1,1208.1 L903.1,1198.4 L904.1,1188.8 L905.1,1179.3 L906.1,1170.1 L907.1,1161.4 L908.1,1153.1 L909.1,1145.5 L910.1,1138.6 L911.1,1132.5 L912.1,1127.5 L913.1,1123.5 L914.1,1120.6 L915.1,1119.0 L916.1,1118.5 L917.1,1119.2 L918.1,1120.7 L919.1,1123.1 L920.1,1126.3 L921.1,1130.2 L922.1,1134.9 L923.1,1140.2 L924.1,1146.1 L925.1,1152.6 L926.1,1159.6 L927.1,1166.9 L928.1,1174.7 L929.1,1182.7 L930.1,1191.0 L931.1,1199.4 L932.1,1207.9 L933.1,1216.5 L934.1,1225.1 L935.1,1233.6 L936.1,1242.1 L937.1,1250.4 L938.1,1258.5 L939.1,1266.5 L940.1,1274.2 L941.1,1281.6 L942.1,1288.8 L943.1,1295.7 L944.1,1302.3 L945.1,1308.6 L946.1,1314.6 L947.1,1320.2 L948.1,1325.6 L949.1,1330.6 L950.1,1335.3 L951.1,1339.7 L952.1,1343.8 L953.1,1347.6 L954.1,1351.2 L955.1,1354.5 L956.1,1357.5 L957.1,1360.3 L958.1,1362.9 L959.1,1365.3 L960.1,1367.5 L961.1,1369.5 L962.1,1371.4 L963.1,1373.1 L964.1,1374.7 L965.1,1376.1 L966.1,1377.5 L967.1,1378.7 L968.1,1379.8 L969.1,1380.9 L970.1,1381.9 L971.1,1382.8 L972.1,1383.7" fill="none" stroke="#e0331f" stroke-width="3.8" stroke-linejoin="round" stroke-linecap="round" />
<path d="M881.1,1361.6 L882.1,1361.9 L883.1,1362.2 L884.1,1362.5 L885.1,1362.8 L886.1,1363.1 L887.1,1363.4 L888.1,1363.7 L889.1,1364.0 L890.1,1364.3 L891.1,1364.6 L892.1,1364.9 L893.1,1365.2 L894.1,1365.5 L895.1,1365.7 L896.1,1366.0 L897.1,1366.3 L898.1,1366.5 L899.1,1366.7 L900.1,1366.9 L901.1,1367.1 L902.1,1367.3 L903.1,1367.4 L904.1,1367.4 L905.1,1367.4 L906.1,1367.3 L907.1,1367.2 L908.1,1367.0 L909.1,1366.7 L910.1,1366.2 L911.1,1365.7 L912.1,1365.1 L913.1,1364.3 L914.1,1363.4 L915.1,1362.4 L916.1,1361.2 L917.1,1359.9 L918.1,1358.6 L919.1,1357.1 L920.1,1355.5 L921.1,1353.9 L922.1,1352.2 L923.1,1350.6 L924.1,1348.9 L925.1,1347.3 L926.1,1345.8 L927.1,1344.4 L928.1,1343.2 L929.1,1342.1 L930.1,1341.3 L931.1,1340.7 L932.1,1340.3 L933.1,1340.3 L934.1,1340.5 L935.1,1341.0 L936.1,1341.8 L937.1,1342.9 L938.1,1344.2 L939.1,1345.8 L940.1,1347.5 L941.1,1349.5 L942.1,1351.6 L943.1,1353.8 L944.1,1356.1 L945.1,1358.4 L946.1,1360.7 L947.1,1363.1 L948.1,1365.4 L949.1,1367.6 L950.1,1369.7 L951.1,1371.7 L952.1,1373.6 L953.1,1375.4 L954.1,1377.1 L955.1,1378.6 L956.1,1380.0 L957.1,1381.3 L958.1,1382.5 L959.1,1383.6 L960.1,1384.5 L961.1,1385.4 L962.1,1386.2 L963.1,1386.9 L964.1,1387.6 L965.1,1388.2 L966.1,1388.8 L967.1,1389.3 L968.1,1389.8 L969.1,1390.3 L970.1,1390.7 L971.1,1391.1 L972.1,1391.5" fill="none" stroke="#2a12c8" stroke-width="3.8" stroke-linejoin="round" stroke-linecap="round" />
<path d="M160.0,1191.4 L161.0,1191.5 L162.0,1191.6 L163.0,1191.7 L164.0,1191.8 L165.0,1191.9 L166.0,1192.1 L167.0,1192.2 L168.0,1192.3 L169.0,1192.4 L170.0,1192.5 L171.0,1192.6 L172.0,1192.7 L173.0,1192.8 L174.0,1192.9 L175.0,1193.1 L176.0,1193.2 L177.0,1193.3 L178.0,1193.4 L179.0,1193.5 L180.0,1193.6 L181.0,1193.7 L182.0,1193.9 L183.0,1194.0 L184.0,1194.1 L185.0,1194.2 L186.0,1194.3 L187.0,1194.4 L188.0,1194.5 L189.0,1194.7 L190.0,1194.8 L191.0,1194.9 L192.0,1195.0 L193.0,1195.1 L194.0,1195.2 L195.0,1195.3 L196.0,1195.5 L197.0,1195.6 L198.0,1195.7 L199.0,1195.8 L200.0,1195.9 L201.0,1196.0 L202.0,1196.2 L203.0,1196.3 L204.0,1196.4 L205.0,1196.5 L206.0,1196.6 L207.0,1196.7 L208.0,1196.9 L209.0,1197.0 L210.0,1197.1 L211.0,1197.2 L212.0,1197.3 L213.0,1197.5 L214.0,1197.6 L215.0,1197.7 L216.0,1197.8 L217.0,1197.9 L218.0,1198.1 L219.0,1198.2 L220.0,1198.3 L221.0,1198.4 L222.0,1198.5 L223.0,1198.6 L224.0,1198.8 L225.0,1198.9 L226.0,1199.0 L227.0,1199.1 L228.0,1199.2 L229.0,1199.4 L230.0,1199.5 L231.0,1199.6 L232.0,1199.7 L233.0,1199.8 L234.0,1199.9 L235.0,1200.1 L236.0,1200.2 L237.0,1200.3 L238.0,1200.4 L239.0,1200.5 L240.0,1200.6 L241.0,1200.8 L242.0,1200.9 L243.0,1201.0 L244.0,1201.1 L245.0,1201.2 L246.0,1201.4 L247.0,1201.5 L248.0,1201.6 L249.0,1201.7 L250.0,1201.9 L251.0,1202.0 L252.0,1202.1 L253.0,1202.2 L254.0,1202.4 L255.0,1202.5 L256.0,1202.6 L257.0,1202.7 L258.0,1202.9 L259.0,1203.0 L260.0,1203.1 L261.0,1203.2 L262.0,1203.4 L263.0,1203.5 L264.0,1203.6 L265.0,1203.8 L266.0,1203.9 L267.0,1204.0 L268.0,1204.2 L269.0,1204.3 L270.0,1204.5 L271.0,1204.6 L272.0,1204.7 L273.0,1204.9 L274.0,1205.0 L275.0,1205.2 L276.0,1205.3 L277.0,1205.5 L278.0,1205.6 L279.0,1205.8 L280.0,1205.9 L281.0,1206.1 L282.0,1206.2 L283.0,1206.4 L284.0,1206.5 L285.0,1206.7 L286.0,1206.8 L287.0,1207.0 L288.0,1207.2 L289.0,1207.3 L290.0,1207.5 L291.0,1207.7 L292.0,1207.8 L293.0,1208.0 L294.0,1208.2 L295.0,1208.3 L296.0,1208.5 L297.0,1208.7 L298.0,1208.9 L299.0,1209.0 L300.0,1209.2 L301.0,1209.4 L302.0,1209.6 L303.0,1209.8 L304.0,1209.9 L305.0,1210.1 L306.0,1210.3 L307.0,1210.5 L308.0,1210.7 L309.0,1210.9 L310.0,1211.0 L311.0,1211.2 L312.0,1211.4 L313.0,1211.6 L314.0,1211.8 L315.0,1212.0 L316.0,1212.2 L317.0,1212.4 L318.0,1212.6 L319.0,1212.8 L320.0,1213.0 L321.0,1213.2 L322.0,1213.4 L323.0,1213.6 L324.0,1213.8 L325.0,1214.0 L326.0,1214.2 L327.0,1214.4 L328.0,1214.6 L329.0,1214.8 L330.0,1215.0 L331.0,1215.2 L332.0,1215.4 L333.0,1215.6 L334.0,1215.8 L335.0,1216.0 L336.0,1216.2 L337.0,1216.4 L338.0,1216.6 L339.0,1216.8 L340.0,1217.0 L341.0,1217.2 L342.0,1217.4 L343.0,1217.6 L344.0,1217.8 L345.0,1218.0 L346.0,1218.3 L347.0,1218.5 L348.0,1218.7 L349.0,1218.9 L350.0,1219.1 L351.0,1219.3 L352.0,1219.6 L353.0,1219.8 L354.0,1220.0 L355.0,1220.2 L356.0,1220.4 L357.0,1220.7 L358.0,1220.9 L359.0,1221.1 L360.0,1221.3 L361.0,1221.6 L362.0,1221.8 L363.0,1222.0 L364.0,1222.2 L365.0,1222.5 L366.0,1222.7 L367.0,1222.9 L368.0,1223.2 L369.0,1223.4 L370.0,1223.6 L371.0,1223.9 L372.0,1224.1 L373.0,1224.3 L374.0,1224.6 L375.0,1224.8 L376.0,1225.1 L377.0,1225.3 L378.0,1225.5 L379.0,1225.8 L380.0,1226.0 L381.0,1226.3 L382.0,1226.5 L383.0,1226.7 L384.0,1227.0 L385.0,1227.2 L386.0,1227.5 L387.0,1227.7 L388.0,1228.0 L389.0,1228.2 L390.0,1228.5 L391.0,1228.7 L392.0,1229.0 L393.0,1229.2 L394.0,1229.4 L395.0,1229.7 L396.0,1229.9 L397.0,1230.2 L398.0,1230.4 L399.0,1230.7 L400.0,1231.0 L401.0,1231.2 L402.0,1231.5 L403.0,1231.7 L404.0,1232.0 L405.0,1232.2 L406.0,1232.5 L407.0,1232.7 L408.0,1233.0 L409.0,1233.2 L410.0,1233.5 L411.0,1233.7 L412.0,1234.0 L413.0,1234.3 L414.0,1234.5 L415.0,1234.8 L416.0,1235.0 L417.0,1235.3 L418.0,1235.6 L419.0,1235.8 L420.0,1236.1 L421.0,1236.3 L422.0,1236.6 L423.0,1236.9 L424.0,1237.1 L425.0,1237.4 L426.0,1237.7 L427.0,1237.9 L428.0,1238.2 L429.0,1238.5 L430.0,1238.7 L431.0,1239.0 L432.0,1239.3 L433.0,1239.6 L434.0,1239.8 L435.0,1240.1 L436.0,1240.4 L437.0,1240.6 L438.0,1240.9 L439.0,1241.2 L440.0,1241.5 L441.0,1241.8 L442.0,1242.0 L443.0,1242.3 L444.0,1242.6 L445.0,1242.9 L446.0,1243.1 L447.0,1243.4 L448.0,1243.7 L449.0,1244.0 L450.0,1244.3 L451.0,1244.6 L452.0,1244.8 L453.0,1245.1 L454.0,1245.4 L455.0,1245.7 L456.0,1246.0 L457.0,1246.3 L458.0,1246.5 L459.0,1246.8 L460.0,1247.1 L461.0,1247.4 L462.0,1247.7 L463.0,1248.0 L464.0,1248.3 L465.0,1248.6 L466.0,1248.8 L467.0,1249.1 L468.0,1249.4 L469.0,1249.7 L470.0,1250.0 L471.0,1250.3 L472.0,1250.6 L473.0,1250.9 L474.0,1251.2 L475.0,1251.4 L476.0,1251.7 L477.0,1252.0 L478.0,1252.3 L479.0,1252.6 L480.0,1252.9 L481.0,1253.2 L482.0,1253.5 L483.0,1253.8 L484.0,1254.1 L485.0,1254.4 L486.0,1254.7 L487.0,1254.9 L488.0,1255.2 L489.0,1255.5 L490.0,1255.8 L491.0,1256.1 L492.0,1256.4 L493.0,1256.7 L494.0,1257.0 L495.0,1257.3 L496.0,1257.6 L497.0,1257.9 L498.0,1258.2 L499.0,1258.5 L500.0,1258.8 L501.0,1259.0 L502.0,1259.3 L503.0,1259.6 L504.0,1259.9 L505.0,1260.2 L506.0,1260.5 L507.0,1260.8 L508.0,1261.1 L509.0,1261.4 L510.0,1261.7 L511.0,1262.0 L512.0,1262.3 L513.0,1262.6 L514.0,1262.9 L515.0,1263.2 L516.0,1263.5 L517.0,1263.8 L518.0,1264.1 L519.0,1264.4 L520.0,1264.7 L521.0,1265.0 L522.0,1265.3 L523.0,1265.6 L524.0,1265.9 L525.0,1266.2 L526.0,1266.5 L527.0,1266.8 L528.0,1267.1 L529.0,1267.4 L530.0,1267.7 L531.0,1268.1 L532.0,1268.4 L533.0,1268.7 L534.0,1269.0 L535.0,1269.3 L536.0,1269.7 L537.0,1270.0 L538.0,1270.3 L539.0,1270.7 L540.0,1271.0 L541.0,1271.3 L542.0,1271.7 L543.0,1272.0 L544.0,1272.4 L545.0,1272.7 L546.0,1273.1 L547.0,1273.4 L548.0,1273.8 L549.0,1274.1 L550.0,1274.5 L551.0,1274.8 L552.0,1275.2 L553.0,1275.6 L554.0,1275.9 L555.0,1276.3 L556.0,1276.7 L557.0,1277.0 L558.0,1277.4 L559.0,1277.8 L560.0,1278.2 L561.0,1278.5 L562.0,1278.9 L563.0,1279.3 L564.0,1279.7 L565.0,1280.0 L566.0,1280.4 L567.0,1280.8 L568.0,1281.2 L569.0,1281.6 L570.0,1282.0 L571.0,1282.4 L572.0,1282.7 L573.0,1283.1 L574.0,1283.5 L575.0,1283.9 L576.0,1284.3 L577.0,1284.7 L578.0,1285.1 L579.0,1285.5 L580.0,1285.9 L581.0,1286.3 L582.0,1286.7 L583.0,1287.1 L584.0,1287.5 L585.0,1287.8 L586.0,1288.2 L587.0,1288.6 L588.0,1289.0 L589.0,1289.4 L590.0,1289.8 L591.0,1290.2 L592.0,1290.6 L593.0,1291.0 L594.0,1291.4 L595.0,1291.8 L596.0,1292.2 L597.0,1292.6 L598.0,1293.0 L599.0,1293.5 L600.0,1293.9 L601.0,1294.3 L602.0,1294.8 L603.0,1295.2 L604.0,1295.6 L605.0,1296.1 L606.0,1296.5 L607.0,1296.9 L608.0,1297.3 L609.0,1297.8 L610.0,1298.2 L611.0,1298.6 L612.0,1299.0 L613.0,1299.4 L614.0,1299.8 L615.0,1300.2 L616.0,1300.6 L617.0,1301.0 L618.0,1301.3 L619.0,1301.7 L620.0,1302.0 L621.0,1302.3 L622.0,1302.7 L623.0,1303.0 L624.0,1303.3 L625.0,1303.6 L626.0,1303.9 L627.0,1304.2 L628.0,1304.5 L629.0,1304.8 L630.0,1305.1 L631.0,1305.4 L632.0,1305.7 L633.0,1306.0 L634.0,1306.3 L635.0,1306.6 L636.0,1306.8 L637.0,1307.1 L638.0,1307.4 L639.0,1307.7 L640.0,1307.9 L641.0,1308.2 L642.0,1308.5 L643.0,1308.7 L644.0,1309.0 L645.0,1309.3 L646.0,1309.5 L647.0,1309.8 L648.0,1310.0 L649.0,1310.3 L650.0,1310.5 L651.0,1310.8 L652.0,1311.0 L653.0,1311.3 L654.0,1311.5 L655.0,1311.8 L656.0,1312.0 L657.0,1312.3 L658.0,1312.5 L659.0,1312.8 L660.0,1313.0 L661.0,1313.2 L662.0,1313.5 L663.0,1313.7 L664.0,1314.0 L665.0,1314.2 L666.0,1314.4 L667.0,1314.7 L668.0,1314.9 L669.0,1315.1 L670.0,1315.3 L671.0,1315.6 L672.0,1315.8 L673.0,1316.0 L674.0,1316.2 L675.0,1316.5 L676.0,1316.7 L677.0,1316.9 L678.0,1317.1 L679.0,1317.3 L680.0,1317.5 L681.0,1317.8 L682.0,1318.0 L683.0,1318.2 L684.0,1318.4 L685.0,1318.6 L686.0,1318.8 L687.0,1319.0 L688.0,1319.2 L689.0,1319.5 L690.0,1319.7 L691.0,1319.9 L692.0,1320.1 L693.0,1320.3 L694.0,1320.5 L695.0,1320.7 L696.0,1320.9 L697.0,1321.1 L698.0,1321.4 L699.0,1321.6 L700.0,1321.8 L701.0,1322.0 L702.0,1322.2 L703.0,1322.4 L704.0,1322.6 L705.0,1322.8 L706.0,1323.1 L707.0,1323.3 L708.0,1323.5 L709.0,1323.7 L710.0,1323.9 L711.0,1324.2 L712.0,1324.4 L713.0,1324.6 L714.0,1324.8 L715.0,1325.0 L716.0,1325.2 L717.0,1325.5 L718.0,1325.7 L719.0,1325.9 L720.0,1326.1 L721.0,1326.3 L722.0,1326.5 L723.0,1326.8 L724.0,1327.0 L725.0,1327.2 L726.0,1327.4 L727.0,1327.6 L728.0,1327.8 L729.0,1328.0 L730.0,1328.3 L731.0,1328.5 L732.0,1328.7 L733.0,1328.9 L734.0,1329.1 L735.0,1329.3 L736.0,1329.6 L737.0,1329.8 L738.0,1330.0 L739.0,1330.2 L740.0,1330.4 L741.0,1330.6 L742.0,1330.9 L743.0,1331.1 L744.0,1331.3 L745.0,1331.5 L746.0,1331.7 L747.0,1331.9 L748.0,1332.1 L749.0,1332.4 L750.0,1332.6 L751.0,1332.8 L752.0,1333.0 L753.0,1333.2 L754.0,1333.4 L755.0,1333.7 L756.0,1333.9 L757.0,1334.1 L758.0,1334.3 L759.0,1334.5 L760.0,1334.7 L761.0,1334.9 L762.0,1335.2 L763.0,1335.4 L764.0,1335.6 L765.0,1335.8 L766.0,1336.0 L767.0,1336.2 L768.0,1336.5 L769.0,1336.7 L770.0,1336.9 L771.0,1337.1 L772.0,1337.3 L773.0,1337.5 L774.0,1337.7 L775.0,1338.0 L776.0,1338.2 L777.0,1338.4 L778.0,1338.6 L779.0,1338.8 L780.0,1339.0 L781.0,1339.2 L782.0,1339.5 L783.0,1339.7 L784.0,1339.9 L785.0,1340.1 L786.0,1340.3 L787.0,1340.5 L788.0,1340.8 L789.0,1341.0 L790.0,1341.2 L791.0,1341.4 L792.0,1341.6 L793.0,1341.8 L794.0,1342.0 L795.0,1342.3 L796.0,1342.5 L797.0,1342.7 L798.0,1342.9 L799.0,1343.1 L800.0,1343.3 L801.0,1343.5 L802.0,1343.7 L803.0,1343.9 L804.0,1344.1 L805.0,1344.3 L806.0,1344.5 L807.0,1344.7 L808.0,1344.9 L809.0,1345.1 L810.0,1345.3 L811.0,1345.5 L812.0,1345.8 L813.0,1346.0 L814.0,1346.2 L815.0,1346.4 L816.0,1346.6 L817.0,1346.8 L818.0,1347.0 L819.0,1347.2 L820.0,1347.4 L821.0,1347.6 L822.0,1347.8 L823.0,1348.0 L824.0,1348.2 L825.0,1348.4 L826.0,1348.6 L827.0,1348.8 L828.0,1349.0 L829.0,1349.2 L830.0,1349.4 L831.0,1349.6 L832.0,1349.8 L833.0,1350.0 L834.0,1350.2 L835.0,1350.4 L836.0,1350.6 L837.0,1350.9 L838.0,1351.1 L839.0,1351.3 L840.0,1351.5 L841.0,1351.7 L842.0,1351.9 L843.0,1352.1 L844.0,1352.4 L845.0,1352.6 L846.0,1352.8 L847.0,1353.0 L848.0,1353.2 L849.0,1353.5 L850.0,1353.7 L851.0,1353.9 L852.0,1354.1 L853.0,1354.4 L854.0,1354.6 L855.0,1354.8 L856.0,1355.1 L857.0,1355.3 L858.0,1355.5 L859.0,1355.8 L860.0,1356.0 L861.0,1356.3 L862.0,1356.5 L863.0,1356.7 L864.0,1357.0 L865.0,1357.2 L866.0,1357.5 L867.0,1357.8 L868.0,1358.0 L869.0,1358.3 L870.0,1358.5 L871.0,1358.8 L872.0,1359.1 L873.0,1359.3 L874.0,1359.6 L875.0,1359.9 L876.0,1360.2 L877.0,1360.5 L878.0,1360.7 L879.0,1361.0 L880.0,1361.3 L881.0,1361.6 L882.0,1361.9 L883.0,1362.2 L884.0,1362.5 L885.0,1362.8 L886.0,1363.1 L887.0,1363.4 L888.0,1363.7 L889.0,1364.0 L890.0,1364.3 L891.0,1364.6 L892.0,1364.9 L893.0,1365.2 L894.0,1365.5 L895.0,1365.8 L896.0,1366.1 L897.0,1366.5 L898.0,1366.8 L899.0,1367.1 L900.0,1367.4 L901.0,1367.7 L902.0,1368.0 L903.0,1368.4 L904.0,1368.7 L905.0,1369.0 L906.0,1369.3 L907.0,1369.6 L908.0,1369.9 L909.0,1370.3 L910.0,1370.6 L911.0,1370.9 L912.0,1371.2 L913.0,1371.5 L914.0,1371.9 L915.0,1372.2 L916.0,1372.5 L917.0,1372.8 L918.0,1373.1 L919.0,1373.5 L920.0,1373.8 L921.0,1374.1 L922.0,1374.4 L923.0,1374.8 L924.0,1375.1 L925.0,1375.4 L926.0,1375.8 L927.0,1376.1 L928.0,1376.4 L929.0,1376.8 L930.0,1377.1 L931.0,1377.4 L932.0,1377.8 L933.0,1378.1 L934.0,1378.5 L935.0,1378.8 L936.0,1379.1 L937.0,1379.5 L938.0,1379.8 L939.0,1380.2 L940.0,1380.5 L941.0,1380.8 L942.0,1381.2 L943.0,1381.5 L944.0,1381.9 L945.0,1382.2 L946.0,1382.6 L947.0,1382.9 L948.0,1383.2 L949.0,1383.6 L950.0,1383.9 L951.0,1384.3 L952.0,1384.6 L953.0,1385.0 L954.0,1385.3 L955.0,1385.7 L956.0,1386.0 L957.0,1386.4 L958.0,1386.7 L959.0,1387.1 L960.0,1387.4 L961.0,1387.8 L962.0,1388.1 L963.0,1388.5 L964.0,1388.8 L965.0,1389.2 L966.0,1389.5 L967.0,1389.9 L968.0,1390.2 L969.0,1390.6 L970.0,1390.9 L971.0,1391.3 L972.0,1391.6 L973.0,1392.0" fill="none" stroke="#5c0f1e" stroke-width="3.2" stroke-linejoin="round" stroke-linecap="round" />
<path d="M160.0,1186.6 L161.0,1186.2 L162.0,1185.8 L163.0,1185.4 L164.0,1184.9 L165.0,1184.4 L166.0,1183.8 L167.0,1183.1 L168.0,1182.4 L169.0,1181.5 L170.0,1180.6 L171.0,1179.5 L172.0,1178.3 L173.0,1177.0 L174.0,1175.5 L175.0,1173.8 L176.0,1172.0 L177.0,1170.0 L178.0,1167.8 L179.0,1165.4 L180.0,1162.8 L181.0,1160.0 L182.0,1157.0 L183.0,1153.7 L184.0,1150.3 L185.0,1146.5 L186.0,1142.6 L187.0,1138.4 L188.0,1134.0 L189.0,1129.4 L190.0,1124.5 L191.0,1119.5 L192.0,1114.3 L193.0,1108.9 L194.0,1103.4 L195.0,1097.7 L196.0,1092.0 L197.0,1086.2 L198.0,1080.3 L199.0,1074.5 L200.0,1068.6 L201.0,1062.9 L202.0,1057.2 L203.0,1051.8 L204.0,1046.5 L205.0,1041.4 L206.0,1036.6 L207.0,1032.2 L208.0,1028.2 L209.0,1024.5 L210.0,1021.3 L211.0,1018.6 L212.0,1016.4 L213.0,1014.8 L214.0,1013.7 L215.0,1013.3 L216.0,1013.4 L217.0,1014.1 L218.0,1015.4 L219.0,1017.3 L220.0,1019.7 L221.0,1022.6 L222.0,1026.0 L223.0,1029.9 L224.0,1034.2 L225.0,1038.9 L226.0,1043.9 L227.0,1049.2 L228.0,1054.7 L229.0,1060.4 L230.0,1066.3 L231.0,1072.3 L232.0,1078.3 L233.0,1084.4 L234.0,1090.5 L235.0,1096.5 L236.0,1102.5 L237.0,1108.4 L238.0,1114.2 L239.0,1119.8 L240.0,1125.2 L241.0,1130.5 L242.0,1135.5 L243.0,1140.4 L244.0,1145.0 L245.0,1149.4 L246.0,1153.6 L247.0,1157.6 L248.0,1161.3 L249.0,1164.8 L250.0,1168.0 L251.0,1171.0 L252.0,1173.9 L253.0,1176.5 L254.0,1178.9 L255.0,1181.1 L256.0,1183.1 L257.0,1185.0 L258.0,1186.7 L259.0,1188.3 L260.0,1189.7 L261.0,1191.0 L262.0,1192.2 L263.0,1193.3 L264.0,1194.2 L265.0,1195.1 L266.0,1195.9 L267.0,1196.6 L268.0,1197.3 L269.0,1197.9 L270.0,1198.5 L271.0,1199.1 L272.0,1199.6 L273.0,1200.1 L274.0,1200.6 L275.0,1201.0 L276.0,1201.4 L277.0,1201.8 L278.0,1202.1 L279.0,1202.4 L280.0,1202.7 L281.0,1203.0 L282.0,1203.3 L283.0,1203.5 L284.0,1203.7 L285.0,1203.9 L286.0,1204.1 L287.0,1204.3 L288.0,1204.4 L289.0,1204.6 L290.0,1204.7 L291.0,1204.8 L292.0,1204.9 L293.0,1204.9 L294.0,1205.0 L295.0,1205.0 L296.0,1205.0 L297.0,1205.0 L298.0,1205.0 L299.0,1204.9 L300.0,1204.9 L301.0,1204.8 L302.0,1204.7 L303.0,1204.6 L304.0,1204.5 L305.0,1204.4 L306.0,1204.3 L307.0,1204.1 L308.0,1204.0 L309.0,1203.8 L310.0,1203.6 L311.0,1203.4 L312.0,1203.2 L313.0,1203.0 L314.0,1202.7 L315.0,1202.5 L316.0,1202.2 L317.0,1201.9 L318.0,1201.6 L319.0,1201.3 L320.0,1200.9 L321.0,1200.6 L322.0,1200.2 L323.0,1199.8 L324.0,1199.4 L325.0,1199.0 L326.0,1198.5 L327.0,1198.1 L328.0,1197.6 L329.0,1197.1 L330.0,1196.5 L331.0,1196.0 L332.0,1195.4 L333.0,1194.8 L334.0,1194.2 L335.0,1193.6 L336.0,1193.0 L337.0,1192.3 L338.0,1191.6 L339.0,1191.0 L340.0,1190.2 L341.0,1189.5 L342.0,1188.8 L343.0,1188.0 L344.0,1187.2 L345.0,1186.4 L346.0,1185.6 L347.0,1184.8 L348.0,1184.0 L349.0,1183.2 L350.0,1182.3 L351.0,1181.4 L352.0,1180.6 L353.0,1179.7 L354.0,1178.8 L355.0,1177.9 L356.0,1177.0 L357.0,1176.1 L358.0,1175.2 L359.0,1174.3 L360.0,1173.3 L361.0,1172.4 L362.0,1171.5 L363.0,1170.6 L364.0,1169.7 L365.0,1168.8 L366.0,1167.9 L367.0,1167.0 L368.0,1166.1 L369.0,1165.2 L370.0,1164.4 L371.0,1163.5 L372.0,1162.7 L373.0,1161.9 L374.0,1161.1 L375.0,1160.3 L376.0,1159.5 L377.0,1158.8 L378.0,1158.1 L379.0,1157.4 L380.0,1156.7 L381.0,1156.1 L382.0,1155.4 L383.0,1154.8 L384.0,1154.3 L385.0,1153.8 L386.0,1153.3 L387.0,1152.8 L388.0,1152.4 L389.0,1152.0 L390.0,1151.6 L391.0,1151.3 L392.0,1151.0 L393.0,1150.8 L394.0,1150.6 L395.0,1150.5 L396.0,1150.3 L397.0,1150.3 L398.0,1150.2 L399.0,1150.2 L400.0,1150.3 L401.0,1150.4 L402.0,1150.5 L403.0,1150.7 L404.0,1151.0 L405.0,1151.2 L406.0,1151.5 L407.0,1151.9 L408.0,1152.3 L409.0,1152.8 L410.0,1153.3 L411.0,1153.8 L412.0,1154.4 L413.0,1155.0 L414.0,1155.6 L415.0,1156.3 L416.0,1157.1 L417.0,1157.8 L418.0,1158.7 L419.0,1159.5 L420.0,1160.4 L421.0,1161.3 L422.0,1162.2 L423.0,1163.2 L424.0,1164.2 L425.0,1165.3 L426.0,1166.3 L427.0,1167.4 L428.0,1168.5 L429.0,1169.6 L430.0,1170.7 L431.0,1171.9 L432.0,1173.0 L433.0,1174.2 L434.0,1175.4 L435.0,1176.5 L436.0,1177.7 L437.0,1178.9 L438.0,1180.0 L439.0,1181.2 L440.0,1182.3 L441.0,1183.4 L442.0,1184.5 L443.0,1185.6 L444.0,1186.6 L445.0,1187.6 L446.0,1188.6 L447.0,1189.5 L448.0,1190.3 L449.0,1191.2 L450.0,1191.9 L451.0,1192.6 L452.0,1193.3 L453.0,1193.9 L454.0,1194.4 L455.0,1194.9 L456.0,1195.2 L457.0,1195.6 L458.0,1195.8 L459.0,1196.0 L460.0,1196.0 L461.0,1196.0 L462.0,1196.0 L463.0,1195.8 L464.0,1195.6 L465.0,1195.4 L466.0,1195.0 L467.0,1194.6 L468.0,1194.1 L469.0,1193.6 L470.0,1193.1 L471.0,1192.5 L472.0,1191.8 L473.0,1191.2 L474.0,1190.5 L475.0,1189.8 L476.0,1189.1 L477.0,1188.4 L478.0,1187.7 L479.0,1186.9 L480.0,1186.2 L481.0,1185.4 L482.0,1184.7 L483.0,1184.0 L484.0,1183.3 L485.0,1182.7 L486.0,1182.1 L487.0,1181.6 L488.0,1181.1 L489.0,1180.7 L490.0,1180.2 L491.0,1179.9 L492.0,1179.5 L493.0,1179.1 L494.0,1178.8 L495.0,1178.3 L496.0,1177.8 L497.0,1177.3 L498.0,1176.5 L499.0,1175.7 L500.0,1174.7 L501.0,1173.5 L502.0,1172.2 L503.0,1170.5 L504.0,1168.6 L505.0,1166.5 L506.0,1164.2 L507.0,1161.8 L508.0,1159.3 L509.0,1156.8 L510.0,1154.3 L511.0,1151.9 L512.0,1149.8 L513.0,1147.8 L514.0,1146.0 L515.0,1144.4 L516.0,1143.1 L517.0,1141.8 L518.0,1140.6 L519.0,1139.3 L520.0,1137.8 L521.0,1136.2 L522.0,1134.2 L523.0,1131.8 L524.0,1129.0 L525.0,1125.8 L526.0,1122.1 L527.0,1118.0 L528.0,1113.4 L529.0,1108.6 L530.0,1103.6 L531.0,1098.4 L532.0,1093.3 L533.0,1088.3 L534.0,1083.5 L535.0,1079.3 L536.0,1075.5 L537.0,1072.5 L538.0,1070.3 L539.0,1068.9 L540.0,1068.4 L541.0,1068.7 L542.0,1069.7 L543.0,1071.2 L544.0,1073.2 L545.0,1075.8 L546.0,1078.8 L547.0,1082.1 L548.0,1085.7 L549.0,1089.4 L550.0,1093.2 L551.0,1097.0 L552.0,1100.7 L553.0,1104.2 L554.0,1107.6 L555.0,1110.8 L556.0,1113.7 L557.0,1116.4 L558.0,1118.7 L559.0,1120.8 L560.0,1122.5 L561.0,1123.9 L562.0,1125.0 L563.0,1125.6 L564.0,1125.8 L565.0,1125.5 L566.0,1124.6 L567.0,1123.1 L568.0,1120.8 L569.0,1117.7 L570.0,1113.7 L571.0,1108.8 L572.0,1102.9 L573.0,1095.9 L574.0,1088.0 L575.0,1079.2 L576.0,1069.7 L577.0,1059.6 L578.0,1049.2 L579.0,1038.7 L580.0,1028.5 L581.0,1018.8 L582.0,1009.9 L583.0,1002.0 L584.0,995.4 L585.0,990.2 L586.0,986.5 L587.0,984.3 L588.0,983.6 L589.0,984.2 L590.0,986.1 L591.0,989.1 L592.0,993.2 L593.0,998.2 L594.0,1004.0 L595.0,1010.3 L596.0,1017.1 L597.0,1024.3 L598.0,1031.8 L599.0,1039.7 L600.0,1047.8 L601.0,1056.2 L602.0,1064.9 L603.0,1073.7 L604.0,1082.7 L605.0,1091.9 L606.0,1101.2 L607.0,1110.5 L608.0,1119.9 L609.0,1129.3 L610.0,1138.6 L611.0,1147.7 L612.0,1156.8 L613.0,1165.6 L614.0,1174.2 L615.0,1182.5 L616.0,1190.6 L617.0,1198.3 L618.0,1205.8 L619.0,1212.9 L620.0,1219.7 L621.0,1226.1 L622.0,1232.2 L623.0,1238.0 L624.0,1243.5 L625.0,1248.5 L626.0,1253.3 L627.0,1257.7 L628.0,1261.9 L629.0,1265.7 L630.0,1269.2 L631.0,1272.5 L632.0,1275.5 L633.0,1278.3 L634.0,1280.8 L635.0,1283.2 L636.0,1285.3 L637.0,1287.2 L638.0,1289.0 L639.0,1290.7 L640.0,1292.1 L641.0,1293.5 L642.0,1294.7 L643.0,1295.9 L644.0,1296.9 L645.0,1297.9 L646.0,1298.9 L647.0,1299.9 L648.0,1300.8 L649.0,1301.7 L650.0,1302.6 L651.0,1303.5 L652.0,1304.3 L653.0,1305.0 L654.0,1305.8 L655.0,1306.5 L656.0,1307.2 L657.0,1307.8 L658.0,1308.4 L659.0,1309.0 L660.0,1309.5 L661.0,1310.1 L662.0,1310.5 L663.0,1311.0 L664.0,1311.4 L665.0,1311.8 L666.0,1312.1 L667.0,1312.4 L668.0,1312.7 L669.0,1312.9 L670.0,1313.1 L671.0,1313.3 L672.0,1313.4 L673.0,1313.5 L674.0,1313.5 L675.0,1313.6 L676.0,1313.6 L677.0,1313.6 L678.0,1313.6 L679.0,1313.6 L680.0,1313.6 L681.0,1313.5 L682.0,1313.5 L683.0,1313.4 L684.0,1313.3 L685.0,1313.2 L686.0,1313.1 L687.0,1313.0 L688.0,1312.8 L689.0,1312.7 L690.0,1312.5 L691.0,1312.3 L692.0,1312.0 L693.0,1311.8 L694.0,1311.5 L695.0,1311.2 L696.0,1310.9 L697.0,1310.6 L698.0,1310.2 L699.0,1309.8 L700.0,1309.4 L701.0,1309.0 L702.0,1308.5 L703.0,1308.1 L704.0,1307.6 L705.0,1307.0 L706.0,1306.5 L707.0,1305.9 L708.0,1305.3 L709.0,1304.6 L710.0,1304.0 L711.0,1303.2 L712.0,1302.5 L713.0,1301.7 L714.0,1301.0 L715.0,1300.1 L716.0,1299.3 L717.0,1298.4 L718.0,1297.5 L719.0,1296.5 L720.0,1295.5 L721.0,1294.5 L722.0,1293.5 L723.0,1292.4 L724.0,1291.3 L725.0,1290.2 L726.0,1289.0 L727.0,1287.8 L728.0,1286.6 L729.0,1285.3 L730.0,1284.1 L731.0,1282.8 L732.0,1281.4 L733.0,1280.1 L734.0,1278.7 L735.0,1277.3 L736.0,1275.9 L737.0,1274.5 L738.0,1273.0 L739.0,1271.6 L740.0,1270.1 L741.0,1268.6 L742.0,1267.0 L743.0,1265.5 L744.0,1264.0 L745.0,1262.4 L746.0,1260.9 L747.0,1259.3 L748.0,1257.8 L749.0,1256.2 L750.0,1254.7 L751.0,1253.1 L752.0,1251.6 L753.0,1250.1 L754.0,1248.5 L755.0,1247.0 L756.0,1245.5 L757.0,1244.0 L758.0,1242.6 L759.0,1241.2 L760.0,1239.7 L761.0,1238.4 L762.0,1237.0 L763.0,1235.7 L764.0,1234.4 L765.0,1233.1 L766.0,1231.9 L767.0,1230.7 L768.0,1229.6 L769.0,1228.5 L770.0,1227.4 L771.0,1226.4 L772.0,1225.5 L773.0,1224.6 L774.0,1223.7 L775.0,1222.9 L776.0,1222.2 L777.0,1221.5 L778.0,1220.9 L779.0,1220.4 L780.0,1219.9 L781.0,1219.4 L782.0,1219.1 L783.0,1218.8 L784.0,1218.5 L785.0,1218.4 L786.0,1218.3 L787.0,1218.2 L788.0,1218.3 L789.0,1218.4 L790.0,1218.6 L791.0,1218.8 L792.0,1219.1 L793.0,1219.5 L794.0,1219.9 L795.0,1220.5 L796.0,1221.0 L797.0,1221.7 L798.0,1222.4 L799.0,1223.1 L800.0,1223.9 L801.0,1224.8 L802.0,1225.7 L803.0,1226.7 L804.0,1227.7 L805.0,1228.7 L806.0,1229.8 L807.0,1230.9 L808.0,1232.1 L809.0,1233.3 L810.0,1234.4 L811.0,1235.6 L812.0,1236.8 L813.0,1238.0 L814.0,1239.2 L815.0,1240.4 L816.0,1241.5 L817.0,1242.6 L818.0,1243.7 L819.0,1244.8 L820.0,1245.8 L821.0,1246.7 L822.0,1247.6 L823.0,1248.5 L824.0,1249.3 L825.0,1250.0 L826.0,1250.7 L827.0,1251.3 L828.0,1251.8 L829.0,1252.3 L830.0,1252.7 L831.0,1253.0 L832.0,1253.3 L833.0,1253.4 L834.0,1253.5 L835.0,1253.6 L836.0,1253.5 L837.0,1253.4 L838.0,1253.2 L839.0,1253.0 L840.0,1252.6 L841.0,1252.2 L842.0,1251.7 L843.0,1251.1 L844.0,1250.5 L845.0,1249.7 L846.0,1248.9 L847.0,1248.1 L848.0,1247.2 L849.0,1246.2 L850.0,1245.2 L851.0,1244.2 L852.0,1243.1 L853.0,1242.0 L854.0,1240.8 L855.0,1239.7 L856.0,1238.6 L857.0,1237.6 L858.0,1236.6 L859.0,1235.6 L860.0,1234.7 L861.0,1233.9 L862.0,1233.1 L863.0,1232.5 L864.0,1231.9 L865.0,1231.4 L866.0,1231.0 L867.0,1230.7 L868.0,1230.5 L869.0,1230.3 L870.0,1230.3 L871.0,1230.4 L872.0,1230.6 L873.0,1230.8 L874.0,1231.2 L875.0,1231.7 L876.0,1232.2 L877.0,1232.7 L878.0,1233.1 L879.0,1233.3 L880.0,1233.5 L881.0,1233.4 L882.0,1233.0 L883.0,1232.2 L884.0,1231.1 L885.0,1229.5 L886.0,1227.5 L887.0,1224.9 L888.0,1221.8 L889.0,1218.2 L890.0,1214.1 L891.0,1209.5 L892.0,1204.5 L893.0,1199.1 L894.0,1193.3 L895.0,1187.4 L896.0,1181.2 L897.0,1174.9 L898.0,1168.5 L899.0,1162.0 L900.0,1155.5 L901.0,1149.0 L902.0,1142.5 L903.0,1136.1 L904.0,1129.8 L905.0,1123.6 L906.0,1117.5 L907.0,1111.6 L908.0,1106.1 L909.0,1100.8 L910.0,1096.0 L911.0,1091.8 L912.0,1088.1 L913.0,1085.2 L914.0,1083.1 L915.0,1082.0 L916.0,1081.7 L917.0,1082.4 L918.0,1083.7 L919.0,1085.7 L920.0,1088.3 L921.0,1091.6 L922.0,1095.5 L923.0,1100.1 L924.0,1105.2 L925.0,1110.9 L926.0,1117.2 L927.0,1123.9 L928.0,1131.1 L929.0,1138.7 L930.0,1146.7 L931.0,1155.1 L932.0,1163.7 L933.0,1172.6 L934.0,1181.8 L935.0,1191.1 L936.0,1200.5 L937.0,1210.0 L938.0,1219.6 L939.0,1229.1 L940.0,1238.6 L941.0,1247.9 L942.0,1257.1 L943.0,1266.1 L944.0,1274.8 L945.0,1283.3 L946.0,1291.4 L947.0,1299.1 L948.0,1306.5 L949.0,1313.5 L950.0,1320.1 L951.0,1326.3 L952.0,1332.0 L953.0,1337.4 L954.0,1342.3 L955.0,1346.8 L956.0,1351.0 L957.0,1354.8 L958.0,1358.3 L959.0,1361.4 L960.0,1364.3 L961.0,1366.8 L962.0,1369.2 L963.0,1371.3 L964.0,1373.2 L965.0,1374.9 L966.0,1376.5 L967.0,1377.9 L968.0,1379.2 L969.0,1380.4 L970.0,1381.5 L971.0,1382.5 L972.0,1383.4 L973.0,1384.3" fill="none" stroke="#1c0a10" stroke-width="1.7" stroke-linejoin="round" stroke-linecap="round" />
<path d="M51.0,1196.5 L53.0,1195.3 L55.1,1184.2 L57.1,1184.4 L59.2,1192.8 L61.2,1181.9 L63.3,1177.9 L65.3,1181.8 L67.4,1183.3 L69.4,1174.6 L71.4,1170.3 L73.5,1174.4 L75.5,1189.5 L77.6,1180.8 L79.6,1183.0 L81.7,1183.9 L83.7,1186.2 L85.7,1181.2 L87.8,1186.6 L89.8,1177.7 L91.9,1178.5 L93.9,1173.7 L96.0,1189.1 L98.0,1182.8 L100.1,1179.4 L102.1,1182.8 L104.1,1183.8 L106.2,1189.3 L108.2,1173.6 L110.3,1176.3 L112.3,1178.9 L114.4,1196.2 L116.4,1189.7 L118.5,1182.3 L120.5,1189.3 L122.5,1197.2 L124.6,1182.7 L126.6,1182.7 L128.7,1189.7 L130.7,1190.1 L132.8,1192.8 L134.8,1180.6 L136.8,1197.4 L138.9,1195.4 L140.9,1187.3 L143.0,1189.4 L145.0,1173.5 L147.1,1190.7 L149.1,1186.6 L151.2,1189.3 L153.2,1190.7 L155.2,1185.4 L157.3,1179.0 L159.3,1193.6" fill="none" stroke="#4f101c" stroke-width="2.1" stroke-linejoin="round" stroke-linecap="round" />
<path d="M972.8,1389.3 L974.9,1391.5 L976.9,1393.7 L979.0,1393.1 L981.0,1391.7 L983.1,1392.8 L985.1,1390.2 L987.2,1395.3 L989.2,1384.3 L991.2,1399.7 L993.3,1395.2 L995.3,1390.9 L997.4,1391.2 L999.4,1390.6 L1001.5,1393.8 L1003.5,1388.0 L1005.5,1404.0 L1007.6,1392.0 L1009.6,1382.9 L1011.7,1390.9 L1013.7,1384.2 L1015.8,1397.8 L1017.8,1405.1 L1019.9,1402.3 L1021.9,1389.9 L1023.9,1392.3 L1026.0,1409.5 L1028.0,1400.1 L1030.1,1397.8 L1032.1,1402.7 L1034.2,1410.5 L1036.2,1403.5 L1038.3,1398.0 L1040.3,1401.3 L1042.3,1401.9 L1044.4,1393.7 L1046.4,1390.9 L1048.5,1398.4 L1050.5,1390.7 L1052.6,1397.6 L1054.6,1399.2 L1056.6,1412.1 L1058.7,1391.4 L1060.7,1396.5 L1062.8,1396.1 L1064.8,1400.1 L1066.9,1401.4 L1068.9,1393.5 L1071.0,1389.6 L1073.0,1381.3" fill="none" stroke="#4f101c" stroke-width="2.1" stroke-linejoin="round" stroke-linecap="round" />
<g fill="#f6f6f9" stroke="#24242c" stroke-width="1.2"><circle cx="51.0" cy="1196.5" r="1.95"/><circle cx="53.0" cy="1195.3" r="1.95"/><circle cx="55.1" cy="1184.2" r="1.95"/><circle cx="57.1" cy="1184.4" r="1.95"/><circle cx="59.2" cy="1192.8" r="1.95"/><circle cx="61.2" cy="1181.9" r="1.95"/><circle cx="63.3" cy="1177.9" r="1.95"/><circle cx="65.3" cy="1181.8" r="1.95"/><circle cx="67.4" cy="1183.3" r="1.95"/><circle cx="69.4" cy="1174.6" r="1.95"/><circle cx="71.4" cy="1170.3" r="1.95"/><circle cx="73.5" cy="1174.4" r="1.95"/><circle cx="75.5" cy="1189.5" r="1.95"/><circle cx="77.6" cy="1180.8" r="1.95"/><circle cx="79.6" cy="1183.0" r="1.95"/><circle cx="81.7" cy="1183.9" r="1.95"/><circle cx="83.7" cy="1186.2" r="1.95"/><circle cx="85.7" cy="1181.2" r="1.95"/><circle cx="87.8" cy="1186.6" r="1.95"/><circle cx="89.8" cy="1177.7" r="1.95"/><circle cx="91.9" cy="1178.5" r="1.95"/><circle cx="93.9" cy="1173.7" r="1.95"/><circle cx="96.0" cy="1189.1" r="1.95"/><circle cx="98.0" cy="1182.8" r="1.95"/><circle cx="100.1" cy="1179.4" r="1.95"/><circle cx="102.1" cy="1182.8" r="1.95"/><circle cx="104.1" cy="1183.8" r="1.95"/><circle cx="106.2" cy="1189.3" r="1.95"/><circle cx="108.2" cy="1173.6" r="1.95"/><circle cx="110.3" cy="1176.3" r="1.95"/><circle cx="112.3" cy="1178.9" r="1.95"/><circle cx="114.4" cy="1196.2" r="1.95"/><circle cx="116.4" cy="1189.7" r="1.95"/><circle cx="118.5" cy="1182.3" r="1.95"/><circle cx="120.5" cy="1189.3" r="1.95"/><circle cx="122.5" cy="1197.2" r="1.95"/><circle cx="124.6" cy="1182.7" r="1.95"/><circle cx="126.6" cy="1182.7" r="1.95"/><circle cx="128.7" cy="1189.7" r="1.95"/><circle cx="130.7" cy="1190.1" r="1.95"/><circle cx="132.8" cy="1192.8" r="1.95"/><circle cx="134.8" cy="1180.6" r="1.95"/><circle cx="136.8" cy="1197.4" r="1.95"/><circle cx="138.9" cy="1195.4" r="1.95"/><circle cx="140.9" cy="1187.3" r="1.95"/><circle cx="143.0" cy="1189.4" r="1.95"/><circle cx="145.0" cy="1173.5" r="1.95"/><circle cx="147.1" cy="1190.7" r="1.95"/><circle cx="149.1" cy="1186.6" r="1.95"/><circle cx="151.2" cy="1189.3" r="1.95"/><circle cx="153.2" cy="1190.7" r="1.95"/><circle cx="155.2" cy="1185.4" r="1.95"/><circle cx="157.3" cy="1179.0" r="1.95"/><circle cx="159.3" cy="1193.6" r="1.95"/><circle cx="161.4" cy="1187.5" r="1.95"/><circle cx="163.4" cy="1173.3" r="1.95"/><circle cx="165.5" cy="1183.8" r="1.95"/><circle cx="167.5" cy="1185.4" r="1.95"/><circle cx="169.6" cy="1167.3" r="1.95"/><circle cx="171.6" cy="1197.9" r="1.95"/><circle cx="173.6" cy="1179.2" r="1.95"/><circle cx="175.7" cy="1178.7" r="1.95"/><circle cx="177.7" cy="1169.3" r="1.95"/><circle cx="179.8" cy="1158.4" r="1.95"/><circle cx="181.8" cy="1145.8" r="1.95"/><circle cx="183.9" cy="1140.9" r="1.95"/><circle cx="185.9" cy="1131.2" r="1.95"/><circle cx="187.9" cy="1129.5" r="1.95"/><circle cx="190.0" cy="1121.2" r="1.95"/><circle cx="192.0" cy="1097.4" r="1.95"/><circle cx="194.1" cy="1100.3" r="1.95"/><circle cx="196.1" cy="1080.2" r="1.95"/><circle cx="198.2" cy="1082.0" r="1.95"/><circle cx="200.2" cy="1067.6" r="1.95"/><circle cx="202.3" cy="1054.3" r="1.95"/><circle cx="204.3" cy="1044.2" r="1.95"/><circle cx="206.3" cy="1028.4" r="1.95"/><circle cx="208.4" cy="1016.4" r="1.95"/><circle cx="210.4" cy="1001.0" r="1.95"/><circle cx="212.5" cy="1004.5" r="1.95"/><circle cx="214.5" cy="1010.0" r="1.95"/><circle cx="216.6" cy="1009.7" r="1.95"/><circle cx="218.6" cy="1011.8" r="1.95"/><circle cx="220.7" cy="1020.1" r="1.95"/><circle cx="222.7" cy="1022.6" r="1.95"/><circle cx="224.7" cy="1048.5" r="1.95"/><circle cx="226.8" cy="1052.0" r="1.95"/><circle cx="228.8" cy="1050.8" r="1.95"/><circle cx="230.9" cy="1071.7" r="1.95"/><circle cx="232.9" cy="1086.4" r="1.95"/><circle cx="235.0" cy="1093.8" r="1.95"/><circle cx="237.0" cy="1105.6" r="1.95"/><circle cx="239.0" cy="1108.3" r="1.95"/><circle cx="241.1" cy="1121.2" r="1.95"/><circle cx="243.1" cy="1154.0" r="1.95"/><circle cx="245.2" cy="1149.4" r="1.95"/><circle cx="247.2" cy="1158.6" r="1.95"/><circle cx="249.3" cy="1170.0" r="1.95"/><circle cx="251.3" cy="1177.6" r="1.95"/><circle cx="253.4" cy="1172.9" r="1.95"/><circle cx="255.4" cy="1183.7" r="1.95"/><circle cx="257.4" cy="1194.6" r="1.95"/><circle cx="259.5" cy="1192.3" r="1.95"/><circle cx="261.5" cy="1191.6" r="1.95"/><circle cx="263.6" cy="1201.0" r="1.95"/><circle cx="265.6" cy="1187.9" r="1.95"/><circle cx="267.7" cy="1194.4" r="1.95"/><circle cx="269.7" cy="1193.1" r="1.95"/><circle cx="271.8" cy="1206.6" r="1.95"/><circle cx="273.8" cy="1186.7" r="1.95"/><circle cx="275.8" cy="1196.8" r="1.95"/><circle cx="277.9" cy="1198.1" r="1.95"/><circle cx="279.9" cy="1205.9" r="1.95"/><circle cx="282.0" cy="1206.8" r="1.95"/><circle cx="284.0" cy="1212.6" r="1.95"/><circle cx="286.1" cy="1195.2" r="1.95"/><circle cx="288.1" cy="1210.5" r="1.95"/><circle cx="290.1" cy="1202.4" r="1.95"/><circle cx="292.2" cy="1200.1" r="1.95"/><circle cx="294.2" cy="1207.3" r="1.95"/><circle cx="296.3" cy="1198.5" r="1.95"/><circle cx="298.3" cy="1191.4" r="1.95"/><circle cx="300.4" cy="1201.9" r="1.95"/><circle cx="302.4" cy="1194.6" r="1.95"/><circle cx="304.5" cy="1199.3" r="1.95"/><circle cx="306.5" cy="1202.9" r="1.95"/><circle cx="308.5" cy="1205.4" r="1.95"/><circle cx="310.6" cy="1214.5" r="1.95"/><circle cx="312.6" cy="1202.6" r="1.95"/><circle cx="314.7" cy="1194.4" r="1.95"/><circle cx="316.7" cy="1198.4" r="1.95"/><circle cx="318.8" cy="1198.5" r="1.95"/><circle cx="320.8" cy="1194.8" r="1.95"/><circle cx="322.9" cy="1203.5" r="1.95"/><circle cx="324.9" cy="1196.6" r="1.95"/><circle cx="326.9" cy="1186.1" r="1.95"/><circle cx="329.0" cy="1200.1" r="1.95"/><circle cx="331.0" cy="1194.7" r="1.95"/><circle cx="333.1" cy="1195.6" r="1.95"/><circle cx="335.1" cy="1193.0" r="1.95"/><circle cx="337.2" cy="1189.9" r="1.95"/><circle cx="339.2" cy="1185.1" r="1.95"/><circle cx="341.2" cy="1190.0" r="1.95"/><circle cx="343.3" cy="1184.0" r="1.95"/><circle cx="345.3" cy="1184.2" r="1.95"/><circle cx="347.4" cy="1182.7" r="1.95"/><circle cx="349.4" cy="1168.7" r="1.95"/><circle cx="351.5" cy="1174.8" r="1.95"/><circle cx="353.5" cy="1172.8" r="1.95"/><circle cx="355.6" cy="1177.2" r="1.95"/><circle cx="357.6" cy="1164.8" r="1.95"/><circle cx="359.6" cy="1182.8" r="1.95"/><circle cx="361.7" cy="1172.3" r="1.95"/><circle cx="363.7" cy="1160.9" r="1.95"/><circle cx="365.8" cy="1156.7" r="1.95"/><circle cx="367.8" cy="1164.0" r="1.95"/><circle cx="369.9" cy="1163.7" r="1.95"/><circle cx="371.9" cy="1158.0" r="1.95"/><circle cx="374.0" cy="1162.5" r="1.95"/><circle cx="376.0" cy="1157.7" r="1.95"/><circle cx="378.0" cy="1185.5" r="1.95"/><circle cx="380.1" cy="1153.6" r="1.95"/><circle cx="382.1" cy="1155.8" r="1.95"/><circle cx="384.2" cy="1161.8" r="1.95"/><circle cx="386.2" cy="1170.8" r="1.95"/><circle cx="388.3" cy="1147.0" r="1.95"/><circle cx="390.3" cy="1151.4" r="1.95"/><circle cx="392.3" cy="1149.1" r="1.95"/><circle cx="394.4" cy="1158.6" r="1.95"/><circle cx="396.4" cy="1134.3" r="1.95"/><circle cx="398.5" cy="1152.8" r="1.95"/><circle cx="400.5" cy="1157.0" r="1.95"/><circle cx="402.6" cy="1150.2" r="1.95"/><circle cx="404.6" cy="1150.9" r="1.95"/><circle cx="406.7" cy="1153.4" r="1.95"/><circle cx="408.7" cy="1141.1" r="1.95"/><circle cx="410.7" cy="1145.5" r="1.95"/><circle cx="412.8" cy="1153.1" r="1.95"/><circle cx="414.8" cy="1158.1" r="1.95"/><circle cx="416.9" cy="1154.6" r="1.95"/><circle cx="418.9" cy="1143.6" r="1.95"/><circle cx="421.0" cy="1152.8" r="1.95"/><circle cx="423.0" cy="1161.3" r="1.95"/><circle cx="425.1" cy="1164.3" r="1.95"/><circle cx="427.1" cy="1165.1" r="1.95"/><circle cx="429.1" cy="1164.8" r="1.95"/><circle cx="431.2" cy="1177.2" r="1.95"/><circle cx="433.2" cy="1171.6" r="1.95"/><circle cx="435.3" cy="1170.6" r="1.95"/><circle cx="437.3" cy="1173.2" r="1.95"/><circle cx="439.4" cy="1189.4" r="1.95"/><circle cx="441.4" cy="1185.3" r="1.95"/><circle cx="443.4" cy="1193.5" r="1.95"/><circle cx="445.5" cy="1184.6" r="1.95"/><circle cx="447.5" cy="1193.1" r="1.95"/><circle cx="449.6" cy="1184.4" r="1.95"/><circle cx="451.6" cy="1189.9" r="1.95"/><circle cx="453.7" cy="1210.2" r="1.95"/><circle cx="455.7" cy="1202.8" r="1.95"/><circle cx="457.8" cy="1195.5" r="1.95"/><circle cx="459.8" cy="1197.2" r="1.95"/><circle cx="461.8" cy="1200.4" r="1.95"/><circle cx="463.9" cy="1206.3" r="1.95"/><circle cx="465.9" cy="1195.2" r="1.95"/><circle cx="468.0" cy="1184.9" r="1.95"/><circle cx="470.0" cy="1192.5" r="1.95"/><circle cx="472.1" cy="1191.3" r="1.95"/><circle cx="474.1" cy="1191.8" r="1.95"/><circle cx="476.2" cy="1198.2" r="1.95"/><circle cx="478.2" cy="1192.5" r="1.95"/><circle cx="480.2" cy="1192.0" r="1.95"/><circle cx="482.3" cy="1178.0" r="1.95"/><circle cx="484.3" cy="1188.4" r="1.95"/><circle cx="486.4" cy="1195.9" r="1.95"/><circle cx="488.4" cy="1186.3" r="1.95"/><circle cx="490.5" cy="1181.9" r="1.95"/><circle cx="492.5" cy="1181.3" r="1.95"/><circle cx="494.5" cy="1190.8" r="1.95"/><circle cx="496.6" cy="1159.6" r="1.95"/><circle cx="498.6" cy="1176.1" r="1.95"/><circle cx="500.7" cy="1175.1" r="1.95"/><circle cx="502.7" cy="1174.7" r="1.95"/><circle cx="504.8" cy="1162.5" r="1.95"/><circle cx="506.8" cy="1163.2" r="1.95"/><circle cx="508.9" cy="1155.3" r="1.95"/><circle cx="510.9" cy="1142.1" r="1.95"/><circle cx="512.9" cy="1143.7" r="1.95"/><circle cx="515.0" cy="1133.0" r="1.95"/><circle cx="517.0" cy="1136.9" r="1.95"/><circle cx="519.1" cy="1140.3" r="1.95"/><circle cx="521.1" cy="1125.3" r="1.95"/><circle cx="523.2" cy="1126.2" r="1.95"/><circle cx="525.2" cy="1125.2" r="1.95"/><circle cx="527.3" cy="1105.2" r="1.95"/><circle cx="529.3" cy="1105.5" r="1.95"/><circle cx="531.3" cy="1087.3" r="1.95"/><circle cx="533.4" cy="1091.4" r="1.95"/><circle cx="535.4" cy="1091.5" r="1.95"/><circle cx="537.5" cy="1084.7" r="1.95"/><circle cx="539.5" cy="1066.5" r="1.95"/><circle cx="541.6" cy="1072.3" r="1.95"/><circle cx="543.6" cy="1071.4" r="1.95"/><circle cx="545.6" cy="1077.4" r="1.95"/><circle cx="547.7" cy="1092.8" r="1.95"/><circle cx="549.7" cy="1082.4" r="1.95"/><circle cx="551.8" cy="1105.6" r="1.95"/><circle cx="553.8" cy="1107.8" r="1.95"/><circle cx="555.9" cy="1122.9" r="1.95"/><circle cx="557.9" cy="1121.2" r="1.95"/><circle cx="560.0" cy="1121.3" r="1.95"/><circle cx="562.0" cy="1126.9" r="1.95"/><circle cx="564.0" cy="1130.4" r="1.95"/><circle cx="566.1" cy="1124.2" r="1.95"/><circle cx="568.1" cy="1125.3" r="1.95"/><circle cx="570.2" cy="1110.6" r="1.95"/><circle cx="572.2" cy="1085.5" r="1.95"/><circle cx="574.3" cy="1089.0" r="1.95"/><circle cx="576.3" cy="1068.4" r="1.95"/><circle cx="578.4" cy="1042.7" r="1.95"/><circle cx="580.4" cy="1023.5" r="1.95"/><circle cx="582.4" cy="1008.6" r="1.95"/><circle cx="584.5" cy="984.0" r="1.95"/><circle cx="586.5" cy="971.2" r="1.95"/><circle cx="588.6" cy="972.9" r="1.95"/><circle cx="590.6" cy="986.7" r="1.95"/><circle cx="592.7" cy="981.5" r="1.95"/><circle cx="594.7" cy="1013.7" r="1.95"/><circle cx="596.7" cy="1023.8" r="1.95"/><circle cx="598.8" cy="1036.5" r="1.95"/><circle cx="600.8" cy="1071.4" r="1.95"/><circle cx="602.9" cy="1080.9" r="1.95"/><circle cx="604.9" cy="1091.4" r="1.95"/><circle cx="607.0" cy="1114.5" r="1.95"/><circle cx="609.0" cy="1141.4" r="1.95"/><circle cx="611.1" cy="1161.8" r="1.95"/><circle cx="613.1" cy="1167.8" r="1.95"/><circle cx="615.1" cy="1187.0" r="1.95"/><circle cx="617.2" cy="1202.5" r="1.95"/><circle cx="619.2" cy="1205.4" r="1.95"/><circle cx="621.3" cy="1225.3" r="1.95"/><circle cx="623.3" cy="1234.5" r="1.95"/><circle cx="625.4" cy="1239.9" r="1.95"/><circle cx="627.4" cy="1249.8" r="1.95"/><circle cx="629.5" cy="1261.9" r="1.95"/><circle cx="631.5" cy="1269.2" r="1.95"/><circle cx="633.5" cy="1271.1" r="1.95"/><circle cx="635.6" cy="1283.4" r="1.95"/><circle cx="637.6" cy="1297.9" r="1.95"/><circle cx="639.7" cy="1296.5" r="1.95"/><circle cx="641.7" cy="1303.9" r="1.95"/><circle cx="643.8" cy="1278.9" r="1.95"/><circle cx="645.8" cy="1308.9" r="1.95"/><circle cx="647.8" cy="1319.8" r="1.95"/><circle cx="649.9" cy="1301.4" r="1.95"/><circle cx="651.9" cy="1310.7" r="1.95"/><circle cx="654.0" cy="1302.4" r="1.95"/><circle cx="656.0" cy="1318.7" r="1.95"/><circle cx="658.1" cy="1316.4" r="1.95"/><circle cx="660.1" cy="1293.0" r="1.95"/><circle cx="662.2" cy="1305.6" r="1.95"/><circle cx="664.2" cy="1310.4" r="1.95"/><circle cx="666.2" cy="1313.1" r="1.95"/><circle cx="668.3" cy="1312.0" r="1.95"/><circle cx="670.3" cy="1307.3" r="1.95"/><circle cx="672.4" cy="1311.1" r="1.95"/><circle cx="674.4" cy="1312.6" r="1.95"/><circle cx="676.5" cy="1309.0" r="1.95"/><circle cx="678.5" cy="1318.0" r="1.95"/><circle cx="680.6" cy="1296.6" r="1.95"/><circle cx="682.6" cy="1314.8" r="1.95"/><circle cx="684.6" cy="1303.7" r="1.95"/><circle cx="686.7" cy="1318.8" r="1.95"/><circle cx="688.7" cy="1311.3" r="1.95"/><circle cx="690.8" cy="1308.5" r="1.95"/><circle cx="692.8" cy="1310.6" r="1.95"/><circle cx="694.9" cy="1308.5" r="1.95"/><circle cx="696.9" cy="1306.9" r="1.95"/><circle cx="698.9" cy="1302.7" r="1.95"/><circle cx="701.0" cy="1312.6" r="1.95"/><circle cx="703.0" cy="1315.9" r="1.95"/><circle cx="705.1" cy="1317.8" r="1.95"/><circle cx="707.1" cy="1310.7" r="1.95"/><circle cx="709.2" cy="1315.8" r="1.95"/><circle cx="711.2" cy="1308.8" r="1.95"/><circle cx="713.3" cy="1306.3" r="1.95"/><circle cx="715.3" cy="1306.6" r="1.95"/><circle cx="717.3" cy="1306.8" r="1.95"/><circle cx="719.4" cy="1297.0" r="1.95"/><circle cx="721.4" cy="1293.4" r="1.95"/><circle cx="723.5" cy="1291.1" r="1.95"/><circle cx="725.5" cy="1288.5" r="1.95"/><circle cx="727.6" cy="1281.9" r="1.95"/><circle cx="729.6" cy="1299.2" r="1.95"/><circle cx="731.7" cy="1277.4" r="1.95"/><circle cx="733.7" cy="1282.9" r="1.95"/><circle cx="735.7" cy="1270.1" r="1.95"/><circle cx="737.8" cy="1276.5" r="1.95"/><circle cx="739.8" cy="1273.8" r="1.95"/><circle cx="741.9" cy="1263.4" r="1.95"/><circle cx="743.9" cy="1276.7" r="1.95"/><circle cx="746.0" cy="1277.5" r="1.95"/><circle cx="748.0" cy="1265.3" r="1.95"/><circle cx="750.0" cy="1256.4" r="1.95"/><circle cx="752.1" cy="1242.9" r="1.95"/><circle cx="754.1" cy="1243.7" r="1.95"/><circle cx="756.2" cy="1241.8" r="1.95"/><circle cx="758.2" cy="1238.7" r="1.95"/><circle cx="760.3" cy="1237.5" r="1.95"/><circle cx="762.3" cy="1235.0" r="1.95"/><circle cx="764.4" cy="1238.1" r="1.95"/><circle cx="766.4" cy="1231.3" r="1.95"/><circle cx="768.4" cy="1219.8" r="1.95"/><circle cx="770.5" cy="1224.0" r="1.95"/><circle cx="772.5" cy="1215.0" r="1.95"/><circle cx="774.6" cy="1224.0" r="1.95"/><circle cx="776.6" cy="1223.8" r="1.95"/><circle cx="778.7" cy="1224.4" r="1.95"/><circle cx="780.7" cy="1212.3" r="1.95"/><circle cx="782.8" cy="1208.8" r="1.95"/><circle cx="784.8" cy="1212.2" r="1.95"/><circle cx="786.8" cy="1205.1" r="1.95"/><circle cx="788.9" cy="1209.8" r="1.95"/><circle cx="790.9" cy="1225.6" r="1.95"/><circle cx="793.0" cy="1208.3" r="1.95"/><circle cx="795.0" cy="1220.0" r="1.95"/><circle cx="797.1" cy="1210.5" r="1.95"/><circle cx="799.1" cy="1221.6" r="1.95"/><circle cx="801.1" cy="1219.3" r="1.95"/><circle cx="803.2" cy="1224.0" r="1.95"/><circle cx="805.2" cy="1230.4" r="1.95"/><circle cx="807.3" cy="1240.6" r="1.95"/><circle cx="809.3" cy="1234.8" r="1.95"/><circle cx="811.4" cy="1236.4" r="1.95"/><circle cx="813.4" cy="1233.6" r="1.95"/><circle cx="815.5" cy="1246.3" r="1.95"/><circle cx="817.5" cy="1242.3" r="1.95"/><circle cx="819.5" cy="1250.5" r="1.95"/><circle cx="821.6" cy="1246.9" r="1.95"/><circle cx="823.6" cy="1258.8" r="1.95"/><circle cx="825.7" cy="1239.3" r="1.95"/><circle cx="827.7" cy="1251.5" r="1.95"/><circle cx="829.8" cy="1261.0" r="1.95"/><circle cx="831.8" cy="1255.0" r="1.95"/><circle cx="833.9" cy="1254.3" r="1.95"/><circle cx="835.9" cy="1244.2" r="1.95"/><circle cx="837.9" cy="1256.0" r="1.95"/><circle cx="840.0" cy="1266.5" r="1.95"/><circle cx="842.0" cy="1282.7" r="1.95"/><circle cx="844.1" cy="1274.5" r="1.95"/><circle cx="846.1" cy="1259.8" r="1.95"/><circle cx="848.2" cy="1261.1" r="1.95"/><circle cx="850.2" cy="1261.7" r="1.95"/><circle cx="852.2" cy="1269.4" r="1.95"/><circle cx="854.3" cy="1257.4" r="1.95"/><circle cx="856.3" cy="1253.6" r="1.95"/><circle cx="858.4" cy="1262.1" r="1.95"/><circle cx="860.4" cy="1276.7" r="1.95"/><circle cx="862.5" cy="1247.7" r="1.95"/><circle cx="864.5" cy="1241.4" r="1.95"/><circle cx="866.6" cy="1235.9" r="1.95"/><circle cx="868.6" cy="1242.4" r="1.95"/><circle cx="870.6" cy="1229.6" r="1.95"/><circle cx="872.7" cy="1244.5" r="1.95"/><circle cx="874.7" cy="1237.1" r="1.95"/><circle cx="876.8" cy="1242.0" r="1.95"/><circle cx="878.8" cy="1250.5" r="1.95"/><circle cx="880.9" cy="1242.1" r="1.95"/><circle cx="882.9" cy="1226.2" r="1.95"/><circle cx="885.0" cy="1236.5" r="1.95"/><circle cx="887.0" cy="1231.7" r="1.95"/><circle cx="889.0" cy="1222.0" r="1.95"/><circle cx="891.1" cy="1206.2" r="1.95"/><circle cx="893.1" cy="1199.3" r="1.95"/><circle cx="895.2" cy="1179.3" r="1.95"/><circle cx="897.2" cy="1185.4" r="1.95"/><circle cx="899.3" cy="1150.5" r="1.95"/><circle cx="901.3" cy="1145.4" r="1.95"/><circle cx="903.3" cy="1137.1" r="1.95"/><circle cx="905.4" cy="1122.4" r="1.95"/><circle cx="907.4" cy="1112.3" r="1.95"/><circle cx="909.5" cy="1100.3" r="1.95"/><circle cx="911.5" cy="1087.7" r="1.95"/><circle cx="913.6" cy="1089.8" r="1.95"/><circle cx="915.6" cy="1067.3" r="1.95"/><circle cx="917.7" cy="1088.8" r="1.95"/><circle cx="919.7" cy="1078.5" r="1.95"/><circle cx="921.7" cy="1092.3" r="1.95"/><circle cx="923.8" cy="1102.3" r="1.95"/><circle cx="925.8" cy="1107.0" r="1.95"/><circle cx="927.9" cy="1123.7" r="1.95"/><circle cx="929.9" cy="1150.1" r="1.95"/><circle cx="932.0" cy="1162.9" r="1.95"/><circle cx="934.0" cy="1174.9" r="1.95"/><circle cx="936.1" cy="1213.0" r="1.95"/><circle cx="938.1" cy="1236.2" r="1.95"/><circle cx="940.1" cy="1229.3" r="1.95"/><circle cx="942.2" cy="1259.7" r="1.95"/><circle cx="944.2" cy="1292.4" r="1.95"/><circle cx="946.3" cy="1298.8" r="1.95"/><circle cx="948.3" cy="1310.2" r="1.95"/><circle cx="950.4" cy="1321.8" r="1.95"/><circle cx="952.4" cy="1332.3" r="1.95"/><circle cx="954.4" cy="1344.5" r="1.95"/><circle cx="956.5" cy="1350.9" r="1.95"/><circle cx="958.5" cy="1365.5" r="1.95"/><circle cx="960.6" cy="1365.5" r="1.95"/><circle cx="962.6" cy="1368.7" r="1.95"/><circle cx="964.7" cy="1365.4" r="1.95"/><circle cx="966.7" cy="1375.7" r="1.95"/><circle cx="968.8" cy="1373.6" r="1.95"/><circle cx="970.8" cy="1379.4" r="1.95"/><circle cx="972.8" cy="1389.3" r="1.95"/><circle cx="974.9" cy="1391.5" r="1.95"/><circle cx="976.9" cy="1393.7" r="1.95"/><circle cx="979.0" cy="1393.1" r="1.95"/><circle cx="981.0" cy="1391.7" r="1.95"/><circle cx="983.1" cy="1392.8" r="1.95"/><circle cx="985.1" cy="1390.2" r="1.95"/><circle cx="987.2" cy="1395.3" r="1.95"/><circle cx="989.2" cy="1384.3" r="1.95"/><circle cx="991.2" cy="1399.7" r="1.95"/><circle cx="993.3" cy="1395.2" r="1.95"/><circle cx="995.3" cy="1390.9" r="1.95"/><circle cx="997.4" cy="1391.2" r="1.95"/><circle cx="999.4" cy="1390.6" r="1.95"/><circle cx="1001.5" cy="1393.8" r="1.95"/><circle cx="1003.5" cy="1388.0" r="1.95"/><circle cx="1005.5" cy="1404.0" r="1.95"/><circle cx="1007.6" cy="1392.0" r="1.95"/><circle cx="1009.6" cy="1382.9" r="1.95"/><circle cx="1011.7" cy="1390.9" r="1.95"/><circle cx="1013.7" cy="1384.2" r="1.95"/><circle cx="1015.8" cy="1397.8" r="1.95"/><circle cx="1017.8" cy="1405.1" r="1.95"/><circle cx="1019.9" cy="1402.3" r="1.95"/><circle cx="1021.9" cy="1389.9" r="1.95"/><circle cx="1023.9" cy="1392.3" r="1.95"/><circle cx="1026.0" cy="1409.5" r="1.95"/><circle cx="1028.0" cy="1400.1" r="1.95"/><circle cx="1030.1" cy="1397.8" r="1.95"/><circle cx="1032.1" cy="1402.7" r="1.95"/><circle cx="1034.2" cy="1410.5" r="1.95"/><circle cx="1036.2" cy="1403.5" r="1.95"/><circle cx="1038.3" cy="1398.0" r="1.95"/><circle cx="1040.3" cy="1401.3" r="1.95"/><circle cx="1042.3" cy="1401.9" r="1.95"/><circle cx="1044.4" cy="1393.7" r="1.95"/><circle cx="1046.4" cy="1390.9" r="1.95"/><circle cx="1048.5" cy="1398.4" r="1.95"/><circle cx="1050.5" cy="1390.7" r="1.95"/><circle cx="1052.6" cy="1397.6" r="1.95"/><circle cx="1054.6" cy="1399.2" r="1.95"/><circle cx="1056.6" cy="1412.1" r="1.95"/><circle cx="1058.7" cy="1391.4" r="1.95"/><circle cx="1060.7" cy="1396.5" r="1.95"/><circle cx="1062.8" cy="1396.1" r="1.95"/><circle cx="1064.8" cy="1400.1" r="1.95"/><circle cx="1066.9" cy="1401.4" r="1.95"/><circle cx="1068.9" cy="1393.5" r="1.95"/><circle cx="1071.0" cy="1389.6" r="1.95"/><circle cx="1073.0" cy="1381.3" r="1.95"/></g>
<path d="M155.0,1594.9 L156.0,1594.8 L157.0,1594.6 L158.0,1594.5 L159.0,1594.4 L160.0,1594.2 L161.0,1594.1 L162.0,1593.9 L163.0,1593.7 L164.0,1593.5 L165.0,1593.3 L166.0,1593.1 L167.0,1592.8 L168.0,1592.6 L169.0,1592.3 L170.0,1592.1 L171.0,1591.8 L172.0,1591.5 L173.0,1591.1 L174.0,1590.8 L175.0,1590.5 L176.0,1590.1 L177.0,1589.7 L178.0,1589.3 L179.0,1588.9 L180.0,1588.5 L181.0,1588.1 L182.0,1587.7 L183.0,1587.2 L184.0,1586.8 L185.0,1586.3 L186.0,1585.9 L187.0,1585.4 L188.0,1584.9 L189.0,1584.4 L190.0,1583.9 L191.0,1583.5 L192.0,1583.0 L193.0,1582.5 L194.0,1582.0 L195.0,1581.6 L196.0,1581.1 L197.0,1580.7 L198.0,1580.2 L199.0,1579.8 L200.0,1579.4 L201.0,1579.0 L202.0,1578.7 L203.0,1578.3 L204.0,1578.0 L205.0,1577.7 L206.0,1577.4 L207.0,1577.2 L208.0,1576.9 L209.0,1576.7 L210.0,1576.6 L211.0,1576.4 L212.0,1576.3 L213.0,1576.3 L214.0,1576.2 L215.0,1576.2 L216.0,1576.2 L217.0,1576.3 L218.0,1576.4 L219.0,1576.5 L220.0,1576.7 L221.0,1576.8 L222.0,1577.1 L223.0,1577.3 L224.0,1577.6 L225.0,1577.8 L226.0,1578.2 L227.0,1578.5 L228.0,1578.9 L229.0,1579.3 L230.0,1579.7 L231.0,1580.1 L232.0,1580.5 L233.0,1581.0 L234.0,1581.4 L235.0,1581.9 L236.0,1582.4 L237.0,1582.9 L238.0,1583.3 L239.0,1583.8 L240.0,1584.3 L241.0,1584.8 L242.0,1585.3 L243.0,1585.8 L244.0,1586.3 L245.0,1586.8 L246.0,1587.3 L247.0,1587.7 L248.0,1588.2 L249.0,1588.6 L250.0,1589.1 L251.0,1589.5 L252.0,1589.9 L253.0,1590.3 L254.0,1590.7 L255.0,1591.1 L256.0,1591.5 L257.0,1591.8 L258.0,1592.1 L259.0,1592.5 L260.0,1592.8 L261.0,1593.1 L262.0,1593.3 L263.0,1593.6 L264.0,1593.9 L265.0,1594.1 L266.0,1594.3 L267.0,1594.5 L268.0,1594.7 L269.0,1594.9 L270.0,1595.1 L271.0,1595.3 L272.0,1595.4 L273.0,1595.6 L274.0,1595.7 L275.0,1595.8 L276.0,1596.0 L277.0,1596.1 L278.0,1596.2 L279.0,1596.3 L280.0,1596.4 L281.0,1596.5 L282.0,1596.5 L283.0,1596.6 L284.0,1596.7 L285.0,1596.7 L286.0,1596.8 L287.0,1596.9 L288.0,1596.9 L289.0,1597.0 L290.0,1597.0 L291.0,1597.1 L292.0,1597.1 L293.0,1597.1 L294.0,1597.2 L295.0,1597.2 L296.0,1597.3 L297.0,1597.3 L298.0,1597.4 L299.0,1597.5 L300.0,1597.6 L301.0,1597.6 L302.0,1597.7 L303.0,1597.8 L304.0,1597.9 L305.0,1598.0 L306.0,1598.1 L307.0,1598.2 L308.0,1598.3 L309.0,1598.4 L310.0,1598.5 L311.0,1598.6 L312.0,1598.7 L313.0,1598.9 L314.0,1599.0 L315.0,1599.1 L316.0,1599.2 L317.0,1599.3 L318.0,1599.4 L319.0,1599.6 L320.0,1599.7 L321.0,1599.8" fill="none" stroke="#e0331f" stroke-width="3.8" stroke-linejoin="round" stroke-linecap="round" />
<path d="M305.0,1598.0 L306.0,1598.1 L307.0,1598.2 L308.0,1598.3 L309.0,1598.4 L310.0,1598.5 L311.0,1598.6 L312.0,1598.7 L313.0,1598.8 L314.0,1599.0 L315.0,1599.1 L316.0,1599.2 L317.0,1599.3 L318.0,1599.4 L319.0,1599.5 L320.0,1599.6 L321.0,1599.7 L322.0,1599.8 L323.0,1599.9 L324.0,1600.0 L325.0,1600.1 L326.0,1600.2 L327.0,1600.3 L328.0,1600.4 L329.0,1600.5 L330.0,1600.5 L331.0,1600.6 L332.0,1600.7 L333.0,1600.7 L334.0,1600.8 L335.0,1600.8 L336.0,1600.8 L337.0,1600.9 L338.0,1600.9 L339.0,1600.9 L340.0,1600.9 L341.0,1601.0 L342.0,1601.0 L343.0,1601.0 L344.0,1600.9 L345.0,1600.9 L346.0,1600.9 L347.0,1600.9 L348.0,1600.8 L349.0,1600.7 L350.0,1600.7 L351.0,1600.6 L352.0,1600.5 L353.0,1600.4 L354.0,1600.2 L355.0,1600.1 L356.0,1599.9 L357.0,1599.8 L358.0,1599.6 L359.0,1599.4 L360.0,1599.1 L361.0,1598.9 L362.0,1598.6 L363.0,1598.3 L364.0,1598.0 L365.0,1597.7 L366.0,1597.3 L367.0,1597.0 L368.0,1596.6 L369.0,1596.2 L370.0,1595.7 L371.0,1595.3 L372.0,1594.8 L373.0,1594.3 L374.0,1593.7 L375.0,1593.2 L376.0,1592.6 L377.0,1592.0 L378.0,1591.4 L379.0,1590.8 L380.0,1590.1 L381.0,1589.5 L382.0,1588.8 L383.0,1588.1 L384.0,1587.4 L385.0,1586.7 L386.0,1586.0 L387.0,1585.3 L388.0,1584.5 L389.0,1583.8 L390.0,1583.1 L391.0,1582.4 L392.0,1581.7 L393.0,1581.0 L394.0,1580.3 L395.0,1579.6 L396.0,1579.0 L397.0,1578.4 L398.0,1577.8 L399.0,1577.2 L400.0,1576.7 L401.0,1576.2 L402.0,1575.8 L403.0,1575.3 L404.0,1574.9 L405.0,1574.6 L406.0,1574.3 L407.0,1574.0 L408.0,1573.8 L409.0,1573.6 L410.0,1573.5 L411.0,1573.4 L412.0,1573.3 L413.0,1573.3 L414.0,1573.4 L415.0,1573.5 L416.0,1573.7 L417.0,1573.9 L418.0,1574.2 L419.0,1574.5 L420.0,1574.8 L421.0,1575.3 L422.0,1575.7 L423.0,1576.2 L424.0,1576.8 L425.0,1577.4 L426.0,1578.0 L427.0,1578.7 L428.0,1579.4 L429.0,1580.2 L430.0,1581.0 L431.0,1581.8 L432.0,1582.6 L433.0,1583.5 L434.0,1584.3 L435.0,1585.2 L436.0,1586.2 L437.0,1587.1 L438.0,1588.0 L439.0,1589.0 L440.0,1589.9 L441.0,1590.9 L442.0,1591.8 L443.0,1592.8 L444.0,1593.7 L445.0,1594.7 L446.0,1595.6 L447.0,1596.5 L448.0,1597.4 L449.0,1598.3 L450.0,1599.2 L451.0,1600.1 L452.0,1600.9 L453.0,1601.7 L454.0,1602.5 L455.0,1603.3 L456.0,1604.1 L457.0,1604.8 L458.0,1605.5 L459.0,1606.2 L460.0,1606.9 L461.0,1607.5 L462.0,1608.2 L463.0,1608.8 L464.0,1609.3 L465.0,1609.9 L466.0,1610.4 L467.0,1610.9 L468.0,1611.4 L469.0,1611.9 L470.0,1612.4 L471.0,1612.8 L472.0,1613.2 L473.0,1613.6 L474.0,1614.0 L475.0,1614.3 L476.0,1614.7 L477.0,1615.0 L478.0,1615.4 L479.0,1615.7 L480.0,1616.0 L481.0,1616.2 L482.0,1616.5 L483.0,1616.8 L484.0,1617.0 L485.0,1617.3 L486.0,1617.5 L487.0,1617.8 L488.0,1618.0 L489.0,1618.2 L490.0,1618.4 L491.0,1618.6 L492.0,1618.9 L493.0,1619.1 L494.0,1619.3 L495.0,1619.5 L496.0,1619.6 L497.0,1619.8 L498.0,1620.0 L499.0,1620.2 L500.0,1620.4 L501.0,1620.6 L502.0,1620.8 L503.0,1620.9 L504.0,1621.1 L505.0,1621.3 L506.0,1621.5 L507.0,1621.7 L508.0,1621.8 L509.0,1622.0 L510.0,1622.2 L511.0,1622.4 L512.0,1622.6 L513.0,1622.7 L514.0,1622.9 L515.0,1623.1 L516.0,1623.3 L517.0,1623.5 L518.0,1623.6 L519.0,1623.8 L520.0,1624.0 L521.0,1624.2 L522.0,1624.4 L523.0,1624.6 L524.0,1624.8 L525.0,1625.0" fill="none" stroke="#e0331f" stroke-width="3.8" stroke-linejoin="round" stroke-linecap="round" />
<path d="M315.7,1599.1 L316.7,1599.3 L317.7,1599.4 L318.7,1599.5 L319.7,1599.6 L320.7,1599.7 L321.7,1599.8 L322.7,1599.9 L323.7,1600.0 L324.7,1600.1 L325.7,1600.2 L326.7,1600.3 L327.7,1600.4 L328.7,1600.5 L329.7,1600.6 L330.7,1600.6 L331.7,1600.7 L332.7,1600.8 L333.7,1600.9 L334.7,1600.9 L335.7,1601.0 L336.7,1601.1 L337.7,1601.1 L338.7,1601.2 L339.7,1601.2 L340.7,1601.3 L341.7,1601.3 L342.7,1601.4 L343.7,1601.4 L344.7,1601.5 L345.7,1601.5 L346.7,1601.5 L347.7,1601.6 L348.7,1601.6 L349.7,1601.6 L350.7,1601.6 L351.7,1601.6 L352.7,1601.7 L353.7,1601.7 L354.7,1601.7 L355.7,1601.7 L356.7,1601.7 L357.7,1601.7 L358.7,1601.6 L359.7,1601.6 L360.7,1601.6 L361.7,1601.5 L362.7,1601.5 L363.7,1601.5 L364.7,1601.4 L365.7,1601.3 L366.7,1601.3 L367.7,1601.2 L368.7,1601.1 L369.7,1601.0 L370.7,1600.9 L371.7,1600.8 L372.7,1600.6 L373.7,1600.5 L374.7,1600.3 L375.7,1600.1 L376.7,1600.0 L377.7,1599.8 L378.7,1599.6 L379.7,1599.3 L380.7,1599.1 L381.7,1598.8 L382.7,1598.5 L383.7,1598.2 L384.7,1597.9 L385.7,1597.6 L386.7,1597.2 L387.7,1596.9 L388.7,1596.5 L389.7,1596.1 L390.7,1595.6 L391.7,1595.2 L392.7,1594.7 L393.7,1594.2 L394.7,1593.6 L395.7,1593.1 L396.7,1592.5 L397.7,1591.9 L398.7,1591.3 L399.7,1590.6 L400.7,1589.9 L401.7,1589.2 L402.7,1588.5 L403.7,1587.7 L404.7,1586.9 L405.7,1586.0 L406.7,1585.1 L407.7,1584.2 L408.7,1583.2 L409.7,1582.2 L410.7,1581.1 L411.7,1580.0 L412.7,1578.9 L413.7,1577.7 L414.7,1576.5 L415.7,1575.2 L416.7,1573.9 L417.7,1572.6 L418.7,1571.2 L419.7,1569.8 L420.7,1568.3 L421.7,1566.8 L422.7,1565.3 L423.7,1563.7 L424.7,1562.1 L425.7,1560.5 L426.7,1558.8 L427.7,1557.1 L428.7,1555.4 L429.7,1553.6 L430.7,1551.8 L431.7,1550.0 L432.7,1548.1 L433.7,1546.2 L434.7,1544.3 L435.7,1542.4 L436.7,1540.5 L437.7,1538.5 L438.7,1536.5 L439.7,1534.5 L440.7,1532.5 L441.7,1530.5 L442.7,1528.5 L443.7,1526.4 L444.7,1524.4 L445.7,1522.4 L446.7,1520.3 L447.7,1518.3 L448.7,1516.3 L449.7,1514.3 L450.7,1512.3 L451.7,1510.3 L452.7,1508.3 L453.7,1506.4 L454.7,1504.5 L455.7,1502.6 L456.7,1500.8 L457.7,1498.9 L458.7,1497.2 L459.7,1495.4 L460.7,1493.7 L461.7,1492.1 L462.7,1490.5 L463.7,1488.9 L464.7,1487.4 L465.7,1486.0 L466.7,1484.6 L467.7,1483.3 L468.7,1482.0 L469.7,1480.8 L470.7,1479.7 L471.7,1478.7 L472.7,1477.7 L473.7,1476.8 L474.7,1476.0 L475.7,1475.2 L476.7,1474.5 L477.7,1474.0 L478.7,1473.5 L479.7,1473.0 L480.7,1472.7 L481.7,1472.5 L482.7,1472.3 L483.7,1472.2 L484.7,1472.2 L485.7,1472.3 L486.7,1472.5 L487.7,1472.8 L488.7,1473.2 L489.7,1473.6 L490.7,1474.2 L491.7,1474.8 L492.7,1475.5 L493.7,1476.3 L494.7,1477.2 L495.7,1478.2 L496.7,1479.2 L497.7,1480.3 L498.7,1481.5 L499.7,1482.8 L500.7,1484.1 L501.7,1485.5 L502.7,1487.0 L503.7,1488.6 L504.7,1490.2 L505.7,1491.9 L506.7,1493.6 L507.7,1495.4 L508.7,1497.3 L509.7,1499.2 L510.7,1501.1 L511.7,1503.1 L512.7,1505.2 L513.7,1507.3 L514.7,1509.4 L515.7,1511.5 L516.7,1513.7 L517.7,1515.9 L518.7,1518.2 L519.7,1520.4 L520.7,1522.7 L521.7,1525.0 L522.7,1527.4 L523.7,1529.7 L524.7,1532.0 L525.7,1534.4 L526.7,1536.7 L527.7,1539.1 L528.7,1541.4 L529.7,1543.8 L530.7,1546.1 L531.7,1548.5 L532.7,1550.8 L533.7,1553.1 L534.7,1555.4 L535.7,1557.7 L536.7,1559.9 L537.7,1562.2 L538.7,1564.4 L539.7,1566.6 L540.7,1568.8 L541.7,1570.9 L542.7,1573.1 L543.7,1575.1 L544.7,1577.2 L545.7,1579.3 L546.7,1581.3 L547.7,1583.3 L548.7,1585.2 L549.7,1587.1 L550.7,1589.0 L551.7,1590.9 L552.7,1592.7 L553.7,1594.4 L554.7,1596.2 L555.7,1597.9 L556.7,1599.6 L557.7,1601.2 L558.7,1602.8 L559.7,1604.3 L560.7,1605.9 L561.7,1607.3 L562.7,1608.8 L563.7,1610.2 L564.7,1611.6 L565.7,1612.9 L566.7,1614.2 L567.7,1615.4 L568.7,1616.7 L569.7,1617.8 L570.7,1619.0 L571.7,1620.1 L572.7,1621.2 L573.7,1622.2 L574.7,1623.3 L575.7,1624.2 L576.7,1625.2 L577.7,1626.1 L578.7,1627.0 L579.7,1627.9 L580.7,1628.7 L581.7,1629.5 L582.7,1630.2 L583.7,1631.0 L584.7,1631.7 L585.7,1632.4 L586.7,1633.1 L587.7,1633.7 L588.7,1634.3 L589.7,1634.9 L590.7,1635.5 L591.7,1636.1 L592.7,1636.7 L593.7,1637.2 L594.7,1637.7 L595.7,1638.2 L596.7,1638.7 L597.7,1639.2 L598.7,1639.6 L599.7,1640.1 L600.7,1640.5 L601.7,1640.9 L602.7,1641.4 L603.7,1641.8 L604.7,1642.1 L605.7,1642.5 L606.7,1642.9 L607.7,1643.3 L608.7,1643.6 L609.7,1643.9 L610.7,1644.3 L611.7,1644.6 L612.7,1644.9 L613.7,1645.2 L614.7,1645.5 L615.7,1645.8 L616.7,1646.1 L617.7,1646.4 L618.7,1646.7 L619.7,1647.0 L620.7,1647.3 L621.7,1647.5 L622.7,1647.8 L623.7,1648.0 L624.7,1648.3 L625.7,1648.5 L626.7,1648.8 L627.7,1649.0 L628.7,1649.3 L629.7,1649.5 L630.7,1649.7 L631.7,1650.0 L632.7,1650.2 L633.7,1650.4 L634.7,1650.6 L635.7,1650.8 L636.7,1651.1 L637.7,1651.3 L638.7,1651.5 L639.7,1651.7 L640.7,1651.9 L641.7,1652.1 L642.7,1652.3 L643.7,1652.5 L644.7,1652.7 L645.7,1652.9 L646.7,1653.0 L647.7,1653.2 L648.7,1653.4 L649.7,1653.6 L650.7,1653.8 L651.7,1654.0 L652.7,1654.1 L653.7,1654.3 L654.7,1654.5 L655.7,1654.7" fill="none" stroke="#2a12c8" stroke-width="3.8" stroke-linejoin="round" stroke-linecap="round" />
<path d="M469.5,1616.1 L470.5,1616.2 L471.5,1616.4 L472.5,1616.5 L473.5,1616.6 L474.5,1616.8 L475.5,1616.9 L476.5,1617.0 L477.5,1617.2 L478.5,1617.3 L479.5,1617.4 L480.5,1617.6 L481.5,1617.7 L482.5,1617.8 L483.5,1618.0 L484.5,1618.1 L485.5,1618.2 L486.5,1618.3 L487.5,1618.5 L488.5,1618.6 L489.5,1618.7 L490.5,1618.8 L491.5,1618.9 L492.5,1619.0 L493.5,1619.0 L494.5,1619.1 L495.5,1619.1 L496.5,1619.1 L497.5,1619.1 L498.5,1619.1 L499.5,1619.0 L500.5,1618.9 L501.5,1618.8 L502.5,1618.7 L503.5,1618.5 L504.5,1618.2 L505.5,1618.0 L506.5,1617.6 L507.5,1617.3 L508.5,1616.8 L509.5,1616.4 L510.5,1615.8 L511.5,1615.3 L512.5,1614.6 L513.5,1614.0 L514.5,1613.3 L515.5,1612.5 L516.5,1611.7 L517.5,1610.9 L518.5,1610.1 L519.5,1609.2 L520.5,1608.3 L521.5,1607.5 L522.5,1606.6 L523.5,1605.8 L524.5,1605.0 L525.5,1604.2 L526.5,1603.5 L527.5,1602.9 L528.5,1602.3 L529.5,1601.8 L530.5,1601.4 L531.5,1601.1 L532.5,1601.0 L533.5,1600.9 L534.5,1600.9 L535.5,1601.1 L536.5,1601.3 L537.5,1601.7 L538.5,1602.2 L539.5,1602.8 L540.5,1603.5 L541.5,1604.3 L542.5,1605.2 L543.5,1606.2 L544.5,1607.3 L545.5,1608.4 L546.5,1609.6 L547.5,1610.9 L548.5,1612.1 L549.5,1613.4 L550.5,1614.7 L551.5,1616.0 L552.5,1617.3 L553.5,1618.6 L554.5,1619.9 L555.5,1621.1 L556.5,1622.3 L557.5,1623.5 L558.5,1624.6 L559.5,1625.7 L560.5,1626.7 L561.5,1627.7 L562.5,1628.6 L563.5,1629.5 L564.5,1630.3 L565.5,1631.1 L566.5,1631.8 L567.5,1632.5 L568.5,1633.1 L569.5,1633.7 L570.5,1634.3 L571.5,1634.8 L572.5,1635.3 L573.5,1635.7 L574.5,1636.2 L575.5,1636.6 L576.5,1637.0 L577.5,1637.3 L578.5,1637.7 L579.5,1638.0 L580.5,1638.3 L581.5,1638.6 L582.5,1638.9 L583.5,1639.2 L584.5,1639.4 L585.5,1639.7 L586.5,1640.0 L587.5,1640.2 L588.5,1640.5 L589.5,1640.7 L590.5,1641.0 L591.5,1641.2 L592.5,1641.4 L593.5,1641.7 L594.5,1641.9 L595.5,1642.2 L596.5,1642.4 L597.5,1642.6 L598.5,1642.9 L599.5,1643.1 L600.5,1643.3 L601.5,1643.6" fill="none" stroke="#e0331f" stroke-width="3.8" stroke-linejoin="round" stroke-linecap="round" />
<path d="M476.0,1617.0 L477.0,1617.1 L478.0,1617.2 L479.0,1617.4 L480.0,1617.5 L481.0,1617.7 L482.0,1617.8 L483.0,1617.9 L484.0,1618.1 L485.0,1618.2 L486.0,1618.4 L487.0,1618.5 L488.0,1618.6 L489.0,1618.8 L490.0,1618.9 L491.0,1619.1 L492.0,1619.2 L493.0,1619.3 L494.0,1619.5 L495.0,1619.6 L496.0,1619.7 L497.0,1619.9 L498.0,1620.0 L499.0,1620.1 L500.0,1620.2 L501.0,1620.4 L502.0,1620.5 L503.0,1620.6 L504.0,1620.7 L505.0,1620.8 L506.0,1620.8 L507.0,1620.9 L508.0,1621.0 L509.0,1621.0 L510.0,1621.1 L511.0,1621.1 L512.0,1621.1 L513.0,1621.1 L514.0,1621.1 L515.0,1621.0 L516.0,1620.9 L517.0,1620.9 L518.0,1620.7 L519.0,1620.6 L520.0,1620.4 L521.0,1620.2 L522.0,1620.0 L523.0,1619.7 L524.0,1619.5 L525.0,1619.1 L526.0,1618.8 L527.0,1618.3 L528.0,1617.9 L529.0,1617.4 L530.0,1616.9 L531.0,1616.3 L532.0,1615.7 L533.0,1615.0 L534.0,1614.3 L535.0,1613.5 L536.0,1612.7 L537.0,1611.9 L538.0,1611.0 L539.0,1610.0 L540.0,1609.1 L541.0,1608.0 L542.0,1607.0 L543.0,1605.9 L544.0,1604.8 L545.0,1603.6 L546.0,1602.4 L547.0,1601.3 L548.0,1600.0 L549.0,1598.8 L550.0,1597.6 L551.0,1596.4 L552.0,1595.1 L553.0,1593.9 L554.0,1592.7 L555.0,1591.5 L556.0,1590.4 L557.0,1589.2 L558.0,1588.1 L559.0,1587.1 L560.0,1586.1 L561.0,1585.2 L562.0,1584.3 L563.0,1583.5 L564.0,1582.8 L565.0,1582.1 L566.0,1581.5 L567.0,1581.1 L568.0,1580.7 L569.0,1580.4 L570.0,1580.2 L571.0,1580.1 L572.0,1580.1 L573.0,1580.2 L574.0,1580.4 L575.0,1580.7 L576.0,1581.2 L577.0,1581.7 L578.0,1582.3 L579.0,1583.0 L580.0,1583.9 L581.0,1584.8 L582.0,1585.8 L583.0,1586.9 L584.0,1588.0 L585.0,1589.3 L586.0,1590.6 L587.0,1592.0 L588.0,1593.4 L589.0,1595.0 L590.0,1596.5 L591.0,1598.1 L592.0,1599.7 L593.0,1601.4 L594.0,1603.1 L595.0,1604.8 L596.0,1606.5 L597.0,1608.2 L598.0,1610.0 L599.0,1611.7 L600.0,1613.4 L601.0,1615.1 L602.0,1616.8 L603.0,1618.4 L604.0,1620.0 L605.0,1621.6 L606.0,1623.1 L607.0,1624.7 L608.0,1626.1 L609.0,1627.5 L610.0,1628.9 L611.0,1630.3 L612.0,1631.5 L613.0,1632.8 L614.0,1634.0 L615.0,1635.1 L616.0,1636.2 L617.0,1637.2 L618.0,1638.2 L619.0,1639.2 L620.0,1640.1 L621.0,1641.0 L622.0,1641.8 L623.0,1642.6 L624.0,1643.3 L625.0,1644.0 L626.0,1644.7 L627.0,1645.3 L628.0,1645.9 L629.0,1646.4 L630.0,1647.0 L631.0,1647.5 L632.0,1647.9 L633.0,1648.4 L634.0,1648.8 L635.0,1649.2 L636.0,1649.6 L637.0,1650.0 L638.0,1650.3 L639.0,1650.6 L640.0,1650.9 L641.0,1651.2 L642.0,1651.5 L643.0,1651.8 L644.0,1652.1 L645.0,1652.3 L646.0,1652.6 L647.0,1652.8 L648.0,1653.0 L649.0,1653.2 L650.0,1653.5 L651.0,1653.7 L652.0,1653.9 L653.0,1654.1 L654.0,1654.3 L655.0,1654.5 L656.0,1654.7 L657.0,1654.9 L658.0,1655.1 L659.0,1655.2 L660.0,1655.4 L661.0,1655.6 L662.0,1655.8 L663.0,1656.0 L664.0,1656.2 L665.0,1656.4 L666.0,1656.5 L667.0,1656.7 L668.0,1656.9 L669.0,1657.1 L670.0,1657.3 L671.0,1657.4 L672.0,1657.6" fill="none" stroke="#2a12c8" stroke-width="3.8" stroke-linejoin="round" stroke-linecap="round" />
<path d="M468.0,1615.9 L469.0,1616.0 L470.0,1616.2 L471.0,1616.3 L472.0,1616.4 L473.0,1616.6 L474.0,1616.7 L475.0,1616.8 L476.0,1617.0 L477.0,1617.1 L478.0,1617.2 L479.0,1617.4 L480.0,1617.5 L481.0,1617.6 L482.0,1617.8 L483.0,1617.9 L484.0,1618.1 L485.0,1618.2 L486.0,1618.4 L487.0,1618.5 L488.0,1618.6 L489.0,1618.8 L490.0,1618.9 L491.0,1619.1 L492.0,1619.2 L493.0,1619.4 L494.0,1619.5 L495.0,1619.7 L496.0,1619.8 L497.0,1620.0 L498.0,1620.1 L499.0,1620.3 L500.0,1620.4 L501.0,1620.5 L502.0,1620.7 L503.0,1620.8 L504.0,1621.0 L505.0,1621.1 L506.0,1621.2 L507.0,1621.4 L508.0,1621.5 L509.0,1621.7 L510.0,1621.8 L511.0,1621.9 L512.0,1622.0 L513.0,1622.2 L514.0,1622.3 L515.0,1622.4 L516.0,1622.5 L517.0,1622.6 L518.0,1622.7 L519.0,1622.8 L520.0,1622.9 L521.0,1623.0 L522.0,1623.1 L523.0,1623.2 L524.0,1623.3 L525.0,1623.3 L526.0,1623.4 L527.0,1623.4 L528.0,1623.5 L529.0,1623.5 L530.0,1623.6 L531.0,1623.6 L532.0,1623.6 L533.0,1623.6 L534.0,1623.6 L535.0,1623.6 L536.0,1623.6 L537.0,1623.6 L538.0,1623.5 L539.0,1623.5 L540.0,1623.4 L541.0,1623.4 L542.0,1623.3 L543.0,1623.2 L544.0,1623.2 L545.0,1623.1 L546.0,1623.0 L547.0,1622.9 L548.0,1622.8 L549.0,1622.7 L550.0,1622.5 L551.0,1622.4 L552.0,1622.3 L553.0,1622.1 L554.0,1622.0 L555.0,1621.8 L556.0,1621.6 L557.0,1621.5 L558.0,1621.3 L559.0,1621.1 L560.0,1621.0 L561.0,1620.8 L562.0,1620.6 L563.0,1620.4 L564.0,1620.2 L565.0,1620.0 L566.0,1619.8 L567.0,1619.7 L568.0,1619.5 L569.0,1619.3 L570.0,1619.1 L571.0,1619.0 L572.0,1618.8 L573.0,1618.6 L574.0,1618.5 L575.0,1618.4 L576.0,1618.2 L577.0,1618.1 L578.0,1618.0 L579.0,1617.9 L580.0,1617.8 L581.0,1617.8 L582.0,1617.7 L583.0,1617.7 L584.0,1617.7 L585.0,1617.7 L586.0,1617.7 L587.0,1617.8 L588.0,1617.8 L589.0,1617.9 L590.0,1618.1 L591.0,1618.2 L592.0,1618.4 L593.0,1618.6 L594.0,1618.8 L595.0,1619.1 L596.0,1619.3 L597.0,1619.6 L598.0,1620.0 L599.0,1620.3 L600.0,1620.7 L601.0,1621.1 L602.0,1621.5 L603.0,1621.9 L604.0,1622.4 L605.0,1622.9 L606.0,1623.4 L607.0,1623.9 L608.0,1624.4 L609.0,1625.0 L610.0,1625.6 L611.0,1626.2 L612.0,1626.8 L613.0,1627.4 L614.0,1628.0 L615.0,1628.6 L616.0,1629.3 L617.0,1629.9 L618.0,1630.6 L619.0,1631.3 L620.0,1632.0 L621.0,1632.6 L622.0,1633.3 L623.0,1634.0 L624.0,1634.7 L625.0,1635.3 L626.0,1636.0 L627.0,1636.7 L628.0,1637.4 L629.0,1638.0 L630.0,1638.7 L631.0,1639.3 L632.0,1640.0 L633.0,1640.6 L634.0,1641.2 L635.0,1641.8 L636.0,1642.5 L637.0,1643.0 L638.0,1643.6 L639.0,1644.2 L640.0,1644.8 L641.0,1645.3 L642.0,1645.9 L643.0,1646.4 L644.0,1646.9 L645.0,1647.4 L646.0,1647.9 L647.0,1648.3 L648.0,1648.8 L649.0,1649.2 L650.0,1649.7 L651.0,1650.1 L652.0,1650.5 L653.0,1650.9 L654.0,1651.3 L655.0,1651.7 L656.0,1652.0 L657.0,1652.4 L658.0,1652.8 L659.0,1653.1 L660.0,1653.4 L661.0,1653.8 L662.0,1654.1 L663.0,1654.4 L664.0,1654.7 L665.0,1655.0 L666.0,1655.3 L667.0,1655.6 L668.0,1655.8 L669.0,1656.1 L670.0,1656.3 L671.0,1656.6 L672.0,1656.8 L673.0,1657.1 L674.0,1657.3 L675.0,1657.5 L676.0,1657.7 L677.0,1658.0 L678.0,1658.2 L679.0,1658.4 L680.0,1658.6 L681.0,1658.7 L682.0,1658.9 L683.0,1659.1 L684.0,1659.3 L685.0,1659.4 L686.0,1659.6 L687.0,1659.8 L688.0,1659.9 L689.0,1660.1 L690.0,1660.2 L691.0,1660.3 L692.0,1660.5 L693.0,1660.6 L694.0,1660.7 L695.0,1660.9 L696.0,1661.0 L697.0,1661.1 L698.0,1661.2 L699.0,1661.3 L700.0,1661.4 L701.0,1661.4 L702.0,1661.5 L703.0,1661.6 L704.0,1661.7 L705.0,1661.7 L706.0,1661.8 L707.0,1661.9 L708.0,1661.9 L709.0,1662.0 L710.0,1662.0 L711.0,1662.1 L712.0,1662.2 L713.0,1662.2 L714.0,1662.3 L715.0,1662.3 L716.0,1662.4 L717.0,1662.4 L718.0,1662.5 L719.0,1662.5 L720.0,1662.6" fill="none" stroke="#e0331f" stroke-width="3.8" stroke-linejoin="round" stroke-linecap="round" />
<path d="M656.5,1654.9 L657.5,1655.0 L658.5,1655.2 L659.5,1655.4 L660.5,1655.6 L661.5,1655.8 L662.5,1655.9 L663.5,1656.1 L664.5,1656.2 L665.5,1656.3 L666.5,1656.4 L667.5,1656.2 L668.5,1655.9 L669.5,1655.1 L670.5,1653.8 L671.5,1651.9 L672.5,1649.3 L673.5,1646.0 L674.5,1642.3 L675.5,1638.6 L676.5,1635.4 L677.5,1633.3 L678.5,1632.7 L679.5,1633.7 L680.5,1636.1 L681.5,1639.5 L682.5,1643.5 L683.5,1647.6 L684.5,1651.2 L685.5,1654.1 L686.5,1656.4 L687.5,1658.0 L688.5,1659.0 L689.5,1659.7 L690.5,1660.1 L691.5,1660.4 L692.5,1660.6 L693.5,1660.7 L694.5,1660.9 L695.5,1661.0 L696.5,1661.1 L697.5,1661.2 L698.5,1661.3 L699.5,1661.4 L700.5,1661.4" fill="none" stroke="#55c01e" stroke-width="2.2" stroke-linejoin="round" stroke-linecap="round" />
<path d="M702.0,1661.6 L703.0,1661.6 L704.0,1661.7 L705.0,1661.8 L706.0,1661.8 L707.0,1661.9 L708.0,1661.9 L709.0,1662.0 L710.0,1661.9 L711.0,1661.9 L712.0,1661.7 L713.0,1661.3 L714.0,1660.5 L715.0,1659.2 L716.0,1657.1 L717.0,1654.0 L718.0,1649.7 L719.0,1644.0 L720.0,1637.1 L721.0,1629.2 L722.0,1620.9 L723.0,1613.1 L724.0,1606.6 L725.0,1602.3 L726.0,1600.8 L727.0,1602.4 L728.0,1606.7 L729.0,1613.3 L730.0,1621.2 L731.0,1629.6 L732.0,1637.6 L733.0,1644.6 L734.0,1650.4 L735.0,1654.8 L736.0,1658.0 L737.0,1660.1 L738.0,1661.5 L739.0,1662.4 L740.0,1662.9 L741.0,1663.1 L742.0,1663.3 L743.0,1663.4 L744.0,1663.5 L745.0,1663.5 L746.0,1663.5 L747.0,1663.6 L748.0,1663.6 L749.0,1663.6 L750.0,1663.7" fill="none" stroke="#55c01e" stroke-width="2.2" stroke-linejoin="round" stroke-linecap="round" />
<path d="M737.0,1663.2 L738.0,1663.3 L739.0,1663.3 L740.0,1663.3 L741.0,1663.4 L742.0,1663.4 L743.0,1663.4 L744.0,1663.4 L745.0,1663.4 L746.0,1663.4 L747.0,1663.2 L748.0,1663.0 L749.0,1662.5 L750.0,1661.8 L751.0,1660.5 L752.0,1658.7 L753.0,1656.2 L754.0,1652.7 L755.0,1648.2 L756.0,1642.8 L757.0,1636.6 L758.0,1629.9 L759.0,1623.3 L760.0,1617.2 L761.0,1612.3 L762.0,1609.1 L763.0,1608.0 L764.0,1609.2 L765.0,1612.4 L766.0,1617.4 L767.0,1623.5 L768.0,1630.2 L769.0,1637.0 L770.0,1643.2 L771.0,1648.7 L772.0,1653.2 L773.0,1656.8 L774.0,1659.4 L775.0,1661.3 L776.0,1662.5 L777.0,1663.4 L778.0,1663.9 L779.0,1664.2 L780.0,1664.4 L781.0,1664.5 L782.0,1664.6 L783.0,1664.7 L784.0,1664.7 L785.0,1664.8 L786.0,1664.8 L787.0,1664.8 L788.0,1664.9 L789.0,1664.9" fill="none" stroke="#55c01e" stroke-width="2.2" stroke-linejoin="round" stroke-linecap="round" />
<path d="M669.8,1657.2 L670.8,1657.4 L671.8,1657.6 L672.8,1657.7 L673.8,1657.9 L674.8,1658.1 L675.8,1658.2 L676.8,1658.4 L677.8,1658.6 L678.8,1658.7 L679.8,1658.9 L680.8,1659.0 L681.8,1659.2 L682.8,1659.3 L683.8,1659.5 L684.8,1659.6 L685.8,1659.7 L686.8,1659.9 L687.8,1660.0 L688.8,1660.1 L689.8,1660.2 L690.8,1660.4 L691.8,1660.5 L692.8,1660.6 L693.8,1660.7 L694.8,1660.8 L695.8,1660.9 L696.8,1660.9 L697.8,1661.0 L698.8,1661.1 L699.8,1661.2 L700.8,1661.2 L701.8,1661.3 L702.8,1661.3 L703.8,1661.3 L704.8,1661.4 L705.8,1661.4 L706.8,1661.4 L707.8,1661.4 L708.8,1661.4 L709.8,1661.4 L710.8,1661.4 L711.8,1661.4 L712.8,1661.4 L713.8,1661.4 L714.8,1661.4 L715.8,1661.3 L716.8,1661.3 L717.8,1661.2 L718.8,1661.2 L719.8,1661.1 L720.8,1661.0 L721.8,1660.9 L722.8,1660.8 L723.8,1660.7 L724.8,1660.6 L725.8,1660.5 L726.8,1660.3 L727.8,1660.2 L728.8,1660.0 L729.8,1659.8 L730.8,1659.6 L731.8,1659.4 L732.8,1659.2 L733.8,1658.9 L734.8,1658.7 L735.8,1658.4 L736.8,1658.1 L737.8,1657.8 L738.8,1657.5 L739.8,1657.1 L740.8,1656.7 L741.8,1656.4 L742.8,1656.0 L743.8,1655.5 L744.8,1655.1 L745.8,1654.6 L746.8,1654.1 L747.8,1653.6 L748.8,1653.1 L749.8,1652.6 L750.8,1652.0 L751.8,1651.4 L752.8,1650.8 L753.8,1650.2 L754.8,1649.6 L755.8,1648.9 L756.8,1648.2 L757.8,1647.5 L758.8,1646.8 L759.8,1646.1 L760.8,1645.3 L761.8,1644.6 L762.8,1643.8 L763.8,1643.0 L764.8,1642.2 L765.8,1641.4 L766.8,1640.6 L767.8,1639.8 L768.8,1638.9 L769.8,1638.1 L770.8,1637.2 L771.8,1636.4 L772.8,1635.6 L773.8,1634.7 L774.8,1633.9 L775.8,1633.1 L776.8,1632.2 L777.8,1631.4 L778.8,1630.6 L779.8,1629.9 L780.8,1629.1 L781.8,1628.3 L782.8,1627.6 L783.8,1626.9 L784.8,1626.2 L785.8,1625.5 L786.8,1624.9 L787.8,1624.3 L788.8,1623.7 L789.8,1623.1 L790.8,1622.6 L791.8,1622.2 L792.8,1621.7 L793.8,1621.3 L794.8,1620.9 L795.8,1620.6 L796.8,1620.3 L797.8,1620.1 L798.8,1619.9 L799.8,1619.7 L800.8,1619.6 L801.8,1619.5 L802.8,1619.5 L803.8,1619.5 L804.8,1619.6 L805.8,1619.7 L806.8,1619.8 L807.8,1620.0 L808.8,1620.3 L809.8,1620.5 L810.8,1620.9 L811.8,1621.2 L812.8,1621.6 L813.8,1622.1 L814.8,1622.6 L815.8,1623.1 L816.8,1623.7 L817.8,1624.3 L818.8,1624.9 L819.8,1625.5 L820.8,1626.2 L821.8,1626.9 L822.8,1627.7 L823.8,1628.5 L824.8,1629.2 L825.8,1630.1 L826.8,1630.9 L827.8,1631.7 L828.8,1632.6 L829.8,1633.5 L830.8,1634.4 L831.8,1635.3 L832.8,1636.2 L833.8,1637.1 L834.8,1638.0 L835.8,1638.9 L836.8,1639.8 L837.8,1640.7 L838.8,1641.7 L839.8,1642.6 L840.8,1643.5 L841.8,1644.4 L842.8,1645.3 L843.8,1646.1 L844.8,1647.0 L845.8,1647.9 L846.8,1648.7 L847.8,1649.5 L848.8,1650.3 L849.8,1651.1 L850.8,1651.9 L851.8,1652.7 L852.8,1653.4 L853.8,1654.2 L854.8,1654.9 L855.8,1655.6 L856.8,1656.2 L857.8,1656.9 L858.8,1657.5 L859.8,1658.1 L860.8,1658.7 L861.8,1659.3 L862.8,1659.9 L863.8,1660.4 L864.8,1660.9 L865.8,1661.4 L866.8,1661.9 L867.8,1662.4 L868.8,1662.9 L869.8,1663.3 L870.8,1663.7 L871.8,1664.2 L872.8,1664.6 L873.8,1665.0 L874.8,1665.4 L875.8,1665.7 L876.8,1666.1 L877.8,1666.4 L878.8,1666.8 L879.8,1667.1 L880.8,1667.4 L881.8,1667.7 L882.8,1668.0 L883.8,1668.3 L884.8,1668.6 L885.8,1668.9 L886.8,1669.1 L887.8,1669.4 L888.8,1669.6 L889.8,1669.9 L890.8,1670.1 L891.8,1670.4 L892.8,1670.6 L893.8,1670.8 L894.8,1671.0 L895.8,1671.2 L896.8,1671.4 L897.8,1671.6 L898.8,1671.8 L899.8,1672.0 L900.8,1672.2 L901.8,1672.4 L902.8,1672.6 L903.8,1672.7 L904.8,1672.9 L905.8,1673.1 L906.8,1673.2 L907.8,1673.4 L908.8,1673.5 L909.8,1673.7 L910.8,1673.8 L911.8,1674.0 L912.8,1674.1 L913.8,1674.2 L914.8,1674.4 L915.8,1674.5 L916.8,1674.6 L917.8,1674.7 L918.8,1674.8 L919.8,1675.0 L920.8,1675.1 L921.8,1675.2 L922.8,1675.3 L923.8,1675.4 L924.8,1675.5 L925.8,1675.6 L926.8,1675.8 L927.8,1675.9 L928.8,1676.0 L929.8,1676.1 L930.8,1676.2 L931.8,1676.3 L932.8,1676.4 L933.8,1676.5 L934.8,1676.6 L935.8,1676.7 L936.8,1676.8 L937.8,1676.9" fill="none" stroke="#e0331f" stroke-width="3.8" stroke-linejoin="round" stroke-linecap="round" />
<path d="M698.0,1661.2 L699.0,1661.3 L700.0,1661.4 L701.0,1661.4 L702.0,1661.5 L703.0,1661.6 L704.0,1661.6 L705.0,1661.7 L706.0,1661.7 L707.0,1661.8 L708.0,1661.8 L709.0,1661.9 L710.0,1661.9 L711.0,1662.0 L712.0,1662.0 L713.0,1662.0 L714.0,1662.1 L715.0,1662.1 L716.0,1662.1 L717.0,1662.1 L718.0,1662.2 L719.0,1662.2 L720.0,1662.2 L721.0,1662.2 L722.0,1662.2 L723.0,1662.2 L724.0,1662.2 L725.0,1662.2 L726.0,1662.2 L727.0,1662.2 L728.0,1662.1 L729.0,1662.1 L730.0,1662.1 L731.0,1662.0 L732.0,1662.0 L733.0,1661.9 L734.0,1661.8 L735.0,1661.8 L736.0,1661.7 L737.0,1661.6 L738.0,1661.5 L739.0,1661.4 L740.0,1661.2 L741.0,1661.1 L742.0,1661.0 L743.0,1660.8 L744.0,1660.6 L745.0,1660.4 L746.0,1660.2 L747.0,1660.0 L748.0,1659.7 L749.0,1659.5 L750.0,1659.2 L751.0,1658.9 L752.0,1658.6 L753.0,1658.2 L754.0,1657.8 L755.0,1657.4 L756.0,1657.0 L757.0,1656.6 L758.0,1656.1 L759.0,1655.6 L760.0,1655.0 L761.0,1654.5 L762.0,1653.8 L763.0,1653.2 L764.0,1652.5 L765.0,1651.8 L766.0,1651.0 L767.0,1650.2 L768.0,1649.4 L769.0,1648.5 L770.0,1647.6 L771.0,1646.6 L772.0,1645.6 L773.0,1644.5 L774.0,1643.4 L775.0,1642.2 L776.0,1640.9 L777.0,1639.7 L778.0,1638.3 L779.0,1636.9 L780.0,1635.4 L781.0,1633.9 L782.0,1632.3 L783.0,1630.7 L784.0,1628.9 L785.0,1627.1 L786.0,1625.3 L787.0,1623.4 L788.0,1621.4 L789.0,1619.3 L790.0,1617.2 L791.0,1615.0 L792.0,1612.8 L793.0,1610.4 L794.0,1608.0 L795.0,1605.6 L796.0,1603.0 L797.0,1600.4 L798.0,1597.7 L799.0,1595.0 L800.0,1592.2 L801.0,1589.3 L802.0,1586.4 L803.0,1583.3 L804.0,1580.3 L805.0,1577.1 L806.0,1574.0 L807.0,1570.7 L808.0,1567.4 L809.0,1564.1 L810.0,1560.7 L811.0,1557.2 L812.0,1553.8 L813.0,1550.3 L814.0,1546.7 L815.0,1543.1 L816.0,1539.5 L817.0,1535.9 L818.0,1532.2 L819.0,1528.6 L820.0,1524.9 L821.0,1521.2 L822.0,1517.5 L823.0,1513.9 L824.0,1510.2 L825.0,1506.6 L826.0,1502.9 L827.0,1499.3 L828.0,1495.8 L829.0,1492.3 L830.0,1488.8 L831.0,1485.3 L832.0,1481.9 L833.0,1478.6 L834.0,1475.4 L835.0,1472.2 L836.0,1469.0 L837.0,1466.0 L838.0,1463.1 L839.0,1460.2 L840.0,1457.5 L841.0,1454.8 L842.0,1452.2 L843.0,1449.8 L844.0,1447.5 L845.0,1445.3 L846.0,1443.2 L847.0,1441.3 L848.0,1439.5 L849.0,1437.8 L850.0,1436.2 L851.0,1434.8 L852.0,1433.6 L853.0,1432.5 L854.0,1431.6 L855.0,1430.8 L856.0,1430.1 L857.0,1429.6 L858.0,1429.3 L859.0,1429.1 L860.0,1429.1 L861.0,1429.2 L862.0,1429.5 L863.0,1430.0 L864.0,1430.6 L865.0,1431.4 L866.0,1432.3 L867.0,1433.4 L868.0,1434.6 L869.0,1436.0 L870.0,1437.5 L871.0,1439.2 L872.0,1441.0 L873.0,1443.0 L874.0,1445.1 L875.0,1447.3 L876.0,1449.7 L877.0,1452.2 L878.0,1454.8 L879.0,1457.5 L880.0,1460.3 L881.0,1463.2 L882.0,1466.3 L883.0,1469.4 L884.0,1472.6 L885.0,1475.9 L886.0,1479.2 L887.0,1482.7 L888.0,1486.2 L889.0,1489.7 L890.0,1493.4 L891.0,1497.0 L892.0,1500.7 L893.0,1504.5 L894.0,1508.3 L895.0,1512.1 L896.0,1515.9 L897.0,1519.7 L898.0,1523.6 L899.0,1527.5 L900.0,1531.3 L901.0,1535.2 L902.0,1539.0 L903.0,1542.8 L904.0,1546.6 L905.0,1550.4 L906.0,1554.2 L907.0,1557.9 L908.0,1561.6 L909.0,1565.2 L910.0,1568.8 L911.0,1572.4 L912.0,1575.9 L913.0,1579.3 L914.0,1582.7 L915.0,1586.1 L916.0,1589.4 L917.0,1592.6 L918.0,1595.7 L919.0,1598.8 L920.0,1601.9 L921.0,1604.8 L922.0,1607.7 L923.0,1610.5 L924.0,1613.3 L925.0,1616.0 L926.0,1618.6 L927.0,1621.2 L928.0,1623.6 L929.0,1626.0 L930.0,1628.4 L931.0,1630.7 L932.0,1632.9 L933.0,1635.0 L934.0,1637.1 L935.0,1639.0 L936.0,1641.0 L937.0,1642.8 L938.0,1644.6 L939.0,1646.4 L940.0,1648.0 L941.0,1649.6 L942.0,1651.2 L943.0,1652.7 L944.0,1654.1 L945.0,1655.5 L946.0,1656.8 L947.0,1658.1 L948.0,1659.3 L949.0,1660.4 L950.0,1661.5 L951.0,1662.6 L952.0,1663.6 L953.0,1664.6 L954.0,1665.5 L955.0,1666.4 L956.0,1667.3 L957.0,1668.1 L958.0,1668.9 L959.0,1669.6 L960.0,1670.3 L961.0,1671.0 L962.0,1671.6 L963.0,1672.2 L964.0,1672.8 L965.0,1673.3 L966.0,1673.9 L967.0,1674.4 L968.0,1674.8 L969.0,1675.3 L970.0,1675.7 L971.0,1676.1 L972.0,1676.5 L973.0,1676.9 L974.0,1677.2 L975.0,1677.6 L976.0,1677.9 L977.0,1678.2 L978.0,1678.5 L979.0,1678.8 L980.0,1679.0 L981.0,1679.3 L982.0,1679.5 L983.0,1679.8 L984.0,1680.0 L985.0,1680.2 L986.0,1680.4 L987.0,1680.6 L988.0,1680.8 L989.0,1680.9 L990.0,1681.1 L991.0,1681.3 L992.0,1681.4 L993.0,1681.6 L994.0,1681.7 L995.0,1681.9 L996.0,1682.0" fill="none" stroke="#2a12c8" stroke-width="3.8" stroke-linejoin="round" stroke-linecap="round" />
<path d="M866.0,1668.5 L867.0,1668.6 L868.0,1668.6 L869.0,1668.7 L870.0,1668.8 L871.0,1668.9 L872.0,1669.0 L873.0,1669.1 L874.0,1669.1 L875.0,1669.2 L876.0,1669.3 L877.0,1669.4 L878.0,1669.4 L879.0,1669.5 L880.0,1669.5 L881.0,1669.5 L882.0,1669.5 L883.0,1669.5 L884.0,1669.3 L885.0,1669.2 L886.0,1668.9 L887.0,1668.6 L888.0,1668.1 L889.0,1667.6 L890.0,1666.9 L891.0,1666.0 L892.0,1665.0 L893.0,1663.7 L894.0,1662.2 L895.0,1660.5 L896.0,1658.6 L897.0,1656.4 L898.0,1653.9 L899.0,1651.2 L900.0,1648.2 L901.0,1645.1 L902.0,1641.7 L903.0,1638.1 L904.0,1634.5 L905.0,1630.8 L906.0,1627.1 L907.0,1623.4 L908.0,1619.9 L909.0,1616.6 L910.0,1613.6 L911.0,1610.9 L912.0,1608.6 L913.0,1606.8 L914.0,1605.5 L915.0,1604.8 L916.0,1604.6 L917.0,1605.0 L918.0,1606.0 L919.0,1607.5 L920.0,1609.5 L921.0,1612.0 L922.0,1614.9 L923.0,1618.2 L924.0,1621.7 L925.0,1625.5 L926.0,1629.4 L927.0,1633.3 L928.0,1637.3 L929.0,1641.2 L930.0,1645.0 L931.0,1648.6 L932.0,1652.0 L933.0,1655.2 L934.0,1658.2 L935.0,1660.9 L936.0,1663.4 L937.0,1665.6 L938.0,1667.5 L939.0,1669.2 L940.0,1670.7 L941.0,1672.0 L942.0,1673.1 L943.0,1674.1 L944.0,1674.9 L945.0,1675.5 L946.0,1676.1 L947.0,1676.6 L948.0,1677.0 L949.0,1677.3 L950.0,1677.6 L951.0,1677.9 L952.0,1678.1 L953.0,1678.3 L954.0,1678.4 L955.0,1678.6 L956.0,1678.7 L957.0,1678.9 L958.0,1679.0 L959.0,1679.1 L960.0,1679.2 L961.0,1679.3 L962.0,1679.4 L963.0,1679.5 L964.0,1679.6 L965.0,1679.7 L966.0,1679.8" fill="none" stroke="#e0331f" stroke-width="3.8" stroke-linejoin="round" stroke-linecap="round" />
<path d="M868.0,1668.6 L869.0,1668.7 L870.0,1668.8 L871.0,1668.9 L872.0,1669.0 L873.0,1669.1 L874.0,1669.1 L875.0,1669.2 L876.0,1669.3 L877.0,1669.4 L878.0,1669.5 L879.0,1669.6 L880.0,1669.7 L881.0,1669.8 L882.0,1669.9 L883.0,1670.0 L884.0,1670.0 L885.0,1670.1 L886.0,1670.1 L887.0,1670.2 L888.0,1670.2 L889.0,1670.2 L890.0,1670.2 L891.0,1670.1 L892.0,1670.1 L893.0,1670.0 L894.0,1669.8 L895.0,1669.7 L896.0,1669.5 L897.0,1669.2 L898.0,1668.8 L899.0,1668.5 L900.0,1668.0 L901.0,1667.5 L902.0,1666.8 L903.0,1666.1 L904.0,1665.3 L905.0,1664.4 L906.0,1663.3 L907.0,1662.2 L908.0,1660.9 L909.0,1659.5 L910.0,1657.9 L911.0,1656.1 L912.0,1654.3 L913.0,1652.2 L914.0,1650.0 L915.0,1647.6 L916.0,1645.0 L917.0,1642.3 L918.0,1639.4 L919.0,1636.3 L920.0,1633.0 L921.0,1629.6 L922.0,1626.1 L923.0,1622.4 L924.0,1618.6 L925.0,1614.6 L926.0,1610.6 L927.0,1606.5 L928.0,1602.3 L929.0,1598.1 L930.0,1593.9 L931.0,1589.7 L932.0,1585.5 L933.0,1581.4 L934.0,1577.4 L935.0,1573.5 L936.0,1569.8 L937.0,1566.3 L938.0,1562.9 L939.0,1559.8 L940.0,1557.0 L941.0,1554.4 L942.0,1552.2 L943.0,1550.2 L944.0,1548.7 L945.0,1547.4 L946.0,1546.6 L947.0,1546.1 L948.0,1546.0 L949.0,1546.3 L950.0,1546.8 L951.0,1547.5 L952.0,1548.6 L953.0,1549.9 L954.0,1551.4 L955.0,1553.2 L956.0,1555.3 L957.0,1557.5 L958.0,1560.0 L959.0,1562.6 L960.0,1565.5 L961.0,1568.5 L962.0,1571.6 L963.0,1574.9 L964.0,1578.3 L965.0,1581.8 L966.0,1585.4 L967.0,1589.0 L968.0,1592.7 L969.0,1596.4 L970.0,1600.1 L971.0,1603.9 L972.0,1607.6 L973.0,1611.3 L974.0,1614.9 L975.0,1618.5 L976.0,1622.0 L977.0,1625.5 L978.0,1628.9 L979.0,1632.1 L980.0,1635.3 L981.0,1638.4 L982.0,1641.3 L983.0,1644.2 L984.0,1646.9 L985.0,1649.5 L986.0,1652.0 L987.0,1654.3 L988.0,1656.6 L989.0,1658.7 L990.0,1660.7 L991.0,1662.6 L992.0,1664.3 L993.0,1666.0 L994.0,1667.6 L995.0,1669.0 L996.0,1670.3" fill="none" stroke="#2a12c8" stroke-width="3.8" stroke-linejoin="round" stroke-linecap="round" />
<path d="M155.0,1596.0 L156.0,1596.0 L157.0,1596.0 L158.0,1596.0 L159.0,1596.0 L160.0,1596.0 L161.0,1596.0 L162.0,1596.0 L163.0,1596.0 L164.0,1596.0 L165.0,1596.0 L166.0,1596.0 L167.0,1596.0 L168.0,1596.0 L169.0,1596.0 L170.0,1596.0 L171.0,1596.0 L172.0,1596.0 L173.0,1596.0 L174.0,1596.0 L175.0,1596.0 L176.0,1596.0 L177.0,1596.0 L178.0,1596.0 L179.0,1596.0 L180.0,1596.0 L181.0,1596.0 L182.0,1596.0 L183.0,1596.0 L184.0,1596.1 L185.0,1596.1 L186.0,1596.1 L187.0,1596.1 L188.0,1596.1 L189.0,1596.1 L190.0,1596.1 L191.0,1596.1 L192.0,1596.1 L193.0,1596.1 L194.0,1596.1 L195.0,1596.1 L196.0,1596.1 L197.0,1596.1 L198.0,1596.1 L199.0,1596.1 L200.0,1596.1 L201.0,1596.1 L202.0,1596.1 L203.0,1596.1 L204.0,1596.1 L205.0,1596.2 L206.0,1596.2 L207.0,1596.2 L208.0,1596.2 L209.0,1596.2 L210.0,1596.2 L211.0,1596.2 L212.0,1596.2 L213.0,1596.2 L214.0,1596.2 L215.0,1596.2 L216.0,1596.2 L217.0,1596.2 L218.0,1596.2 L219.0,1596.3 L220.0,1596.3 L221.0,1596.3 L222.0,1596.3 L223.0,1596.3 L224.0,1596.3 L225.0,1596.3 L226.0,1596.3 L227.0,1596.3 L228.0,1596.3 L229.0,1596.3 L230.0,1596.4 L231.0,1596.4 L232.0,1596.4 L233.0,1596.4 L234.0,1596.4 L235.0,1596.4 L236.0,1596.4 L237.0,1596.4 L238.0,1596.4 L239.0,1596.5 L240.0,1596.5 L241.0,1596.5 L242.0,1596.5 L243.0,1596.5 L244.0,1596.5 L245.0,1596.5 L246.0,1596.5 L247.0,1596.5 L248.0,1596.6 L249.0,1596.6 L250.0,1596.6 L251.0,1596.6 L252.0,1596.6 L253.0,1596.6 L254.0,1596.6 L255.0,1596.7 L256.0,1596.7 L257.0,1596.7 L258.0,1596.7 L259.0,1596.7 L260.0,1596.7 L261.0,1596.7 L262.0,1596.8 L263.0,1596.8 L264.0,1596.8 L265.0,1596.8 L266.0,1596.8 L267.0,1596.8 L268.0,1596.8 L269.0,1596.9 L270.0,1596.9 L271.0,1596.9 L272.0,1596.9 L273.0,1596.9 L274.0,1596.9 L275.0,1597.0 L276.0,1597.0 L277.0,1597.0 L278.0,1597.0 L279.0,1597.0 L280.0,1597.1 L281.0,1597.1 L282.0,1597.1 L283.0,1597.1 L284.0,1597.1 L285.0,1597.1 L286.0,1597.2 L287.0,1597.2 L288.0,1597.2 L289.0,1597.2 L290.0,1597.2 L291.0,1597.3 L292.0,1597.3 L293.0,1597.3 L294.0,1597.3 L295.0,1597.4 L296.0,1597.4 L297.0,1597.4 L298.0,1597.5 L299.0,1597.6 L300.0,1597.6 L301.0,1597.7 L302.0,1597.8 L303.0,1597.8 L304.0,1597.9 L305.0,1598.0 L306.0,1598.1 L307.0,1598.2 L308.0,1598.3 L309.0,1598.4 L310.0,1598.5 L311.0,1598.6 L312.0,1598.8 L313.0,1598.9 L314.0,1599.0 L315.0,1599.1 L316.0,1599.2 L317.0,1599.3 L318.0,1599.4 L319.0,1599.6 L320.0,1599.7 L321.0,1599.8 L322.0,1599.9 L323.0,1600.0 L324.0,1600.1 L325.0,1600.2 L326.0,1600.3 L327.0,1600.4 L328.0,1600.5 L329.0,1600.6 L330.0,1600.7 L331.0,1600.8 L332.0,1600.9 L333.0,1601.0 L334.0,1601.0 L335.0,1601.1 L336.0,1601.2 L337.0,1601.3 L338.0,1601.4 L339.0,1601.4 L340.0,1601.5 L341.0,1601.6 L342.0,1601.7 L343.0,1601.7 L344.0,1601.8 L345.0,1601.9 L346.0,1601.9 L347.0,1602.0 L348.0,1602.1 L349.0,1602.2 L350.0,1602.2 L351.0,1602.3 L352.0,1602.4 L353.0,1602.4 L354.0,1602.5 L355.0,1602.6 L356.0,1602.7 L357.0,1602.7 L358.0,1602.8 L359.0,1602.9 L360.0,1602.9 L361.0,1603.0 L362.0,1603.1 L363.0,1603.2 L364.0,1603.2 L365.0,1603.3 L366.0,1603.4 L367.0,1603.4 L368.0,1603.5 L369.0,1603.6 L370.0,1603.7 L371.0,1603.8 L372.0,1603.8 L373.0,1603.9 L374.0,1604.0 L375.0,1604.1 L376.0,1604.2 L377.0,1604.2 L378.0,1604.3 L379.0,1604.4 L380.0,1604.5 L381.0,1604.6 L382.0,1604.7 L383.0,1604.8 L384.0,1604.9 L385.0,1605.0 L386.0,1605.1 L387.0,1605.2 L388.0,1605.3 L389.0,1605.4 L390.0,1605.5 L391.0,1605.6 L392.0,1605.7 L393.0,1605.9 L394.0,1606.0 L395.0,1606.1 L396.0,1606.3 L397.0,1606.4 L398.0,1606.6 L399.0,1606.7 L400.0,1606.9 L401.0,1607.0 L402.0,1607.2 L403.0,1607.3 L404.0,1607.5 L405.0,1607.6 L406.0,1607.8 L407.0,1608.0 L408.0,1608.1 L409.0,1608.3 L410.0,1608.4 L411.0,1608.6 L412.0,1608.7 L413.0,1608.8 L414.0,1609.0 L415.0,1609.1 L416.0,1609.3 L417.0,1609.4 L418.0,1609.5 L419.0,1609.7 L420.0,1609.8 L421.0,1609.9 L422.0,1610.1 L423.0,1610.2 L424.0,1610.3 L425.0,1610.5 L426.0,1610.6 L427.0,1610.7 L428.0,1610.8 L429.0,1611.0 L430.0,1611.1 L431.0,1611.2 L432.0,1611.3 L433.0,1611.5 L434.0,1611.6 L435.0,1611.7 L436.0,1611.9 L437.0,1612.0 L438.0,1612.1 L439.0,1612.2 L440.0,1612.4 L441.0,1612.5 L442.0,1612.6 L443.0,1612.7 L444.0,1612.9 L445.0,1613.0 L446.0,1613.1 L447.0,1613.2 L448.0,1613.3 L449.0,1613.5 L450.0,1613.6 L451.0,1613.7 L452.0,1613.8 L453.0,1614.0 L454.0,1614.1 L455.0,1614.2 L456.0,1614.3 L457.0,1614.5 L458.0,1614.6 L459.0,1614.7 L460.0,1614.9 L461.0,1615.0 L462.0,1615.1 L463.0,1615.2 L464.0,1615.4 L465.0,1615.5 L466.0,1615.6 L467.0,1615.8 L468.0,1615.9 L469.0,1616.0 L470.0,1616.2 L471.0,1616.3 L472.0,1616.4 L473.0,1616.6 L474.0,1616.7 L475.0,1616.8 L476.0,1617.0 L477.0,1617.1 L478.0,1617.2 L479.0,1617.4 L480.0,1617.5 L481.0,1617.7 L482.0,1617.8 L483.0,1618.0 L484.0,1618.1 L485.0,1618.2 L486.0,1618.4 L487.0,1618.5 L488.0,1618.7 L489.0,1618.8 L490.0,1619.0 L491.0,1619.1 L492.0,1619.3 L493.0,1619.5 L494.0,1619.6 L495.0,1619.8 L496.0,1619.9 L497.0,1620.1 L498.0,1620.2 L499.0,1620.4 L500.0,1620.6 L501.0,1620.7 L502.0,1620.9 L503.0,1621.1 L504.0,1621.2 L505.0,1621.4 L506.0,1621.6 L507.0,1621.7 L508.0,1621.9 L509.0,1622.1 L510.0,1622.2 L511.0,1622.4 L512.0,1622.6 L513.0,1622.8 L514.0,1622.9 L515.0,1623.1 L516.0,1623.3 L517.0,1623.5 L518.0,1623.7 L519.0,1623.8 L520.0,1624.0 L521.0,1624.2 L522.0,1624.4 L523.0,1624.6 L524.0,1624.8 L525.0,1625.0 L526.0,1625.2 L527.0,1625.3 L528.0,1625.5 L529.0,1625.7 L530.0,1625.9 L531.0,1626.1 L532.0,1626.3 L533.0,1626.5 L534.0,1626.7 L535.0,1626.9 L536.0,1627.2 L537.0,1627.4 L538.0,1627.6 L539.0,1627.8 L540.0,1628.0 L541.0,1628.2 L542.0,1628.4 L543.0,1628.7 L544.0,1628.9 L545.0,1629.1 L546.0,1629.4 L547.0,1629.6 L548.0,1629.9 L549.0,1630.1 L550.0,1630.4 L551.0,1630.6 L552.0,1630.9 L553.0,1631.2 L554.0,1631.4 L555.0,1631.7 L556.0,1632.0 L557.0,1632.2 L558.0,1632.5 L559.0,1632.8 L560.0,1633.1 L561.0,1633.3 L562.0,1633.6 L563.0,1633.9 L564.0,1634.2 L565.0,1634.4 L566.0,1634.7 L567.0,1635.0 L568.0,1635.3 L569.0,1635.6 L570.0,1635.8 L571.0,1636.1 L572.0,1636.4 L573.0,1636.6 L574.0,1636.9 L575.0,1637.2 L576.0,1637.4 L577.0,1637.7 L578.0,1638.0 L579.0,1638.2 L580.0,1638.5 L581.0,1638.7 L582.0,1639.0 L583.0,1639.2 L584.0,1639.4 L585.0,1639.7 L586.0,1639.9 L587.0,1640.2 L588.0,1640.4 L589.0,1640.6 L590.0,1640.9 L591.0,1641.1 L592.0,1641.3 L593.0,1641.6 L594.0,1641.8 L595.0,1642.0 L596.0,1642.3 L597.0,1642.5 L598.0,1642.8 L599.0,1643.0 L600.0,1643.2 L601.0,1643.5 L602.0,1643.7 L603.0,1643.9 L604.0,1644.1 L605.0,1644.4 L606.0,1644.6 L607.0,1644.8 L608.0,1645.1 L609.0,1645.3 L610.0,1645.5 L611.0,1645.7 L612.0,1646.0 L613.0,1646.2 L614.0,1646.4 L615.0,1646.6 L616.0,1646.9 L617.0,1647.1 L618.0,1647.3 L619.0,1647.5 L620.0,1647.7 L621.0,1648.0 L622.0,1648.2 L623.0,1648.4 L624.0,1648.6 L625.0,1648.8 L626.0,1649.0 L627.0,1649.2 L628.0,1649.5 L629.0,1649.7 L630.0,1649.9 L631.0,1650.1 L632.0,1650.3 L633.0,1650.5 L634.0,1650.7 L635.0,1650.9 L636.0,1651.1 L637.0,1651.3 L638.0,1651.5 L639.0,1651.7 L640.0,1651.9 L641.0,1652.1 L642.0,1652.2 L643.0,1652.4 L644.0,1652.6 L645.0,1652.8 L646.0,1653.0 L647.0,1653.2 L648.0,1653.3 L649.0,1653.5 L650.0,1653.7 L651.0,1653.9 L652.0,1654.1 L653.0,1654.2 L654.0,1654.4 L655.0,1654.6 L656.0,1654.8 L657.0,1654.9 L658.0,1655.1 L659.0,1655.3 L660.0,1655.5 L661.0,1655.7 L662.0,1655.8 L663.0,1656.0 L664.0,1656.2 L665.0,1656.4 L666.0,1656.6 L667.0,1656.7 L668.0,1656.9 L669.0,1657.1 L670.0,1657.3 L671.0,1657.4 L672.0,1657.6 L673.0,1657.8 L674.0,1658.0 L675.0,1658.1 L676.0,1658.3 L677.0,1658.5 L678.0,1658.6 L679.0,1658.8 L680.0,1658.9 L681.0,1659.1 L682.0,1659.2 L683.0,1659.4 L684.0,1659.5 L685.0,1659.7 L686.0,1659.8 L687.0,1660.0 L688.0,1660.1 L689.0,1660.2 L690.0,1660.3 L691.0,1660.5 L692.0,1660.6 L693.0,1660.7 L694.0,1660.8 L695.0,1660.9 L696.0,1661.0 L697.0,1661.1 L698.0,1661.2 L699.0,1661.3 L700.0,1661.4 L701.0,1661.5 L702.0,1661.6 L703.0,1661.6 L704.0,1661.7 L705.0,1661.8 L706.0,1661.8 L707.0,1661.9 L708.0,1661.9 L709.0,1662.0 L710.0,1662.1 L711.0,1662.1 L712.0,1662.2 L713.0,1662.2 L714.0,1662.3 L715.0,1662.3 L716.0,1662.4 L717.0,1662.4 L718.0,1662.5 L719.0,1662.5 L720.0,1662.6 L721.0,1662.6 L722.0,1662.7 L723.0,1662.7 L724.0,1662.7 L725.0,1662.8 L726.0,1662.8 L727.0,1662.9 L728.0,1662.9 L729.0,1663.0 L730.0,1663.0 L731.0,1663.0 L732.0,1663.1 L733.0,1663.1 L734.0,1663.1 L735.0,1663.2 L736.0,1663.2 L737.0,1663.2 L738.0,1663.3 L739.0,1663.3 L740.0,1663.3 L741.0,1663.4 L742.0,1663.4 L743.0,1663.4 L744.0,1663.5 L745.0,1663.5 L746.0,1663.5 L747.0,1663.6 L748.0,1663.6 L749.0,1663.6 L750.0,1663.7 L751.0,1663.7 L752.0,1663.7 L753.0,1663.7 L754.0,1663.8 L755.0,1663.8 L756.0,1663.8 L757.0,1663.9 L758.0,1663.9 L759.0,1663.9 L760.0,1664.0 L761.0,1664.0 L762.0,1664.0 L763.0,1664.0 L764.0,1664.1 L765.0,1664.1 L766.0,1664.1 L767.0,1664.2 L768.0,1664.2 L769.0,1664.2 L770.0,1664.3 L771.0,1664.3 L772.0,1664.3 L773.0,1664.3 L774.0,1664.4 L775.0,1664.4 L776.0,1664.4 L777.0,1664.5 L778.0,1664.5 L779.0,1664.5 L780.0,1664.6 L781.0,1664.6 L782.0,1664.7 L783.0,1664.7 L784.0,1664.7 L785.0,1664.8 L786.0,1664.8 L787.0,1664.8 L788.0,1664.9 L789.0,1664.9 L790.0,1665.0 L791.0,1665.0 L792.0,1665.0 L793.0,1665.1 L794.0,1665.1 L795.0,1665.2 L796.0,1665.2 L797.0,1665.2 L798.0,1665.3 L799.0,1665.3 L800.0,1665.4 L801.0,1665.4 L802.0,1665.4 L803.0,1665.5 L804.0,1665.5 L805.0,1665.6 L806.0,1665.6 L807.0,1665.6 L808.0,1665.7 L809.0,1665.7 L810.0,1665.8 L811.0,1665.8 L812.0,1665.8 L813.0,1665.9 L814.0,1665.9 L815.0,1665.9 L816.0,1666.0 L817.0,1666.0 L818.0,1666.1 L819.0,1666.1 L820.0,1666.1 L821.0,1666.2 L822.0,1666.2 L823.0,1666.3 L824.0,1666.3 L825.0,1666.3 L826.0,1666.4 L827.0,1666.4 L828.0,1666.5 L829.0,1666.5 L830.0,1666.6 L831.0,1666.6 L832.0,1666.6 L833.0,1666.7 L834.0,1666.7 L835.0,1666.8 L836.0,1666.8 L837.0,1666.9 L838.0,1666.9 L839.0,1667.0 L840.0,1667.0 L841.0,1667.1 L842.0,1667.1 L843.0,1667.2 L844.0,1667.2 L845.0,1667.3 L846.0,1667.3 L847.0,1667.4 L848.0,1667.4 L849.0,1667.5 L850.0,1667.5 L851.0,1667.6 L852.0,1667.6 L853.0,1667.7 L854.0,1667.7 L855.0,1667.8 L856.0,1667.9 L857.0,1667.9 L858.0,1668.0 L859.0,1668.0 L860.0,1668.1 L861.0,1668.2 L862.0,1668.2 L863.0,1668.3 L864.0,1668.4 L865.0,1668.4 L866.0,1668.5 L867.0,1668.6 L868.0,1668.6 L869.0,1668.7 L870.0,1668.8 L871.0,1668.9 L872.0,1669.0 L873.0,1669.1 L874.0,1669.2 L875.0,1669.3 L876.0,1669.4 L877.0,1669.5 L878.0,1669.6 L879.0,1669.7 L880.0,1669.9 L881.0,1670.0 L882.0,1670.1 L883.0,1670.2 L884.0,1670.4 L885.0,1670.5 L886.0,1670.6 L887.0,1670.8 L888.0,1670.9 L889.0,1671.0 L890.0,1671.2 L891.0,1671.3 L892.0,1671.4 L893.0,1671.6 L894.0,1671.7 L895.0,1671.9 L896.0,1672.0 L897.0,1672.1 L898.0,1672.3 L899.0,1672.4 L900.0,1672.6 L901.0,1672.7 L902.0,1672.8 L903.0,1673.0 L904.0,1673.1 L905.0,1673.2 L906.0,1673.4 L907.0,1673.5 L908.0,1673.6 L909.0,1673.8 L910.0,1673.9 L911.0,1674.0 L912.0,1674.1 L913.0,1674.3 L914.0,1674.4 L915.0,1674.5 L916.0,1674.6 L917.0,1674.7 L918.0,1674.8 L919.0,1674.9 L920.0,1675.0 L921.0,1675.1 L922.0,1675.3 L923.0,1675.4 L924.0,1675.5 L925.0,1675.6 L926.0,1675.7 L927.0,1675.8 L928.0,1675.9 L929.0,1676.0 L930.0,1676.1 L931.0,1676.2 L932.0,1676.3 L933.0,1676.4 L934.0,1676.6 L935.0,1676.7 L936.0,1676.8 L937.0,1676.9 L938.0,1677.0 L939.0,1677.1 L940.0,1677.2 L941.0,1677.3 L942.0,1677.4 L943.0,1677.5 L944.0,1677.6 L945.0,1677.7 L946.0,1677.8 L947.0,1677.9 L948.0,1678.0 L949.0,1678.1 L950.0,1678.2 L951.0,1678.3 L952.0,1678.4 L953.0,1678.5 L954.0,1678.6 L955.0,1678.7 L956.0,1678.8 L957.0,1678.9 L958.0,1679.0 L959.0,1679.1 L960.0,1679.2 L961.0,1679.3 L962.0,1679.4 L963.0,1679.5 L964.0,1679.6 L965.0,1679.7 L966.0,1679.8 L967.0,1679.9 L968.0,1680.0 L969.0,1680.1 L970.0,1680.2 L971.0,1680.3 L972.0,1680.4 L973.0,1680.5 L974.0,1680.6 L975.0,1680.7 L976.0,1680.8 L977.0,1680.9 L978.0,1681.0 L979.0,1681.0 L980.0,1681.1 L981.0,1681.2 L982.0,1681.3 L983.0,1681.4 L984.0,1681.5 L985.0,1681.6 L986.0,1681.7 L987.0,1681.8 L988.0,1681.9 L989.0,1681.9 L990.0,1682.0 L991.0,1682.1 L992.0,1682.2 L993.0,1682.3 L994.0,1682.4 L995.0,1682.5 L996.0,1682.6" fill="none" stroke="#5c0f1e" stroke-width="3.0" stroke-linejoin="round" stroke-linecap="round" />
<path d="M155.0,1594.9 L156.0,1594.8 L157.0,1594.6 L158.0,1594.5 L159.0,1594.4 L160.0,1594.2 L161.0,1594.1 L162.0,1593.9 L163.0,1593.7 L164.0,1593.5 L165.0,1593.3 L166.0,1593.1 L167.0,1592.8 L168.0,1592.6 L169.0,1592.3 L170.0,1592.1 L171.0,1591.8 L172.0,1591.5 L173.0,1591.1 L174.0,1590.8 L175.0,1590.5 L176.0,1590.1 L177.0,1589.7 L178.0,1589.3 L179.0,1588.9 L180.0,1588.5 L181.0,1588.1 L182.0,1587.7 L183.0,1587.2 L184.0,1586.8 L185.0,1586.3 L186.0,1585.9 L187.0,1585.4 L188.0,1584.9 L189.0,1584.4 L190.0,1583.9 L191.0,1583.5 L192.0,1583.0 L193.0,1582.5 L194.0,1582.0 L195.0,1581.6 L196.0,1581.1 L197.0,1580.7 L198.0,1580.2 L199.0,1579.8 L200.0,1579.4 L201.0,1579.0 L202.0,1578.7 L203.0,1578.3 L204.0,1578.0 L205.0,1577.7 L206.0,1577.4 L207.0,1577.2 L208.0,1576.9 L209.0,1576.7 L210.0,1576.6 L211.0,1576.4 L212.0,1576.3 L213.0,1576.3 L214.0,1576.2 L215.0,1576.2 L216.0,1576.2 L217.0,1576.3 L218.0,1576.4 L219.0,1576.5 L220.0,1576.7 L221.0,1576.8 L222.0,1577.1 L223.0,1577.3 L224.0,1577.6 L225.0,1577.8 L226.0,1578.2 L227.0,1578.5 L228.0,1578.9 L229.0,1579.3 L230.0,1579.7 L231.0,1580.1 L232.0,1580.5 L233.0,1581.0 L234.0,1581.4 L235.0,1581.9 L236.0,1582.4 L237.0,1582.9 L238.0,1583.3 L239.0,1583.8 L240.0,1584.3 L241.0,1584.8 L242.0,1585.3 L243.0,1585.8 L244.0,1586.3 L245.0,1586.8 L246.0,1587.3 L247.0,1587.7 L248.0,1588.2 L249.0,1588.6 L250.0,1589.1 L251.0,1589.5 L252.0,1589.9 L253.0,1590.3 L254.0,1590.7 L255.0,1591.1 L256.0,1591.5 L257.0,1591.8 L258.0,1592.1 L259.0,1592.5 L260.0,1592.8 L261.0,1593.1 L262.0,1593.3 L263.0,1593.6 L264.0,1593.9 L265.0,1594.1 L266.0,1594.3 L267.0,1594.5 L268.0,1594.7 L269.0,1594.9 L270.0,1595.1 L271.0,1595.3 L272.0,1595.4 L273.0,1595.6 L274.0,1595.7 L275.0,1595.8 L276.0,1596.0 L277.0,1596.1 L278.0,1596.2 L279.0,1596.3 L280.0,1596.4 L281.0,1596.5 L282.0,1596.5 L283.0,1596.6 L284.0,1596.7 L285.0,1596.7 L286.0,1596.8 L287.0,1596.9 L288.0,1596.9 L289.0,1597.0 L290.0,1597.0 L291.0,1597.1 L292.0,1597.1 L293.0,1597.1 L294.0,1597.2 L295.0,1597.2 L296.0,1597.3 L297.0,1597.3 L298.0,1597.4 L299.0,1597.5 L300.0,1597.6 L301.0,1597.6 L302.0,1597.7 L303.0,1597.8 L304.0,1597.9 L305.0,1598.0 L306.0,1598.1 L307.0,1598.2 L308.0,1598.3 L309.0,1598.4 L310.0,1598.5 L311.0,1598.6 L312.0,1598.7 L313.0,1598.8 L314.0,1598.9 L315.0,1599.0 L316.0,1599.2 L317.0,1599.3 L318.0,1599.4 L319.0,1599.5 L320.0,1599.6 L321.0,1599.7 L322.0,1599.8 L323.0,1599.9 L324.0,1600.0 L325.0,1600.1 L326.0,1600.1 L327.0,1600.2 L328.0,1600.3 L329.0,1600.4 L330.0,1600.4 L331.0,1600.5 L332.0,1600.5 L333.0,1600.6 L334.0,1600.6 L335.0,1600.6 L336.0,1600.7 L337.0,1600.7 L338.0,1600.7 L339.0,1600.7 L340.0,1600.7 L341.0,1600.7 L342.0,1600.6 L343.0,1600.6 L344.0,1600.6 L345.0,1600.5 L346.0,1600.5 L347.0,1600.4 L348.0,1600.3 L349.0,1600.2 L350.0,1600.1 L351.0,1599.9 L352.0,1599.8 L353.0,1599.6 L354.0,1599.4 L355.0,1599.2 L356.0,1599.0 L357.0,1598.7 L358.0,1598.4 L359.0,1598.1 L360.0,1597.8 L361.0,1597.5 L362.0,1597.1 L363.0,1596.7 L364.0,1596.2 L365.0,1595.8 L366.0,1595.3 L367.0,1594.8 L368.0,1594.2 L369.0,1593.6 L370.0,1593.0 L371.0,1592.3 L372.0,1591.6 L373.0,1590.9 L374.0,1590.2 L375.0,1589.4 L376.0,1588.5 L377.0,1587.7 L378.0,1586.8 L379.0,1585.8 L380.0,1584.9 L381.0,1583.9 L382.0,1582.8 L383.0,1581.8 L384.0,1580.7 L385.0,1579.5 L386.0,1578.4 L387.0,1577.2 L388.0,1576.0 L389.0,1574.7 L390.0,1573.5 L391.0,1572.2 L392.0,1570.9 L393.0,1569.6 L394.0,1568.3 L395.0,1567.0 L396.0,1565.7 L397.0,1564.3 L398.0,1563.0 L399.0,1561.6 L400.0,1560.3 L401.0,1558.9 L402.0,1557.6 L403.0,1556.2 L404.0,1554.9 L405.0,1553.5 L406.0,1552.2 L407.0,1550.8 L408.0,1549.5 L409.0,1548.2 L410.0,1546.9 L411.0,1545.6 L412.0,1544.3 L413.0,1543.0 L414.0,1541.7 L415.0,1540.5 L416.0,1539.2 L417.0,1538.0 L418.0,1536.8 L419.0,1535.5 L420.0,1534.3 L421.0,1533.2 L422.0,1532.0 L423.0,1530.8 L424.0,1529.6 L425.0,1528.5 L426.0,1527.3 L427.0,1526.2 L428.0,1525.1 L429.0,1523.9 L430.0,1522.8 L431.0,1521.6 L432.0,1520.5 L433.0,1519.4 L434.0,1518.2 L435.0,1517.1 L436.0,1515.9 L437.0,1514.7 L438.0,1513.5 L439.0,1512.3 L440.0,1511.1 L441.0,1509.9 L442.0,1508.7 L443.0,1507.4 L444.0,1506.2 L445.0,1504.9 L446.0,1503.6 L447.0,1502.3 L448.0,1501.0 L449.0,1499.7 L450.0,1498.4 L451.0,1497.0 L452.0,1495.7 L453.0,1494.3 L454.0,1493.0 L455.0,1491.6 L456.0,1490.2 L457.0,1488.9 L458.0,1487.5 L459.0,1486.1 L460.0,1484.8 L461.0,1483.4 L462.0,1482.1 L463.0,1480.8 L464.0,1479.5 L465.0,1478.2 L466.0,1476.9 L467.0,1475.7 L468.0,1474.5 L469.0,1473.3 L470.0,1472.2 L471.0,1471.1 L472.0,1470.1 L473.0,1469.1 L474.0,1468.1 L475.0,1467.2 L476.0,1466.4 L477.0,1465.6 L478.0,1464.9 L479.0,1464.2 L480.0,1463.6 L481.0,1463.1 L482.0,1462.6 L483.0,1462.3 L484.0,1462.0 L485.0,1461.8 L486.0,1461.6 L487.0,1461.5 L488.0,1461.6 L489.0,1461.7 L490.0,1461.8 L491.0,1462.1 L492.0,1462.4 L493.0,1462.8 L494.0,1463.3 L495.0,1463.9 L496.0,1464.5 L497.0,1465.2 L498.0,1465.9 L499.0,1466.7 L500.0,1467.5 L501.0,1468.4 L502.0,1469.3 L503.0,1470.3 L504.0,1471.2 L505.0,1472.2 L506.0,1473.2 L507.0,1474.1 L508.0,1475.1 L509.0,1476.0 L510.0,1477.0 L511.0,1477.9 L512.0,1478.7 L513.0,1479.5 L514.0,1480.3 L515.0,1481.0 L516.0,1481.7 L517.0,1482.4 L518.0,1483.0 L519.0,1483.5 L520.0,1484.0 L521.0,1484.5 L522.0,1484.9 L523.0,1485.3 L524.0,1485.7 L525.0,1486.1 L526.0,1486.5 L527.0,1486.9 L528.0,1487.3 L529.0,1487.7 L530.0,1488.2 L531.0,1488.7 L532.0,1489.2 L533.0,1489.8 L534.0,1490.5 L535.0,1491.2 L536.0,1492.0 L537.0,1492.9 L538.0,1493.9 L539.0,1494.9 L540.0,1496.0 L541.0,1497.1 L542.0,1498.3 L543.0,1499.5 L544.0,1500.8 L545.0,1502.1 L546.0,1503.5 L547.0,1504.8 L548.0,1506.2 L549.0,1507.5 L550.0,1508.9 L551.0,1510.2 L552.0,1511.4 L553.0,1512.7 L554.0,1513.9 L555.0,1515.0 L556.0,1516.1 L557.0,1517.2 L558.0,1518.2 L559.0,1519.1 L560.0,1520.0 L561.0,1520.9 L562.0,1521.7 L563.0,1522.5 L564.0,1523.3 L565.0,1524.0 L566.0,1524.8 L567.0,1525.5 L568.0,1526.3 L569.0,1527.0 L570.0,1527.8 L571.0,1528.6 L572.0,1529.5 L573.0,1530.4 L574.0,1531.3 L575.0,1532.3 L576.0,1533.4 L577.0,1534.5 L578.0,1535.7 L579.0,1537.0 L580.0,1538.3 L581.0,1539.7 L582.0,1541.2 L583.0,1542.7 L584.0,1544.3 L585.0,1546.0 L586.0,1547.7 L587.0,1549.5 L588.0,1551.4 L589.0,1553.2 L590.0,1555.2 L591.0,1557.2 L592.0,1559.2 L593.0,1561.2 L594.0,1563.3 L595.0,1565.4 L596.0,1567.5 L597.0,1569.6 L598.0,1571.7 L599.0,1573.8 L600.0,1575.9 L601.0,1578.0 L602.0,1580.0 L603.0,1582.0 L604.0,1584.0 L605.0,1586.0 L606.0,1588.0 L607.0,1589.9 L608.0,1591.7 L609.0,1593.6 L610.0,1595.3 L611.0,1597.1 L612.0,1598.8 L613.0,1600.5 L614.0,1602.1 L615.0,1603.7 L616.0,1605.3 L617.0,1606.8 L618.0,1608.4 L619.0,1609.8 L620.0,1611.3 L621.0,1612.7 L622.0,1614.1 L623.0,1615.5 L624.0,1616.8 L625.0,1618.2 L626.0,1619.5 L627.0,1620.8 L628.0,1622.0 L629.0,1623.3 L630.0,1624.5 L631.0,1625.7 L632.0,1626.9 L633.0,1628.1 L634.0,1629.3 L635.0,1630.4 L636.0,1631.5 L637.0,1632.6 L638.0,1633.7 L639.0,1634.8 L640.0,1635.8 L641.0,1636.8 L642.0,1637.7 L643.0,1638.7 L644.0,1639.6 L645.0,1640.4 L646.0,1641.3 L647.0,1642.1 L648.0,1642.9 L649.0,1643.6 L650.0,1644.4 L651.0,1645.1 L652.0,1645.7 L653.0,1646.4 L654.0,1647.0 L655.0,1647.6 L656.0,1648.2 L657.0,1648.7 L658.0,1649.3 L659.0,1649.8 L660.0,1650.3 L661.0,1650.7 L662.0,1651.2 L663.0,1651.6 L664.0,1652.0 L665.0,1652.4 L666.0,1652.6 L667.0,1652.8 L668.0,1652.8 L669.0,1652.4 L670.0,1651.6 L671.0,1650.1 L672.0,1648.0 L673.0,1645.1 L674.0,1641.7 L675.0,1638.1 L676.0,1634.7 L677.0,1632.2 L678.0,1630.9 L679.0,1631.1 L680.0,1632.9 L681.0,1636.0 L682.0,1639.9 L683.0,1644.0 L684.0,1648.0 L685.0,1651.3 L686.0,1654.0 L687.0,1656.0 L688.0,1657.3 L689.0,1658.2 L690.0,1658.8 L691.0,1659.2 L692.0,1659.5 L693.0,1659.7 L694.0,1659.8 L695.0,1660.0 L696.0,1660.1 L697.0,1660.2 L698.0,1660.3 L699.0,1660.4 L700.0,1660.5 L701.0,1660.6 L702.0,1660.7 L703.0,1660.7 L704.0,1660.8 L705.0,1660.8 L706.0,1660.9 L707.0,1660.9 L708.0,1660.9 L709.0,1660.9 L710.0,1660.8 L711.0,1660.7 L712.0,1660.4 L713.0,1659.8 L714.0,1658.9 L715.0,1657.4 L716.0,1655.0 L717.0,1651.4 L718.0,1646.5 L719.0,1640.0 L720.0,1632.1 L721.0,1623.2 L722.0,1613.8 L723.0,1604.9 L724.0,1597.5 L725.0,1592.5 L726.0,1590.6 L727.0,1592.1 L728.0,1596.7 L729.0,1603.7 L730.0,1612.3 L731.0,1621.2 L732.0,1629.8 L733.0,1637.3 L734.0,1643.3 L735.0,1647.8 L736.0,1650.9 L737.0,1652.8 L738.0,1653.9 L739.0,1654.3 L740.0,1654.3 L741.0,1654.1 L742.0,1653.6 L743.0,1653.1 L744.0,1652.5 L745.0,1651.7 L746.0,1650.9 L747.0,1650.0 L748.0,1648.8 L749.0,1647.4 L750.0,1645.6 L751.0,1643.3 L752.0,1640.2 L753.0,1636.2 L754.0,1631.2 L755.0,1625.0 L756.0,1617.8 L757.0,1609.6 L758.0,1600.9 L759.0,1592.2 L760.0,1584.2 L761.0,1577.4 L762.0,1572.5 L763.0,1569.8 L764.0,1569.5 L765.0,1571.5 L766.0,1575.3 L767.0,1580.4 L768.0,1586.2 L769.0,1591.9 L770.0,1597.1 L771.0,1601.4 L772.0,1604.6 L773.0,1606.6 L774.0,1607.6 L775.0,1607.7 L776.0,1607.1 L777.0,1605.9 L778.0,1604.3 L779.0,1602.4 L780.0,1600.3 L781.0,1598.1 L782.0,1595.8 L783.0,1593.4 L784.0,1590.9 L785.0,1588.4 L786.0,1585.9 L787.0,1583.3 L788.0,1580.7 L789.0,1578.0 L790.0,1575.3 L791.0,1572.6 L792.0,1569.8 L793.0,1567.0 L794.0,1564.1 L795.0,1561.3 L796.0,1558.4 L797.0,1555.4 L798.0,1552.5 L799.0,1549.5 L800.0,1546.5 L801.0,1543.5 L802.0,1540.4 L803.0,1537.4 L804.0,1534.3 L805.0,1531.2 L806.0,1528.1 L807.0,1524.9 L808.0,1521.8 L809.0,1518.7 L810.0,1515.5 L811.0,1512.4 L812.0,1509.3 L813.0,1506.1 L814.0,1503.0 L815.0,1499.9 L816.0,1496.7 L817.0,1493.6 L818.0,1490.5 L819.0,1487.5 L820.0,1484.4 L821.0,1481.4 L822.0,1478.4 L823.0,1475.5 L824.0,1472.5 L825.0,1469.6 L826.0,1466.8 L827.0,1464.0 L828.0,1461.2 L829.0,1458.5 L830.0,1455.9 L831.0,1453.3 L832.0,1450.7 L833.0,1448.3 L834.0,1445.9 L835.0,1443.6 L836.0,1441.3 L837.0,1439.2 L838.0,1437.1 L839.0,1435.1 L840.0,1433.2 L841.0,1431.4 L842.0,1429.7 L843.0,1428.1 L844.0,1426.6 L845.0,1425.2 L846.0,1423.9 L847.0,1422.8 L848.0,1421.7 L849.0,1420.8 L850.0,1420.0 L851.0,1419.3 L852.0,1418.8 L853.0,1418.4 L854.0,1418.1 L855.0,1418.0 L856.0,1417.9 L857.0,1418.1 L858.0,1418.3 L859.0,1418.7 L860.0,1419.3 L861.0,1419.9 L862.0,1420.7 L863.0,1421.7 L864.0,1422.8 L865.0,1424.0 L866.0,1425.3 L867.0,1426.8 L868.0,1428.5 L869.0,1430.2 L870.0,1432.1 L871.0,1434.1 L872.0,1436.2 L873.0,1438.5 L874.0,1440.9 L875.0,1443.3 L876.0,1445.9 L877.0,1448.6 L878.0,1451.3 L879.0,1454.1 L880.0,1457.0 L881.0,1460.0 L882.0,1462.9 L883.0,1465.9 L884.0,1468.9 L885.0,1471.8 L886.0,1474.7 L887.0,1477.6 L888.0,1480.3 L889.0,1482.9 L890.0,1485.3 L891.0,1487.5 L892.0,1489.6 L893.0,1491.3 L894.0,1492.9 L895.0,1494.1 L896.0,1495.1 L897.0,1495.8 L898.0,1496.2 L899.0,1496.4 L900.0,1496.3 L901.0,1495.9 L902.0,1495.3 L903.0,1494.6 L904.0,1493.6 L905.0,1492.6 L906.0,1491.4 L907.0,1490.2 L908.0,1489.0 L909.0,1487.8 L910.0,1486.7 L911.0,1485.6 L912.0,1484.7 L913.0,1483.9 L914.0,1483.2 L915.0,1482.8 L916.0,1482.5 L917.0,1482.4 L918.0,1482.4 L919.0,1482.6 L920.0,1483.0 L921.0,1483.4 L922.0,1483.9 L923.0,1484.5 L924.0,1485.0 L925.0,1485.6 L926.0,1486.0 L927.0,1486.4 L928.0,1486.7 L929.0,1486.8 L930.0,1486.9 L931.0,1486.9 L932.0,1486.8 L933.0,1486.7 L934.0,1486.6 L935.0,1486.6 L936.0,1486.8 L937.0,1487.1 L938.0,1487.6 L939.0,1488.5 L940.0,1489.6 L941.0,1491.1 L942.0,1492.9 L943.0,1495.1 L944.0,1497.6 L945.0,1500.4 L946.0,1503.6 L947.0,1506.9 L948.0,1510.5 L949.0,1514.2 L950.0,1517.9 L951.0,1521.7 L952.0,1525.4 L953.0,1529.2 L954.0,1532.9 L955.0,1536.6 L956.0,1540.4 L957.0,1544.1 L958.0,1547.9 L959.0,1551.7 L960.0,1555.5 L961.0,1559.3 L962.0,1563.3 L963.0,1567.2 L964.0,1571.2 L965.0,1575.2 L966.0,1579.3 L967.0,1583.4 L968.0,1587.5 L969.0,1591.6 L970.0,1595.6 L971.0,1599.7 L972.0,1603.7 L973.0,1607.7 L974.0,1611.6 L975.0,1615.4 L976.0,1619.2 L977.0,1622.8 L978.0,1626.4 L979.0,1629.9 L980.0,1633.2 L981.0,1636.4 L982.0,1639.5 L983.0,1642.5 L984.0,1645.4 L985.0,1648.1 L986.0,1650.7 L987.0,1653.2 L988.0,1655.5 L989.0,1657.7 L990.0,1659.8 L991.0,1661.7 L992.0,1663.6 L993.0,1665.3 L994.0,1666.9 L995.0,1668.4 L996.0,1669.8" fill="none" stroke="#1c0a10" stroke-width="1.7" stroke-linejoin="round" stroke-linecap="round" />
<path d="M51.0,1593.0 L53.0,1592.9 L55.1,1589.8 L57.1,1593.4 L59.2,1591.6 L61.2,1593.5 L63.3,1598.2 L65.3,1591.2 L67.4,1588.1 L69.4,1588.1 L71.4,1600.4 L73.5,1597.6 L75.5,1603.0 L77.6,1601.4 L79.6,1592.2 L81.7,1594.1 L83.7,1582.9 L85.7,1603.7 L87.8,1598.1 L89.8,1588.4 L91.9,1582.1 L93.9,1590.8 L96.0,1577.9 L98.0,1585.5 L100.1,1596.7 L102.1,1591.7 L104.1,1587.1 L106.2,1596.2 L108.2,1589.7 L110.3,1599.7 L112.3,1586.7 L114.4,1583.0 L116.4,1588.0 L118.5,1577.7 L120.5,1596.3 L122.5,1583.4 L124.6,1597.7 L126.6,1579.1 L128.7,1588.9 L130.7,1579.7 L132.8,1580.8 L134.8,1591.9 L136.8,1593.6 L138.9,1580.4 L140.9,1595.8 L143.0,1583.4 L145.0,1588.6 L147.1,1588.6 L149.1,1589.6 L151.2,1575.9 L153.2,1595.8 L155.2,1597.4" fill="none" stroke="#4f101c" stroke-width="2.1" stroke-linejoin="round" stroke-linecap="round" />
<path d="M997.4,1683.4 L999.4,1680.1 L1001.5,1687.7 L1003.5,1685.7 L1005.5,1692.2 L1007.6,1682.3 L1009.6,1682.7 L1011.7,1688.4 L1013.7,1688.8 L1015.8,1677.3 L1017.8,1685.1 L1019.9,1679.4 L1021.9,1675.1 L1023.9,1680.7 L1026.0,1694.0 L1028.0,1689.8 L1030.1,1694.0 L1032.1,1687.1 L1034.2,1680.5 L1036.2,1693.0 L1038.3,1691.5 L1040.3,1664.1 L1042.3,1679.5 L1044.4,1681.8 L1046.4,1690.5 L1048.5,1683.7 L1050.5,1684.6 L1052.6,1675.8 L1054.6,1691.8 L1056.6,1678.5 L1058.7,1680.6 L1060.7,1679.1 L1062.8,1674.6 L1064.8,1682.3 L1066.9,1679.0 L1068.9,1690.2 L1071.0,1683.8 L1073.0,1687.2" fill="none" stroke="#4f101c" stroke-width="2.1" stroke-linejoin="round" stroke-linecap="round" />
<g fill="#f6f6f9" stroke="#24242c" stroke-width="1.2"><circle cx="51.0" cy="1593.0" r="1.95"/><circle cx="53.0" cy="1592.9" r="1.95"/><circle cx="55.1" cy="1589.8" r="1.95"/><circle cx="57.1" cy="1593.4" r="1.95"/><circle cx="59.2" cy="1591.6" r="1.95"/><circle cx="61.2" cy="1593.5" r="1.95"/><circle cx="63.3" cy="1598.2" r="1.95"/><circle cx="65.3" cy="1591.2" r="1.95"/><circle cx="67.4" cy="1588.1" r="1.95"/><circle cx="69.4" cy="1588.1" r="1.95"/><circle cx="71.4" cy="1600.4" r="1.95"/><circle cx="73.5" cy="1597.6" r="1.95"/><circle cx="75.5" cy="1603.0" r="1.95"/><circle cx="77.6" cy="1601.4" r="1.95"/><circle cx="79.6" cy="1592.2" r="1.95"/><circle cx="81.7" cy="1594.1" r="1.95"/><circle cx="83.7" cy="1582.9" r="1.95"/><circle cx="85.7" cy="1603.7" r="1.95"/><circle cx="87.8" cy="1598.1" r="1.95"/><circle cx="89.8" cy="1588.4" r="1.95"/><circle cx="91.9" cy="1582.1" r="1.95"/><circle cx="93.9" cy="1590.8" r="1.95"/><circle cx="96.0" cy="1577.9" r="1.95"/><circle cx="98.0" cy="1585.5" r="1.95"/><circle cx="100.1" cy="1596.7" r="1.95"/><circle cx="102.1" cy="1591.7" r="1.95"/><circle cx="104.1" cy="1587.1" r="1.95"/><circle cx="106.2" cy="1596.2" r="1.95"/><circle cx="108.2" cy="1589.7" r="1.95"/><circle cx="110.3" cy="1599.7" r="1.95"/><circle cx="112.3" cy="1586.7" r="1.95"/><circle cx="114.4" cy="1583.0" r="1.95"/><circle cx="116.4" cy="1588.0" r="1.95"/><circle cx="118.5" cy="1577.7" r="1.95"/><circle cx="120.5" cy="1596.3" r="1.95"/><circle cx="122.5" cy="1583.4" r="1.95"/><circle cx="124.6" cy="1597.7" r="1.95"/><circle cx="126.6" cy="1579.1" r="1.95"/><circle cx="128.7" cy="1588.9" r="1.95"/><circle cx="130.7" cy="1579.7" r="1.95"/><circle cx="132.8" cy="1580.8" r="1.95"/><circle cx="134.8" cy="1591.9" r="1.95"/><circle cx="136.8" cy="1593.6" r="1.95"/><circle cx="138.9" cy="1580.4" r="1.95"/><circle cx="140.9" cy="1595.8" r="1.95"/><circle cx="143.0" cy="1583.4" r="1.95"/><circle cx="145.0" cy="1588.6" r="1.95"/><circle cx="147.1" cy="1588.6" r="1.95"/><circle cx="149.1" cy="1589.6" r="1.95"/><circle cx="151.2" cy="1575.9" r="1.95"/><circle cx="153.2" cy="1595.8" r="1.95"/><circle cx="155.2" cy="1597.4" r="1.95"/><circle cx="157.3" cy="1588.5" r="1.95"/><circle cx="159.3" cy="1582.7" r="1.95"/><circle cx="161.4" cy="1576.8" r="1.95"/><circle cx="163.4" cy="1576.7" r="1.95"/><circle cx="165.5" cy="1589.1" r="1.95"/><circle cx="167.5" cy="1584.5" r="1.95"/><circle cx="169.6" cy="1576.2" r="1.95"/><circle cx="171.6" cy="1580.4" r="1.95"/><circle cx="173.6" cy="1593.7" r="1.95"/><circle cx="175.7" cy="1584.0" r="1.95"/><circle cx="177.7" cy="1583.0" r="1.95"/><circle cx="179.8" cy="1594.1" r="1.95"/><circle cx="181.8" cy="1588.5" r="1.95"/><circle cx="183.9" cy="1582.9" r="1.95"/><circle cx="185.9" cy="1576.2" r="1.95"/><circle cx="187.9" cy="1572.4" r="1.95"/><circle cx="190.0" cy="1571.5" r="1.95"/><circle cx="192.0" cy="1573.0" r="1.95"/><circle cx="194.1" cy="1573.5" r="1.95"/><circle cx="196.1" cy="1575.5" r="1.95"/><circle cx="198.2" cy="1577.0" r="1.95"/><circle cx="200.2" cy="1576.3" r="1.95"/><circle cx="202.3" cy="1576.2" r="1.95"/><circle cx="204.3" cy="1568.0" r="1.95"/><circle cx="206.3" cy="1559.2" r="1.95"/><circle cx="208.4" cy="1569.9" r="1.95"/><circle cx="210.4" cy="1567.2" r="1.95"/><circle cx="212.5" cy="1570.0" r="1.95"/><circle cx="214.5" cy="1573.8" r="1.95"/><circle cx="216.6" cy="1567.8" r="1.95"/><circle cx="218.6" cy="1567.9" r="1.95"/><circle cx="220.7" cy="1576.4" r="1.95"/><circle cx="222.7" cy="1578.7" r="1.95"/><circle cx="224.7" cy="1574.3" r="1.95"/><circle cx="226.8" cy="1580.7" r="1.95"/><circle cx="228.8" cy="1578.5" r="1.95"/><circle cx="230.9" cy="1574.8" r="1.95"/><circle cx="232.9" cy="1572.2" r="1.95"/><circle cx="235.0" cy="1592.7" r="1.95"/><circle cx="237.0" cy="1579.5" r="1.95"/><circle cx="239.0" cy="1594.8" r="1.95"/><circle cx="241.1" cy="1592.6" r="1.95"/><circle cx="243.1" cy="1588.7" r="1.95"/><circle cx="245.2" cy="1583.4" r="1.95"/><circle cx="247.2" cy="1601.7" r="1.95"/><circle cx="249.3" cy="1590.5" r="1.95"/><circle cx="251.3" cy="1588.7" r="1.95"/><circle cx="253.4" cy="1589.1" r="1.95"/><circle cx="255.4" cy="1591.8" r="1.95"/><circle cx="257.4" cy="1602.6" r="1.95"/><circle cx="259.5" cy="1588.4" r="1.95"/><circle cx="261.5" cy="1598.3" r="1.95"/><circle cx="263.6" cy="1585.6" r="1.95"/><circle cx="265.6" cy="1583.0" r="1.95"/><circle cx="267.7" cy="1593.7" r="1.95"/><circle cx="269.7" cy="1593.1" r="1.95"/><circle cx="271.8" cy="1596.9" r="1.95"/><circle cx="273.8" cy="1585.6" r="1.95"/><circle cx="275.8" cy="1599.2" r="1.95"/><circle cx="277.9" cy="1595.3" r="1.95"/><circle cx="279.9" cy="1602.8" r="1.95"/><circle cx="282.0" cy="1584.2" r="1.95"/><circle cx="284.0" cy="1585.7" r="1.95"/><circle cx="286.1" cy="1590.8" r="1.95"/><circle cx="288.1" cy="1588.0" r="1.95"/><circle cx="290.1" cy="1589.5" r="1.95"/><circle cx="292.2" cy="1596.6" r="1.95"/><circle cx="294.2" cy="1591.8" r="1.95"/><circle cx="296.3" cy="1591.7" r="1.95"/><circle cx="298.3" cy="1601.8" r="1.95"/><circle cx="300.4" cy="1605.1" r="1.95"/><circle cx="302.4" cy="1605.7" r="1.95"/><circle cx="304.5" cy="1595.4" r="1.95"/><circle cx="306.5" cy="1599.7" r="1.95"/><circle cx="308.5" cy="1605.9" r="1.95"/><circle cx="310.6" cy="1596.5" r="1.95"/><circle cx="312.6" cy="1596.4" r="1.95"/><circle cx="314.7" cy="1606.8" r="1.95"/><circle cx="316.7" cy="1602.9" r="1.95"/><circle cx="318.8" cy="1592.4" r="1.95"/><circle cx="320.8" cy="1589.7" r="1.95"/><circle cx="322.9" cy="1591.2" r="1.95"/><circle cx="324.9" cy="1594.8" r="1.95"/><circle cx="326.9" cy="1600.2" r="1.95"/><circle cx="329.0" cy="1604.3" r="1.95"/><circle cx="331.0" cy="1599.4" r="1.95"/><circle cx="333.1" cy="1594.9" r="1.95"/><circle cx="335.1" cy="1600.3" r="1.95"/><circle cx="337.2" cy="1596.6" r="1.95"/><circle cx="339.2" cy="1603.7" r="1.95"/><circle cx="341.2" cy="1600.8" r="1.95"/><circle cx="343.3" cy="1619.9" r="1.95"/><circle cx="345.3" cy="1608.0" r="1.95"/><circle cx="347.4" cy="1598.7" r="1.95"/><circle cx="349.4" cy="1596.8" r="1.95"/><circle cx="351.5" cy="1600.6" r="1.95"/><circle cx="353.5" cy="1594.5" r="1.95"/><circle cx="355.6" cy="1595.4" r="1.95"/><circle cx="357.6" cy="1593.7" r="1.95"/><circle cx="359.6" cy="1602.5" r="1.95"/><circle cx="361.7" cy="1583.8" r="1.95"/><circle cx="363.7" cy="1595.5" r="1.95"/><circle cx="365.8" cy="1579.2" r="1.95"/><circle cx="367.8" cy="1585.8" r="1.95"/><circle cx="369.9" cy="1589.4" r="1.95"/><circle cx="371.9" cy="1586.9" r="1.95"/><circle cx="374.0" cy="1594.1" r="1.95"/><circle cx="376.0" cy="1600.6" r="1.95"/><circle cx="378.0" cy="1589.8" r="1.95"/><circle cx="380.1" cy="1581.9" r="1.95"/><circle cx="382.1" cy="1577.1" r="1.95"/><circle cx="384.2" cy="1563.1" r="1.95"/><circle cx="386.2" cy="1564.6" r="1.95"/><circle cx="388.3" cy="1575.1" r="1.95"/><circle cx="390.3" cy="1567.1" r="1.95"/><circle cx="392.3" cy="1567.0" r="1.95"/><circle cx="394.4" cy="1568.5" r="1.95"/><circle cx="396.4" cy="1560.7" r="1.95"/><circle cx="398.5" cy="1557.7" r="1.95"/><circle cx="400.5" cy="1553.9" r="1.95"/><circle cx="402.6" cy="1561.7" r="1.95"/><circle cx="404.6" cy="1556.6" r="1.95"/><circle cx="406.7" cy="1551.9" r="1.95"/><circle cx="408.7" cy="1547.2" r="1.95"/><circle cx="410.7" cy="1552.2" r="1.95"/><circle cx="412.8" cy="1548.1" r="1.95"/><circle cx="414.8" cy="1541.9" r="1.95"/><circle cx="416.9" cy="1550.8" r="1.95"/><circle cx="418.9" cy="1539.5" r="1.95"/><circle cx="421.0" cy="1536.5" r="1.95"/><circle cx="423.0" cy="1541.7" r="1.95"/><circle cx="425.1" cy="1536.3" r="1.95"/><circle cx="427.1" cy="1527.3" r="1.95"/><circle cx="429.1" cy="1526.6" r="1.95"/><circle cx="431.2" cy="1515.3" r="1.95"/><circle cx="433.2" cy="1513.8" r="1.95"/><circle cx="435.3" cy="1499.9" r="1.95"/><circle cx="437.3" cy="1517.9" r="1.95"/><circle cx="439.4" cy="1493.4" r="1.95"/><circle cx="441.4" cy="1505.4" r="1.95"/><circle cx="443.4" cy="1490.2" r="1.95"/><circle cx="445.5" cy="1483.8" r="1.95"/><circle cx="447.5" cy="1484.5" r="1.95"/><circle cx="449.6" cy="1480.5" r="1.95"/><circle cx="451.6" cy="1479.6" r="1.95"/><circle cx="453.7" cy="1483.2" r="1.95"/><circle cx="455.7" cy="1470.8" r="1.95"/><circle cx="457.8" cy="1471.8" r="1.95"/><circle cx="459.8" cy="1459.1" r="1.95"/><circle cx="461.8" cy="1466.0" r="1.95"/><circle cx="463.9" cy="1460.1" r="1.95"/><circle cx="465.9" cy="1453.6" r="1.95"/><circle cx="468.0" cy="1455.3" r="1.95"/><circle cx="470.0" cy="1454.2" r="1.95"/><circle cx="472.1" cy="1454.7" r="1.95"/><circle cx="474.1" cy="1455.6" r="1.95"/><circle cx="476.2" cy="1450.9" r="1.95"/><circle cx="478.2" cy="1449.4" r="1.95"/><circle cx="480.2" cy="1458.1" r="1.95"/><circle cx="482.3" cy="1443.9" r="1.95"/><circle cx="484.3" cy="1452.3" r="1.95"/><circle cx="486.4" cy="1464.4" r="1.95"/><circle cx="488.4" cy="1440.8" r="1.95"/><circle cx="490.5" cy="1454.6" r="1.95"/><circle cx="492.5" cy="1462.9" r="1.95"/><circle cx="494.5" cy="1449.6" r="1.95"/><circle cx="496.6" cy="1477.0" r="1.95"/><circle cx="498.6" cy="1447.8" r="1.95"/><circle cx="500.7" cy="1475.7" r="1.95"/><circle cx="502.7" cy="1478.6" r="1.95"/><circle cx="504.8" cy="1475.5" r="1.95"/><circle cx="506.8" cy="1469.1" r="1.95"/><circle cx="508.9" cy="1474.5" r="1.95"/><circle cx="510.9" cy="1470.0" r="1.95"/><circle cx="512.9" cy="1483.2" r="1.95"/><circle cx="515.0" cy="1473.1" r="1.95"/><circle cx="517.0" cy="1480.0" r="1.95"/><circle cx="519.1" cy="1487.6" r="1.95"/><circle cx="521.1" cy="1475.8" r="1.95"/><circle cx="523.2" cy="1483.5" r="1.95"/><circle cx="525.2" cy="1488.5" r="1.95"/><circle cx="527.3" cy="1479.2" r="1.95"/><circle cx="529.3" cy="1494.9" r="1.95"/><circle cx="531.3" cy="1488.7" r="1.95"/><circle cx="533.4" cy="1478.7" r="1.95"/><circle cx="535.4" cy="1489.0" r="1.95"/><circle cx="537.5" cy="1487.0" r="1.95"/><circle cx="539.5" cy="1488.0" r="1.95"/><circle cx="541.6" cy="1493.5" r="1.95"/><circle cx="543.6" cy="1490.6" r="1.95"/><circle cx="545.6" cy="1505.5" r="1.95"/><circle cx="547.7" cy="1499.1" r="1.95"/><circle cx="549.7" cy="1513.9" r="1.95"/><circle cx="551.8" cy="1510.1" r="1.95"/><circle cx="553.8" cy="1517.3" r="1.95"/><circle cx="555.9" cy="1511.8" r="1.95"/><circle cx="557.9" cy="1516.1" r="1.95"/><circle cx="560.0" cy="1515.4" r="1.95"/><circle cx="562.0" cy="1527.2" r="1.95"/><circle cx="564.0" cy="1531.2" r="1.95"/><circle cx="566.1" cy="1540.2" r="1.95"/><circle cx="568.1" cy="1535.9" r="1.95"/><circle cx="570.2" cy="1532.1" r="1.95"/><circle cx="572.2" cy="1533.2" r="1.95"/><circle cx="574.3" cy="1537.6" r="1.95"/><circle cx="576.3" cy="1538.1" r="1.95"/><circle cx="578.4" cy="1551.0" r="1.95"/><circle cx="580.4" cy="1549.8" r="1.95"/><circle cx="582.4" cy="1540.7" r="1.95"/><circle cx="584.5" cy="1543.0" r="1.95"/><circle cx="586.5" cy="1559.5" r="1.95"/><circle cx="588.6" cy="1558.2" r="1.95"/><circle cx="590.6" cy="1558.8" r="1.95"/><circle cx="592.7" cy="1572.6" r="1.95"/><circle cx="594.7" cy="1566.2" r="1.95"/><circle cx="596.7" cy="1570.3" r="1.95"/><circle cx="598.8" cy="1574.2" r="1.95"/><circle cx="600.8" cy="1568.8" r="1.95"/><circle cx="602.9" cy="1592.5" r="1.95"/><circle cx="604.9" cy="1582.8" r="1.95"/><circle cx="607.0" cy="1589.8" r="1.95"/><circle cx="609.0" cy="1590.6" r="1.95"/><circle cx="611.1" cy="1601.4" r="1.95"/><circle cx="613.1" cy="1598.0" r="1.95"/><circle cx="615.1" cy="1598.4" r="1.95"/><circle cx="617.2" cy="1594.2" r="1.95"/><circle cx="619.2" cy="1606.7" r="1.95"/><circle cx="621.3" cy="1598.6" r="1.95"/><circle cx="623.3" cy="1612.0" r="1.95"/><circle cx="625.4" cy="1614.5" r="1.95"/><circle cx="627.4" cy="1614.9" r="1.95"/><circle cx="629.5" cy="1633.3" r="1.95"/><circle cx="631.5" cy="1629.6" r="1.95"/><circle cx="633.5" cy="1632.1" r="1.95"/><circle cx="635.6" cy="1631.0" r="1.95"/><circle cx="637.6" cy="1631.7" r="1.95"/><circle cx="639.7" cy="1640.0" r="1.95"/><circle cx="641.7" cy="1644.6" r="1.95"/><circle cx="643.8" cy="1647.4" r="1.95"/><circle cx="645.8" cy="1648.7" r="1.95"/><circle cx="647.8" cy="1640.1" r="1.95"/><circle cx="649.9" cy="1647.5" r="1.95"/><circle cx="651.9" cy="1643.6" r="1.95"/><circle cx="654.0" cy="1636.8" r="1.95"/><circle cx="656.0" cy="1637.0" r="1.95"/><circle cx="658.1" cy="1656.1" r="1.95"/><circle cx="660.1" cy="1646.6" r="1.95"/><circle cx="662.2" cy="1637.1" r="1.95"/><circle cx="664.2" cy="1648.7" r="1.95"/><circle cx="666.2" cy="1646.2" r="1.95"/><circle cx="668.3" cy="1638.1" r="1.95"/><circle cx="670.3" cy="1635.6" r="1.95"/><circle cx="672.4" cy="1635.0" r="1.95"/><circle cx="674.4" cy="1641.7" r="1.95"/><circle cx="676.5" cy="1623.7" r="1.95"/><circle cx="678.5" cy="1629.2" r="1.95"/><circle cx="680.6" cy="1635.9" r="1.95"/><circle cx="682.6" cy="1644.1" r="1.95"/><circle cx="684.6" cy="1634.7" r="1.95"/><circle cx="686.7" cy="1650.1" r="1.95"/><circle cx="688.7" cy="1650.0" r="1.95"/><circle cx="690.8" cy="1649.7" r="1.95"/><circle cx="692.8" cy="1651.1" r="1.95"/><circle cx="694.9" cy="1655.8" r="1.95"/><circle cx="696.9" cy="1656.8" r="1.95"/><circle cx="698.9" cy="1651.6" r="1.95"/><circle cx="701.0" cy="1666.9" r="1.95"/><circle cx="703.0" cy="1675.6" r="1.95"/><circle cx="705.1" cy="1656.2" r="1.95"/><circle cx="707.1" cy="1650.7" r="1.95"/><circle cx="709.2" cy="1662.1" r="1.95"/><circle cx="711.2" cy="1667.1" r="1.95"/><circle cx="713.3" cy="1664.7" r="1.95"/><circle cx="715.3" cy="1650.0" r="1.95"/><circle cx="717.3" cy="1655.2" r="1.95"/><circle cx="719.4" cy="1628.6" r="1.95"/><circle cx="721.4" cy="1583.8" r="1.95"/><circle cx="723.5" cy="1596.3" r="1.95"/><circle cx="725.5" cy="1592.6" r="1.95"/><circle cx="727.6" cy="1599.9" r="1.95"/><circle cx="729.6" cy="1614.7" r="1.95"/><circle cx="731.7" cy="1635.5" r="1.95"/><circle cx="733.7" cy="1641.1" r="1.95"/><circle cx="735.7" cy="1650.0" r="1.95"/><circle cx="737.8" cy="1661.1" r="1.95"/><circle cx="739.8" cy="1647.9" r="1.95"/><circle cx="741.9" cy="1630.6" r="1.95"/><circle cx="743.9" cy="1658.0" r="1.95"/><circle cx="746.0" cy="1643.8" r="1.95"/><circle cx="748.0" cy="1644.6" r="1.95"/><circle cx="750.0" cy="1644.5" r="1.95"/><circle cx="752.1" cy="1636.9" r="1.95"/><circle cx="754.1" cy="1629.8" r="1.95"/><circle cx="756.2" cy="1623.3" r="1.95"/><circle cx="758.2" cy="1584.0" r="1.95"/><circle cx="760.3" cy="1575.3" r="1.95"/><circle cx="762.3" cy="1583.1" r="1.95"/><circle cx="764.4" cy="1568.0" r="1.95"/><circle cx="766.4" cy="1577.2" r="1.95"/><circle cx="768.4" cy="1592.6" r="1.95"/><circle cx="770.5" cy="1610.3" r="1.95"/><circle cx="772.5" cy="1600.5" r="1.95"/><circle cx="774.6" cy="1612.1" r="1.95"/><circle cx="776.6" cy="1607.6" r="1.95"/><circle cx="778.7" cy="1607.2" r="1.95"/><circle cx="780.7" cy="1598.6" r="1.95"/><circle cx="782.8" cy="1595.9" r="1.95"/><circle cx="784.8" cy="1585.0" r="1.95"/><circle cx="786.8" cy="1581.9" r="1.95"/><circle cx="788.9" cy="1571.3" r="1.95"/><circle cx="790.9" cy="1564.4" r="1.95"/><circle cx="793.0" cy="1560.1" r="1.95"/><circle cx="795.0" cy="1554.6" r="1.95"/><circle cx="797.1" cy="1532.2" r="1.95"/><circle cx="799.1" cy="1557.0" r="1.95"/><circle cx="801.1" cy="1540.7" r="1.95"/><circle cx="803.2" cy="1528.6" r="1.95"/><circle cx="805.2" cy="1537.0" r="1.95"/><circle cx="807.3" cy="1519.9" r="1.95"/><circle cx="809.3" cy="1521.5" r="1.95"/><circle cx="811.4" cy="1512.3" r="1.95"/><circle cx="813.4" cy="1505.9" r="1.95"/><circle cx="815.5" cy="1499.1" r="1.95"/><circle cx="817.5" cy="1487.6" r="1.95"/><circle cx="819.5" cy="1486.0" r="1.95"/><circle cx="821.6" cy="1490.3" r="1.95"/><circle cx="823.6" cy="1456.5" r="1.95"/><circle cx="825.7" cy="1465.6" r="1.95"/><circle cx="827.7" cy="1463.1" r="1.95"/><circle cx="829.8" cy="1463.0" r="1.95"/><circle cx="831.8" cy="1443.2" r="1.95"/><circle cx="833.9" cy="1460.0" r="1.95"/><circle cx="835.9" cy="1440.7" r="1.95"/><circle cx="837.9" cy="1451.5" r="1.95"/><circle cx="840.0" cy="1439.1" r="1.95"/><circle cx="842.0" cy="1435.4" r="1.95"/><circle cx="844.1" cy="1433.9" r="1.95"/><circle cx="846.1" cy="1430.9" r="1.95"/><circle cx="848.2" cy="1430.3" r="1.95"/><circle cx="850.2" cy="1432.9" r="1.95"/><circle cx="852.2" cy="1420.4" r="1.95"/><circle cx="854.3" cy="1419.3" r="1.95"/><circle cx="856.3" cy="1425.9" r="1.95"/><circle cx="858.4" cy="1422.3" r="1.95"/><circle cx="860.4" cy="1411.8" r="1.95"/><circle cx="862.5" cy="1414.5" r="1.95"/><circle cx="864.5" cy="1423.2" r="1.95"/><circle cx="866.6" cy="1420.7" r="1.95"/><circle cx="868.6" cy="1424.9" r="1.95"/><circle cx="870.6" cy="1426.5" r="1.95"/><circle cx="872.7" cy="1446.6" r="1.95"/><circle cx="874.7" cy="1444.1" r="1.95"/><circle cx="876.8" cy="1455.5" r="1.95"/><circle cx="878.8" cy="1453.6" r="1.95"/><circle cx="880.9" cy="1473.3" r="1.95"/><circle cx="882.9" cy="1465.9" r="1.95"/><circle cx="885.0" cy="1489.7" r="1.95"/><circle cx="887.0" cy="1483.0" r="1.95"/><circle cx="889.0" cy="1484.5" r="1.95"/><circle cx="891.1" cy="1482.2" r="1.95"/><circle cx="893.1" cy="1473.1" r="1.95"/><circle cx="895.2" cy="1487.6" r="1.95"/><circle cx="897.2" cy="1490.0" r="1.95"/><circle cx="899.3" cy="1498.8" r="1.95"/><circle cx="901.3" cy="1480.7" r="1.95"/><circle cx="903.3" cy="1500.0" r="1.95"/><circle cx="905.4" cy="1485.1" r="1.95"/><circle cx="907.4" cy="1487.7" r="1.95"/><circle cx="909.5" cy="1475.4" r="1.95"/><circle cx="911.5" cy="1479.8" r="1.95"/><circle cx="913.6" cy="1477.9" r="1.95"/><circle cx="915.6" cy="1482.2" r="1.95"/><circle cx="917.7" cy="1481.5" r="1.95"/><circle cx="919.7" cy="1473.6" r="1.95"/><circle cx="921.7" cy="1488.2" r="1.95"/><circle cx="923.8" cy="1489.6" r="1.95"/><circle cx="925.8" cy="1490.9" r="1.95"/><circle cx="927.9" cy="1493.0" r="1.95"/><circle cx="929.9" cy="1495.0" r="1.95"/><circle cx="932.0" cy="1488.3" r="1.95"/><circle cx="934.0" cy="1483.3" r="1.95"/><circle cx="936.1" cy="1468.7" r="1.95"/><circle cx="938.1" cy="1497.2" r="1.95"/><circle cx="940.1" cy="1495.7" r="1.95"/><circle cx="942.2" cy="1495.2" r="1.95"/><circle cx="944.2" cy="1497.1" r="1.95"/><circle cx="946.3" cy="1508.2" r="1.95"/><circle cx="948.3" cy="1513.1" r="1.95"/><circle cx="950.4" cy="1517.8" r="1.95"/><circle cx="952.4" cy="1525.3" r="1.95"/><circle cx="954.4" cy="1549.7" r="1.95"/><circle cx="956.5" cy="1546.1" r="1.95"/><circle cx="958.5" cy="1548.0" r="1.95"/><circle cx="960.6" cy="1551.2" r="1.95"/><circle cx="962.6" cy="1561.5" r="1.95"/><circle cx="964.7" cy="1577.2" r="1.95"/><circle cx="966.7" cy="1586.3" r="1.95"/><circle cx="968.8" cy="1587.7" r="1.95"/><circle cx="970.8" cy="1595.7" r="1.95"/><circle cx="972.8" cy="1601.7" r="1.95"/><circle cx="974.9" cy="1605.3" r="1.95"/><circle cx="976.9" cy="1625.6" r="1.95"/><circle cx="979.0" cy="1625.7" r="1.95"/><circle cx="981.0" cy="1646.3" r="1.95"/><circle cx="983.1" cy="1632.3" r="1.95"/><circle cx="985.1" cy="1648.6" r="1.95"/><circle cx="987.2" cy="1655.6" r="1.95"/><circle cx="989.2" cy="1657.8" r="1.95"/><circle cx="991.2" cy="1641.0" r="1.95"/><circle cx="993.3" cy="1655.7" r="1.95"/><circle cx="995.3" cy="1667.0" r="1.95"/><circle cx="997.4" cy="1683.4" r="1.95"/><circle cx="999.4" cy="1680.1" r="1.95"/><circle cx="1001.5" cy="1687.7" r="1.95"/><circle cx="1003.5" cy="1685.7" r="1.95"/><circle cx="1005.5" cy="1692.2" r="1.95"/><circle cx="1007.6" cy="1682.3" r="1.95"/><circle cx="1009.6" cy="1682.7" r="1.95"/><circle cx="1011.7" cy="1688.4" r="1.95"/><circle cx="1013.7" cy="1688.8" r="1.95"/><circle cx="1015.8" cy="1677.3" r="1.95"/><circle cx="1017.8" cy="1685.1" r="1.95"/><circle cx="1019.9" cy="1679.4" r="1.95"/><circle cx="1021.9" cy="1675.1" r="1.95"/><circle cx="1023.9" cy="1680.7" r="1.95"/><circle cx="1026.0" cy="1694.0" r="1.95"/><circle cx="1028.0" cy="1689.8" r="1.95"/><circle cx="1030.1" cy="1694.0" r="1.95"/><circle cx="1032.1" cy="1687.1" r="1.95"/><circle cx="1034.2" cy="1680.5" r="1.95"/><circle cx="1036.2" cy="1693.0" r="1.95"/><circle cx="1038.3" cy="1691.5" r="1.95"/><circle cx="1040.3" cy="1664.1" r="1.95"/><circle cx="1042.3" cy="1679.5" r="1.95"/><circle cx="1044.4" cy="1681.8" r="1.95"/><circle cx="1046.4" cy="1690.5" r="1.95"/><circle cx="1048.5" cy="1683.7" r="1.95"/><circle cx="1050.5" cy="1684.6" r="1.95"/><circle cx="1052.6" cy="1675.8" r="1.95"/><circle cx="1054.6" cy="1691.8" r="1.95"/><circle cx="1056.6" cy="1678.5" r="1.95"/><circle cx="1058.7" cy="1680.6" r="1.95"/><circle cx="1060.7" cy="1679.1" r="1.95"/><circle cx="1062.8" cy="1674.6" r="1.95"/><circle cx="1064.8" cy="1682.3" r="1.95"/><circle cx="1066.9" cy="1679.0" r="1.95"/><circle cx="1068.9" cy="1690.2" r="1.95"/><circle cx="1071.0" cy="1683.8" r="1.95"/><circle cx="1073.0" cy="1687.2" r="1.95"/></g>
<g fill="#f6f6f9" stroke="#24242c" stroke-width="1.2"><circle cx="679.0" cy="1619.0" r="1.95"/><circle cx="727.0" cy="1575.0" r="1.95"/><circle cx="762.0" cy="1554.8" r="1.95"/></g>
<path d="M49.5,1703.2 H1075.3" stroke="#111" stroke-width="3.4" fill="none"/>
<path d="M51.0,1701.8 v17.4 M102.1,1701.8 v10.9 M153.2,1701.8 v17.4 M204.3,1701.8 v10.9 M255.4,1701.8 v17.4 M306.5,1701.8 v10.9 M357.6,1701.8 v17.4 M408.7,1701.8 v10.9 M459.8,1701.8 v17.4 M510.9,1701.8 v10.9 M562.0,1701.8 v17.4 M613.1,1701.8 v10.9 M664.2,1701.8 v17.4 M715.3,1701.8 v10.9 M766.4,1701.8 v17.4 M817.5,1701.8 v10.9 M868.6,1701.8 v17.4 M919.7,1701.8 v10.9 M970.8,1701.8 v17.4 M1021.9,1701.8 v10.9 M1073.0,1701.8 v17.4" stroke="#111" stroke-width="3.3" fill="none"/>
<g font-family="'Liberation Sans', Arial, Helvetica, sans-serif" font-size="41" fill="#111" stroke="#111" stroke-width="1.1" text-anchor="middle">
<text x="51.6" y="1763.2" textLength="64" lengthAdjust="spacingAndGlyphs">925</text>
<text x="153.8" y="1763.2" textLength="64" lengthAdjust="spacingAndGlyphs">920</text>
<text x="256.0" y="1763.2" textLength="64" lengthAdjust="spacingAndGlyphs">915</text>
<text x="358.2" y="1763.2" textLength="64" lengthAdjust="spacingAndGlyphs">910</text>
<text x="460.4" y="1763.2" textLength="64" lengthAdjust="spacingAndGlyphs">905</text>
<text x="562.6" y="1763.2" textLength="64" lengthAdjust="spacingAndGlyphs">900</text>
<text x="664.8" y="1763.2" textLength="64" lengthAdjust="spacingAndGlyphs">895</text>
<text x="767.0" y="1763.2" textLength="64" lengthAdjust="spacingAndGlyphs">890</text>
<text x="869.2" y="1763.2" textLength="64" lengthAdjust="spacingAndGlyphs">885</text>
<text x="971.4" y="1763.2" textLength="64" lengthAdjust="spacingAndGlyphs">880</text>
<text x="1073.6" y="1763.2" textLength="64" lengthAdjust="spacingAndGlyphs">875</text>
</g>
<text x="350.5" y="863.8" font-family="'Liberation Sans', Arial, Helvetica, sans-serif" font-size="38.5" fill="#111" stroke="#111" stroke-width="0.8" textLength="329" lengthAdjust="spacingAndGlyphs"><tspan font-style="italic">Binding energy / </tspan>eV</text><path d="M708,857.4 H809" stroke="#111" stroke-width="3.2" fill="none"/><path d="M722,847.9 L707.2,857.4 L722,866.9" stroke="#111" stroke-width="3.1" fill="none" stroke-linejoin="miter"/>
<text x="350.5" y="1815.3" font-family="'Liberation Sans', Arial, Helvetica, sans-serif" font-size="38.5" fill="#111" stroke="#111" stroke-width="0.8" textLength="329" lengthAdjust="spacingAndGlyphs"><tspan font-style="italic">Binding energy / </tspan>eV</text><path d="M708,1802 H809" stroke="#111" stroke-width="3.2" fill="none"/><path d="M722,1792.5 L707.2,1802 L722,1811.5" stroke="#111" stroke-width="3.1" fill="none" stroke-linejoin="miter"/>
<text x="66.5" y="373.8" font-family="'Liberation Sans', Arial, Helvetica, sans-serif" font-size="37.5" fill="#111" stroke="#111" stroke-width="1.5" stroke-linejoin="round" textLength="22.6" lengthAdjust="spacingAndGlyphs">d</text>
<text x="68" y="690.5" font-family="'Liberation Sans', Arial, Helvetica, sans-serif" font-size="37.5" fill="#111" stroke="#111" stroke-width="1.5" stroke-linejoin="round" textLength="20.3" lengthAdjust="spacingAndGlyphs">c</text>
<text x="73.3" y="1159" font-family="'Liberation Sans', Arial, Helvetica, sans-serif" font-size="37.5" fill="#111" stroke="#111" stroke-width="0.9" stroke-linejoin="round" textLength="22.6" lengthAdjust="spacingAndGlyphs">b</text>
<text x="74" y="1558" font-family="'Liberation Sans', Arial, Helvetica, sans-serif" font-size="37.5" fill="#111" stroke="#111" stroke-width="1.0" stroke-linejoin="round" textLength="22.6" lengthAdjust="spacingAndGlyphs">a</text>
<text x="200.5" y="334.5" font-family="'Liberation Sans', Arial, Helvetica, sans-serif" font-size="48" font-weight="bold" fill="#d414a6" stroke="#d414a6" stroke-width="1.1" text-anchor="middle">*</text>
<text x="272" y="232.5" font-family="'Liberation Sans', Arial, Helvetica, sans-serif" font-size="48" font-weight="bold" fill="#d414a6" stroke="#d414a6" stroke-width="1.1" text-anchor="middle">*</text>
<text x="679.3" y="1622.5" font-family="'Liberation Sans', Arial, Helvetica, sans-serif" font-size="48" font-weight="bold" fill="#48ad14" stroke="#48ad14" stroke-width="1.1" text-anchor="middle">*</text>
<text x="727.3" y="1574.5" font-family="'Liberation Sans', Arial, Helvetica, sans-serif" font-size="48" font-weight="bold" fill="#48ad14" stroke="#48ad14" stroke-width="1.1" text-anchor="middle">*</text>
<text x="762.3" y="1559.5" font-family="'Liberation Sans', Arial, Helvetica, sans-serif" font-size="48" font-weight="bold" fill="#48ad14" stroke="#48ad14" stroke-width="1.1" text-anchor="middle">*</text>
<path d="M22,1633 H68.5" stroke="#2c2cc0" stroke-width="3" fill="none"/>
<path d="M22,1675.2 H68.5" stroke="#d8341f" stroke-width="3.8" fill="none"/>
<text x="77" y="1643" font-family="'Liberation Sans', Arial, Helvetica, sans-serif" font-size="38" fill="#111" stroke="#111" stroke-width="0.6" textLength="118" lengthAdjust="spacingAndGlyphs">Ce (III)</text>
<text x="77" y="1684.3" font-family="'Liberation Sans', Arial, Helvetica, sans-serif" font-size="38" fill="#111" stroke="#111" stroke-width="0.6" textLength="122" lengthAdjust="spacingAndGlyphs">Ce (IV)</text>
</svg>
</body>
</html>
